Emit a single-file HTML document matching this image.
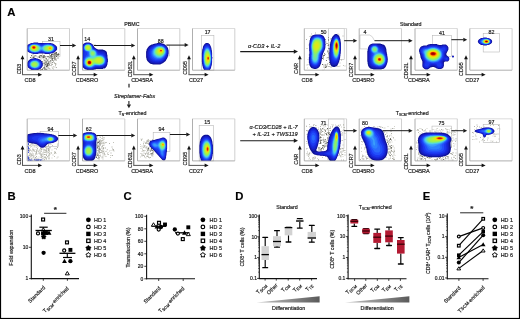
<!DOCTYPE html>
<html><head><meta charset="utf-8"><title>Figure</title><style>
html,body{margin:0;padding:0;background:#fff;}
#wrap{position:relative;width:520px;height:319px;overflow:hidden;background:#fff;}
svg{position:absolute;left:0;top:0;font-family:"Liberation Sans",sans-serif;}
#fg{will-change:transform;}
text{font-family:"Liberation Sans",sans-serif;stroke:#1a1a1a;stroke-width:0.18px;paint-order:stroke;}
</style></head><body><div id="wrap">
<svg width="520" height="319" viewBox="0 0 520 319">
<defs><filter id="bl" x="-5%" y="-5%" width="110%" height="110%"><feGaussianBlur stdDeviation="0.35"/></filter></defs>
<rect x="42.3" y="41.6" width="17.700000000000003" height="14.799999999999997" fill="none" stroke="#b8b8b8" stroke-width="0.6"/>
<rect x="153.8" y="45.1" width="15.699999999999989" height="10.899999999999999" fill="none" stroke="#b8b8b8" stroke-width="0.6"/>
<rect x="201.3" y="35.3" width="12.599999999999994" height="34.900000000000006" fill="none" stroke="#b8b8b8" stroke-width="0.6"/>
<rect x="328.3" y="28.5" width="15.899999999999977" height="30.9" fill="none" stroke="#b8b8b8" stroke-width="0.6"/>
<rect x="432.4" y="35.3" width="19.0" height="21.1" fill="none" stroke="#b8b8b8" stroke-width="0.6"/>
<rect x="483.2" y="33.5" width="16.30000000000001" height="18.5" fill="none" stroke="#b8b8b8" stroke-width="0.6"/>
<rect x="40.1" y="131.6" width="18.199999999999996" height="14.800000000000011" fill="none" stroke="#b8b8b8" stroke-width="0.6"/>
<rect x="153.2" y="132.6" width="16.700000000000017" height="18.700000000000017" fill="none" stroke="#b8b8b8" stroke-width="0.6"/>
<rect x="199.2" y="125.3" width="14.400000000000006" height="35.60000000000001" fill="none" stroke="#b8b8b8" stroke-width="0.6"/>
<rect x="328.3" y="119" width="15.699999999999989" height="29.19999999999999" fill="none" stroke="#b8b8b8" stroke-width="0.6"/>
<rect x="432" y="126.1" width="19.399999999999977" height="19.900000000000006" fill="none" stroke="#b8b8b8" stroke-width="0.6"/>
<rect x="483.2" y="124.4" width="16.30000000000001" height="18.0" fill="none" stroke="#b8b8b8" stroke-width="0.6"/>
<path d="M367,48.9 L360,48.9 L360,35 L369.5,35 Q372.5,35.5 374.5,40.7" fill="none" stroke="#b8b8b8" stroke-width="0.6"/>
<path d="M96,44.5 L83,44.5 L83,40" fill="none" stroke="#c8c8c8" stroke-width="0.5"/>
<g><path fill="rgb(120,120,110)" fill-opacity="0.8" d="M52 62h1v1h-1zM48 67.5h1v1h-1zM50.5 65h1v1h-1zM47 60h1v1h-1zM49.5 55h1v1h-1zM50 55h1v1h-1zM52 59.5h1v1h-1zM55.5 52h1v1h-1zM47.5 56h1v1h-1zM47 63.5h1v1h-1zM58 53.5h1v1h-1zM44.5 63.5h1v1h-1zM51 54h1v1h-1zM50 60h1v1h-1zM44.5 61.5h1v1h-1zM46.5 68.5h1v1h-1zM52.5 54h1v1h-1zM45.5 61h1v1h-1zM54 56h1v1h-1zM40 69.5h1v1h-1zM57.5 53.5h1v1h-1zM45.5 61.5h1v1h-1zM46.5 59h1v1h-1zM55 53.5h1v1h-1zM45.5 64.5h1v1h-1zM47 64h1v1h-1zM44 68.5h1v1h-1zM47 60.5h1v1h-1zM51 55.5h1v1h-1zM58.5 54h1v1h-1zM43.5 59.5h1v1h-1zM49 64h1v1h-1zM48.5 64.5h1v1h-1zM52.5 53.5h1v1h-1zM44.5 62h1v1h-1zM42 61h1v1h-1zM50.5 60.5h1v1h-1zM40.5 69h1v1h-1zM44 65.5h1v1h-1zM46 69h1v1h-1zM47 65h1v1h-1zM48.5 62.5h1v1h-1zM55.5 58.5h1v1h-1zM54.5 55h1v1h-1zM46.5 66h1v1h-1zM52.5 53h1v1h-1zM53.5 56.5h1v1h-1zM50 55h1v1h-1zM56.5 54.5h1v1h-1zM47.5 60.5h1v1h-1zM42.5 57.5h1v1h-1zM37.5 56.5h1v1h-1zM43 55h1v1h-1zM42 56.5h1v1h-1zM44 55h1v1h-1zM40.5 58.5h1v1h-1zM45 57.5h1v1h-1zM32.5 57h1v1h-1zM326.5 65.5h1v1h-1zM327 63.5h1v1h-1zM328 48h1v1h-1zM325 39h1v1h-1zM328.5 48h1v1h-1zM327.5 45h1v1h-1zM324 53h1v1h-1zM99 147.5h1v1h-1zM99 151.5h1v1h-1zM96 157h1v1h-1zM98 149.5h1v1h-1zM96.5 144.5h1v1h-1zM99 148.5h1v1h-1zM98.5 151h1v1h-1zM148.5 142.5h1v1h-1zM147 148.5h1v1h-1zM150.5 149.5h1v1h-1zM145 153.5h1v1h-1zM148 149.5h1v1h-1zM152.5 152h1v1h-1zM148 152.5h1v1h-1zM147 148.5h1v1h-1zM152 153h1v1h-1zM319.5 148.5h1v1h-1zM326 141.5h1v1h-1zM320 140h1v1h-1zM329 132.5h1v1h-1zM320.5 134h1v1h-1zM326 133h1v1h-1zM321 129.5h1v1h-1zM322 134.5h1v1h-1zM319.5 132.5h1v1h-1zM320 142.5h1v1h-1zM325 130.5h1v1h-1zM320.5 150h1v1h-1zM320.5 151h1v1h-1zM326.5 142.5h1v1h-1zM322.5 145.5h1v1h-1zM328.5 137.5h1v1h-1zM323.5 141h1v1h-1zM320 139.5h1v1h-1zM327 139.5h1v1h-1zM324.5 142.5h1v1h-1zM324.5 129.5h1v1h-1zM328 131.5h1v1h-1zM390 152.5h1v1h-1zM391.5 151h1v1h-1zM391 139.5h1v1h-1zM389.5 141.5h1v1h-1zM387.5 141.5h1v1h-1zM391 148h1v1h-1zM391 145h1v1h-1zM439 158h1v1h-1zM421.5 158h1v1h-1zM420.5 158h1v1h-1zM436.5 158.5h1v1h-1zM420.5 159h1v1h-1zM440.5 158.5h1v1h-1zM429 157h1v1h-1zM440 157h1v1h-1zM447.5 156h1v1h-1zM428.5 157.5h1v1h-1zM438.5 157h1v1h-1z"/>
<path fill="rgb(60,60,50)" fill-opacity="0.8" d="M51.5 58.5h1v1h-1zM53 58h1v1h-1zM43.5 67.5h1v1h-1zM54.5 59h1v1h-1zM51.5 64h1v1h-1zM56 56h1v1h-1zM47.5 63h1v1h-1zM43.5 63h1v1h-1zM55 57.5h1v1h-1zM50 56.5h1v1h-1zM45 68.5h1v1h-1zM49.5 61h1v1h-1zM46 66h1v1h-1zM51 57h1v1h-1zM46.5 66.5h1v1h-1zM46.5 65h1v1h-1zM42 69h1v1h-1zM52 58h1v1h-1zM51.5 54h1v1h-1zM47.5 63h1v1h-1zM48 63h1v1h-1zM46.5 64h1v1h-1zM57.5 57.5h1v1h-1zM56.5 55h1v1h-1zM52 58.5h1v1h-1zM52 60h1v1h-1zM41.5 69h1v1h-1zM51.5 56h1v1h-1zM58 54.5h1v1h-1zM44 63h1v1h-1zM54 53.5h1v1h-1zM52.5 54.5h1v1h-1zM45.5 62.5h1v1h-1zM49 56.5h1v1h-1zM56 52h1v1h-1zM46 58h1v1h-1zM49 53.5h1v1h-1zM51.5 57.5h1v1h-1zM53 54.5h1v1h-1zM51 55.5h1v1h-1zM51 54h1v1h-1zM47.5 65h1v1h-1zM42 68.5h1v1h-1zM40.5 56.5h1v1h-1zM44 56.5h1v1h-1zM43 57h1v1h-1zM39 57h1v1h-1zM33 56.5h1v1h-1zM34 56.5h1v1h-1zM35.5 55.5h1v1h-1zM326.5 43h1v1h-1zM329.5 64h1v1h-1zM325 64.5h1v1h-1zM328 39.5h1v1h-1zM329 62h1v1h-1zM322 64h1v1h-1zM322 58h1v1h-1zM328 44.5h1v1h-1zM325.5 66h1v1h-1zM325 67h1v1h-1zM328 53.5h1v1h-1zM327.5 51.5h1v1h-1zM323 56.5h1v1h-1zM98.5 141h1v1h-1zM97.5 142h1v1h-1zM97 155h1v1h-1zM98.5 146h1v1h-1zM96 156.5h1v1h-1zM97 142.5h1v1h-1zM97.5 154.5h1v1h-1zM99.5 144.5h1v1h-1zM98.5 157h1v1h-1zM99.5 143h1v1h-1zM99.5 149h1v1h-1zM97.5 145.5h1v1h-1zM98 142h1v1h-1zM151.5 154.5h1v1h-1zM148 148.5h1v1h-1zM150 150.5h1v1h-1zM148 147.5h1v1h-1zM151 149.5h1v1h-1zM151 148h1v1h-1zM327 128h1v1h-1zM323 148.5h1v1h-1zM323 139.5h1v1h-1zM327 137.5h1v1h-1zM321.5 139.5h1v1h-1zM326 134h1v1h-1zM320 128.5h1v1h-1zM320 141.5h1v1h-1zM329 134h1v1h-1zM319.5 137.5h1v1h-1zM324 146.5h1v1h-1zM325.5 143h1v1h-1zM319.5 143h1v1h-1zM320.5 137h1v1h-1zM321 148h1v1h-1zM322.5 145h1v1h-1zM320.5 140h1v1h-1zM325 130.5h1v1h-1zM320.5 142.5h1v1h-1zM320 136.5h1v1h-1zM320.5 130.5h1v1h-1zM325 139h1v1h-1zM329.5 128h1v1h-1zM327.5 132h1v1h-1zM326.5 145.5h1v1h-1zM327 142h1v1h-1zM320.5 149h1v1h-1zM386.5 139.5h1v1h-1zM389.5 151.5h1v1h-1zM391 150h1v1h-1zM391 147h1v1h-1zM388 143.5h1v1h-1zM388.5 148.5h1v1h-1zM389 154.5h1v1h-1zM389.5 145.5h1v1h-1zM389.5 146h1v1h-1zM390 139h1v1h-1zM427 157h1v1h-1zM424.5 158h1v1h-1zM443 159h1v1h-1zM421.5 156h1v1h-1zM445 157.5h1v1h-1zM420.5 155h1v1h-1zM437 158.5h1v1h-1z"/>
<path fill="rgb(90,90,80)" fill-opacity="0.8" d="M54.5 52h1v1h-1zM54.5 55h1v1h-1zM43.5 67h1v1h-1zM58 54h1v1h-1zM50.5 55.5h1v1h-1zM55 53.5h1v1h-1zM50.5 62.5h1v1h-1zM44.5 60h1v1h-1zM54 53.5h1v1h-1zM47.5 64h1v1h-1zM48 61.5h1v1h-1zM51 54.5h1v1h-1zM45 64h1v1h-1zM55 53h1v1h-1zM46 61.5h1v1h-1zM47.5 56h1v1h-1zM53 60.5h1v1h-1zM44.5 69h1v1h-1zM46 61.5h1v1h-1zM54 58h1v1h-1zM45 64h1v1h-1zM48.5 62.5h1v1h-1zM48.5 57.5h1v1h-1zM50.5 58h1v1h-1zM46 62.5h1v1h-1zM57 54h1v1h-1zM44 67.5h1v1h-1zM47 65.5h1v1h-1zM51 54.5h1v1h-1zM47 65.5h1v1h-1zM54.5 52.5h1v1h-1zM43.5 67h1v1h-1zM56 56h1v1h-1zM56 53h1v1h-1zM54 57h1v1h-1zM54.5 55.5h1v1h-1zM58 53.5h1v1h-1zM47.5 63h1v1h-1zM44.5 66.5h1v1h-1zM56 54h1v1h-1zM44.5 64.5h1v1h-1zM51.5 59.5h1v1h-1zM40 55h1v1h-1zM33 57h1v1h-1zM32.5 54.5h1v1h-1zM31.5 56.5h1v1h-1zM34.5 55h1v1h-1zM30 57h1v1h-1zM44.5 56h1v1h-1zM39.5 56.5h1v1h-1zM41 55h1v1h-1zM43 56h1v1h-1zM44 56.5h1v1h-1zM31 55h1v1h-1zM39 55.5h1v1h-1zM38.5 56.5h1v1h-1zM41 55.5h1v1h-1zM328.5 66h1v1h-1zM323 55h1v1h-1zM327.5 57h1v1h-1zM323.5 66.5h1v1h-1zM323 58.5h1v1h-1zM327 50.5h1v1h-1zM326 60h1v1h-1zM328 37h1v1h-1zM326 66.5h1v1h-1zM324.5 54h1v1h-1zM323.5 64.5h1v1h-1zM324 55h1v1h-1zM330.5 66.5h1v1h-1zM97.5 153.5h1v1h-1zM99 140.5h1v1h-1zM97 147h1v1h-1zM97 146.5h1v1h-1zM96 156.5h1v1h-1zM99 142.5h1v1h-1zM147 150h1v1h-1zM151.5 153h1v1h-1zM148 143.5h1v1h-1zM145 143h1v1h-1zM151.5 149.5h1v1h-1zM152 150h1v1h-1zM150.5 153h1v1h-1zM152.5 153.5h1v1h-1zM320 141.5h1v1h-1zM328.5 132h1v1h-1zM326.5 134.5h1v1h-1zM322.5 145h1v1h-1zM328 133h1v1h-1zM318.5 147h1v1h-1zM318.5 149.5h1v1h-1zM319.5 132.5h1v1h-1zM322 147h1v1h-1zM323.5 134.5h1v1h-1zM322 128h1v1h-1zM323.5 145.5h1v1h-1zM324.5 141h1v1h-1zM322 147.5h1v1h-1zM322 131h1v1h-1zM387 142h1v1h-1zM390 138h1v1h-1zM390 155h1v1h-1zM390 147.5h1v1h-1zM387.5 140.5h1v1h-1zM419.5 153.5h1v1h-1zM446.5 156h1v1h-1zM435.5 159h1v1h-1zM430.5 157h1v1h-1zM418 153.5h1v1h-1zM422 156h1v1h-1zM447.5 157.5h1v1h-1zM435.5 159.5h1v1h-1zM422.5 156.5h1v1h-1zM425 159.5h1v1h-1zM419.5 155.5h1v1h-1z"/>
<path fill="rgb(200,200,190)" fill-opacity="0.8" d="M52 68h1v1h-1zM43.5 61.5h1v1h-1zM46.5 62h1v1h-1zM44.5 56.5h1v1h-1zM48.5 66.5h1v1h-1zM43 62.5h1v1h-1zM48 59h1v1h-1zM53 66h1v1h-1zM50 62.5h1v1h-1zM51.5 66.5h1v1h-1zM49 56h1v1h-1zM55.5 63h1v1h-1zM43.5 63.5h1v1h-1zM51 64h1v1h-1zM52.5 55h1v1h-1zM54 62h1v1h-1zM49.5 61h1v1h-1zM55.5 64h1v1h-1zM43 63.5h1v1h-1zM48.5 59.5h1v1h-1zM45.5 57.5h1v1h-1zM46 59h1v1h-1zM51.5 63.5h1v1h-1zM43.5 65h1v1h-1zM53 56h1v1h-1zM47.5 57h1v1h-1zM52.5 67h1v1h-1zM53 58h1v1h-1zM328 37.5h1v1h-1zM339.5 65.5h1v1h-1zM324 68.5h1v1h-1zM307 67.5h1v1h-1zM328.5 43.5h1v1h-1zM324 67h1v1h-1zM322.5 69.5h1v1h-1zM328.5 63h1v1h-1zM308.5 54.5h1v1h-1zM328.5 54.5h1v1h-1zM328 54h1v1h-1zM307.5 59h1v1h-1zM338.5 66h1v1h-1zM329.5 42h1v1h-1zM322.5 33h1v1h-1zM36 153.5h1v1h-1zM32.5 157.5h1v1h-1zM34 145h1v1h-1zM36.5 157.5h1v1h-1zM35.5 159h1v1h-1zM31.5 155.5h1v1h-1zM30 144.5h1v1h-1zM44.5 158.5h1v1h-1zM32 153.5h1v1h-1zM38 151h1v1h-1zM49 151h1v1h-1zM43 153.5h1v1h-1zM43 149.5h1v1h-1zM39.5 159h1v1h-1zM46 148.5h1v1h-1zM49 153.5h1v1h-1zM47.5 150.5h1v1h-1zM35 154.5h1v1h-1zM42.5 152h1v1h-1zM29.5 150h1v1h-1zM32.5 145h1v1h-1zM32.5 146.5h1v1h-1zM40 148h1v1h-1zM38.5 158.5h1v1h-1zM44.5 156h1v1h-1zM34 145.5h1v1h-1zM48 155.5h1v1h-1zM48.5 154.5h1v1h-1zM33.5 155h1v1h-1zM45 156.5h1v1h-1zM31 146h1v1h-1zM44 149h1v1h-1zM48 149.5h1v1h-1zM49.5 152h1v1h-1zM42.5 152h1v1h-1zM48.5 158h1v1h-1zM48 145h1v1h-1zM29.5 156.5h1v1h-1zM43.5 156.5h1v1h-1zM33.5 144.5h1v1h-1zM34.5 149h1v1h-1zM39 149.5h1v1h-1zM44.5 152h1v1h-1zM46 159h1v1h-1zM28 144.5h1v1h-1zM48.5 144h1v1h-1zM28 158h1v1h-1zM48 149.5h1v1h-1zM39.5 159h1v1h-1zM36 147h1v1h-1zM29 158.5h1v1h-1zM46 147.5h1v1h-1zM45 157.5h1v1h-1zM37.5 150h1v1h-1zM38.5 156.5h1v1h-1zM37.5 146.5h1v1h-1zM41.5 148.5h1v1h-1zM41.5 148.5h1v1h-1zM33 156.5h1v1h-1zM29 148.5h1v1h-1zM35 144.5h1v1h-1zM32 144.5h1v1h-1zM40 159.5h1v1h-1zM30 144.5h1v1h-1zM31 144.5h1v1h-1zM43 156.5h1v1h-1zM37 150.5h1v1h-1zM32 151.5h1v1h-1zM28 148h1v1h-1zM29 157h1v1h-1zM28.5 158.5h1v1h-1zM46 151.5h1v1h-1zM56.5 157.5h1v1h-1zM46.5 157h1v1h-1zM50.5 144h1v1h-1zM57.5 143h1v1h-1zM51.5 157.5h1v1h-1zM51 152h1v1h-1zM45 154h1v1h-1zM47.5 151h1v1h-1zM55.5 153h1v1h-1zM50 143.5h1v1h-1zM45.5 157.5h1v1h-1zM54.5 151h1v1h-1zM49 147.5h1v1h-1zM51 153h1v1h-1zM51.5 149.5h1v1h-1zM97.5 158h1v1h-1zM97.5 141h1v1h-1zM99.5 152.5h1v1h-1zM103 148h1v1h-1zM103.5 150.5h1v1h-1zM98 148h1v1h-1zM97 136h1v1h-1zM100.5 143h1v1h-1zM102 142.5h1v1h-1zM96 156h1v1h-1zM99 155.5h1v1h-1zM99 142.5h1v1h-1zM97.5 144.5h1v1h-1zM97.5 158h1v1h-1zM99 145.5h1v1h-1zM97 136.5h1v1h-1zM97.5 151.5h1v1h-1zM102 136h1v1h-1zM98 140.5h1v1h-1zM102 139.5h1v1h-1zM98.5 159.5h1v1h-1zM97.5 154.5h1v1h-1zM96.5 150h1v1h-1zM99.5 152.5h1v1h-1zM98.5 158h1v1h-1zM98.5 155h1v1h-1zM103.5 141.5h1v1h-1zM100 137h1v1h-1zM100 154.5h1v1h-1zM101.5 157.5h1v1h-1zM101.5 143.5h1v1h-1zM102 146h1v1h-1zM97 141h1v1h-1zM100.5 141h1v1h-1zM103 142.5h1v1h-1zM102 147.5h1v1h-1zM101 142.5h1v1h-1zM103.5 154.5h1v1h-1zM99 144h1v1h-1zM102.5 148.5h1v1h-1zM109 150.5h1v1h-1zM110.5 155h1v1h-1zM103.5 145h1v1h-1zM107.5 152h1v1h-1zM110.5 150h1v1h-1zM104.5 155.5h1v1h-1zM112.5 150h1v1h-1zM107 149h1v1h-1zM110 157h1v1h-1zM103.5 147.5h1v1h-1zM106.5 149.5h1v1h-1zM104.5 142.5h1v1h-1zM104 153h1v1h-1zM101 140h1v1h-1zM110 155h1v1h-1zM148 153h1v1h-1zM148 156h1v1h-1zM150.5 150h1v1h-1zM146.5 141.5h1v1h-1zM143 147h1v1h-1zM149 142h1v1h-1zM148 149.5h1v1h-1zM141.5 151h1v1h-1zM140 144h1v1h-1zM147 140.5h1v1h-1zM145.5 157.5h1v1h-1zM152.5 155.5h1v1h-1zM143.5 150h1v1h-1zM145 142h1v1h-1zM141 154.5h1v1h-1zM148.5 151.5h1v1h-1zM142.5 150.5h1v1h-1zM141.5 145.5h1v1h-1zM143 143h1v1h-1zM140 156.5h1v1h-1zM140 146h1v1h-1zM146 152.5h1v1h-1zM148 139h1v1h-1zM144.5 157h1v1h-1zM151.5 153.5h1v1h-1zM141.5 146.5h1v1h-1zM141.5 154h1v1h-1zM140.5 138.5h1v1h-1zM149 157.5h1v1h-1zM142 138.5h1v1h-1zM148 141h1v1h-1zM146 143h1v1h-1zM149.5 149h1v1h-1zM142 148.5h1v1h-1zM148 154h1v1h-1zM145 143h1v1h-1zM340.5 156.5h1v1h-1zM339 126h1v1h-1zM315 125h1v1h-1zM335 124.5h1v1h-1zM306 125.5h1v1h-1zM319.5 150h1v1h-1zM309.5 126h1v1h-1zM338 125h1v1h-1zM339.5 149h1v1h-1zM341 126.5h1v1h-1zM318 127.5h1v1h-1zM319.5 139.5h1v1h-1zM308.5 158.5h1v1h-1zM308 154h1v1h-1zM344 132.5h1v1h-1zM324 132h1v1h-1zM306 148.5h1v1h-1zM321 135h1v1h-1zM313.5 157.5h1v1h-1zM327.5 129.5h1v1h-1zM310 159h1v1h-1zM340.5 155h1v1h-1zM342.5 130h1v1h-1zM331.5 124h1v1h-1zM312 159.5h1v1h-1zM326.5 145h1v1h-1zM340 148.5h1v1h-1zM342.5 154h1v1h-1zM328 131h1v1h-1zM343 125h1v1h-1zM324 132.5h1v1h-1zM344.5 133h1v1h-1zM324.5 139.5h1v1h-1zM318 148h1v1h-1zM321.5 125h1v1h-1zM333 124.5h1v1h-1zM320.5 124h1v1h-1zM339 152.5h1v1h-1zM317.5 150.5h1v1h-1zM317 158h1v1h-1zM314.5 156h1v1h-1zM306.5 154.5h1v1h-1zM315 157h1v1h-1zM324.5 145h1v1h-1zM315 157.5h1v1h-1zM338 155h1v1h-1zM340.5 155.5h1v1h-1zM327 124.5h1v1h-1zM342.5 156h1v1h-1zM341.5 149.5h1v1h-1zM308.5 155h1v1h-1zM330 130h1v1h-1zM342 148h1v1h-1zM322.5 131h1v1h-1zM325 145h1v1h-1zM343 127h1v1h-1zM330 128h1v1h-1zM342 132h1v1h-1zM338.5 124.5h1v1h-1zM319.5 147h1v1h-1zM326 140.5h1v1h-1zM316.5 155h1v1h-1zM324 139.5h1v1h-1zM361.5 129h1v1h-1zM390.5 134.5h1v1h-1zM385 130.5h1v1h-1zM369 158.5h1v1h-1zM393.5 154h1v1h-1zM362 154.5h1v1h-1zM360 138.5h1v1h-1zM361.5 127.5h1v1h-1zM392.5 158h1v1h-1zM367.5 158h1v1h-1zM365.5 151.5h1v1h-1zM394 147.5h1v1h-1zM386.5 137h1v1h-1zM360 135h1v1h-1zM389 140h1v1h-1zM365 127h1v1h-1zM384 132h1v1h-1zM369 126h1v1h-1zM390 158h1v1h-1zM387.5 126h1v1h-1zM390.5 135h1v1h-1zM394 126h1v1h-1zM365.5 148h1v1h-1zM384.5 127.5h1v1h-1zM392.5 146.5h1v1h-1zM366 156.5h1v1h-1zM394.5 155h1v1h-1zM362.5 158.5h1v1h-1zM391.5 136.5h1v1h-1zM383.5 127.5h1v1h-1zM389.5 142.5h1v1h-1zM389 154h1v1h-1zM364.5 155.5h1v1h-1zM391.5 141.5h1v1h-1zM386 132.5h1v1h-1zM360 129.5h1v1h-1zM366 151h1v1h-1zM363 141h1v1h-1zM388.5 146.5h1v1h-1zM373.5 126h1v1h-1zM388.5 151h1v1h-1zM377 126.5h1v1h-1zM361.5 144h1v1h-1zM378.5 126h1v1h-1zM361 151h1v1h-1zM389 141.5h1v1h-1zM386.5 132.5h1v1h-1zM391.5 151h1v1h-1zM362 154.5h1v1h-1zM394.5 139.5h1v1h-1zM390 148h1v1h-1zM417 159.5h1v1h-1zM453 132.5h1v1h-1zM436 130.5h1v1h-1zM454.5 143.5h1v1h-1zM436 128.5h1v1h-1zM423.5 131h1v1h-1zM454 148.5h1v1h-1zM445 128h1v1h-1zM443 157h1v1h-1zM416.5 147h1v1h-1zM439 129.5h1v1h-1zM421 128.5h1v1h-1zM424 130h1v1h-1zM449.5 159.5h1v1h-1zM453 143h1v1h-1zM431.5 159h1v1h-1zM437 128h1v1h-1zM455.5 129h1v1h-1zM447.5 129h1v1h-1zM419.5 158.5h1v1h-1zM449 129.5h1v1h-1zM452.5 152h1v1h-1zM434.5 129.5h1v1h-1zM423 159h1v1h-1zM455.5 140h1v1h-1zM448 159.5h1v1h-1zM429 158h1v1h-1zM448 157.5h1v1h-1zM451 144h1v1h-1zM416.5 130h1v1h-1zM450.5 132h1v1h-1zM416 141.5h1v1h-1zM426.5 128h1v1h-1zM447 132.5h1v1h-1zM455.5 138h1v1h-1zM418 152h1v1h-1zM419.5 131h1v1h-1zM443.5 158.5h1v1h-1zM451.5 140.5h1v1h-1zM441.5 130.5h1v1h-1zM417 145.5h1v1h-1zM446.5 158.5h1v1h-1zM422.5 130h1v1h-1zM418.5 152.5h1v1h-1zM453.5 155h1v1h-1zM480.5 127h1v1h-1zM492.5 135.5h1v1h-1zM484 126.5h1v1h-1zM493 125h1v1h-1zM475.5 136h1v1h-1zM474 129h1v1h-1zM487.5 134.5h1v1h-1zM476.5 132.5h1v1h-1zM495.5 134h1v1h-1zM476.5 138.5h1v1h-1zM481.5 140h1v1h-1zM499.5 128.5h1v1h-1zM494.5 136h1v1h-1zM473.5 139h1v1h-1zM492 141h1v1h-1zM492.5 140.5h1v1h-1zM497 128.5h1v1h-1zM472 139h1v1h-1zM475.5 135.5h1v1h-1z"/>
<path fill="rgb(160,160,150)" fill-opacity="0.8" d="M44.5 62h1v1h-1zM43.5 67.5h1v1h-1zM54.5 66.5h1v1h-1zM44 60h1v1h-1zM55 63h1v1h-1zM55.5 60h1v1h-1zM52 60h1v1h-1zM56 67h1v1h-1zM43.5 63h1v1h-1zM44.5 63.5h1v1h-1zM54 59.5h1v1h-1zM52.5 57h1v1h-1zM46 59.5h1v1h-1zM48.5 63.5h1v1h-1zM45.5 58.5h1v1h-1zM310.5 35.5h1v1h-1zM306 39h1v1h-1zM306.5 64.5h1v1h-1zM325.5 41.5h1v1h-1zM326.5 57.5h1v1h-1zM342.5 35.5h1v1h-1zM309.5 36h1v1h-1zM308.5 44.5h1v1h-1zM338.5 34.5h1v1h-1zM341 59.5h1v1h-1zM330 38.5h1v1h-1zM315 32.5h1v1h-1zM306.5 48h1v1h-1zM42.5 158h1v1h-1zM29.5 145h1v1h-1zM29 150.5h1v1h-1zM45.5 149.5h1v1h-1zM30.5 143.5h1v1h-1zM30 149.5h1v1h-1zM46 155h1v1h-1zM41 155.5h1v1h-1zM47.5 148.5h1v1h-1zM32.5 143.5h1v1h-1zM47.5 146.5h1v1h-1zM40.5 151h1v1h-1zM37 148.5h1v1h-1zM49.5 147h1v1h-1zM35.5 151h1v1h-1zM39.5 152.5h1v1h-1zM46 150.5h1v1h-1zM34 159h1v1h-1zM28.5 149h1v1h-1zM33 149.5h1v1h-1zM34.5 158h1v1h-1zM37 148h1v1h-1zM33.5 156.5h1v1h-1zM42.5 154.5h1v1h-1zM36.5 144.5h1v1h-1zM49.5 153.5h1v1h-1zM44 154h1v1h-1zM39.5 153.5h1v1h-1zM39.5 153.5h1v1h-1zM36.5 145.5h1v1h-1zM36.5 144.5h1v1h-1zM34 150.5h1v1h-1zM43.5 159.5h1v1h-1zM30 155.5h1v1h-1zM40 147.5h1v1h-1zM29.5 154h1v1h-1zM44.5 150h1v1h-1zM38.5 151.5h1v1h-1zM28.5 155h1v1h-1zM36.5 159h1v1h-1zM40.5 154.5h1v1h-1zM31.5 143h1v1h-1zM46 154.5h1v1h-1zM35 157h1v1h-1zM36 156h1v1h-1zM41 149h1v1h-1zM48.5 149.5h1v1h-1zM29.5 152.5h1v1h-1zM36 152h1v1h-1zM39.5 153.5h1v1h-1zM37.5 158.5h1v1h-1zM48 150h1v1h-1zM32.5 149h1v1h-1zM40.5 155.5h1v1h-1zM46.5 152.5h1v1h-1zM44.5 152h1v1h-1zM57 147h1v1h-1zM54.5 148h1v1h-1zM56 148.5h1v1h-1zM48.5 156.5h1v1h-1zM48 144.5h1v1h-1zM57 144.5h1v1h-1zM48 148h1v1h-1zM40.5 148.5h1v1h-1zM48.5 155h1v1h-1zM55 152h1v1h-1zM40.5 157h1v1h-1zM100.5 140.5h1v1h-1zM96 154.5h1v1h-1zM100 152h1v1h-1zM102.5 149.5h1v1h-1zM99 147.5h1v1h-1zM98.5 151.5h1v1h-1zM101 146.5h1v1h-1zM100.5 150h1v1h-1zM99 152.5h1v1h-1zM99.5 144.5h1v1h-1zM100.5 152h1v1h-1zM102.5 156.5h1v1h-1zM98 155.5h1v1h-1zM100.5 142.5h1v1h-1zM100 155.5h1v1h-1zM97 154.5h1v1h-1zM100.5 141h1v1h-1zM99.5 144h1v1h-1zM103.5 138.5h1v1h-1zM97.5 145h1v1h-1zM102.5 145h1v1h-1zM103 148h1v1h-1zM99.5 139.5h1v1h-1zM102.5 153h1v1h-1zM100 139.5h1v1h-1zM103.5 137h1v1h-1zM97.5 150h1v1h-1zM101.5 138h1v1h-1zM101 150.5h1v1h-1zM99.5 136.5h1v1h-1zM97.5 143.5h1v1h-1zM102 145.5h1v1h-1zM98.5 155h1v1h-1zM96.5 153h1v1h-1zM102 151.5h1v1h-1zM104 153.5h1v1h-1zM110.5 152.5h1v1h-1zM102.5 151h1v1h-1zM113 149.5h1v1h-1zM105.5 151h1v1h-1zM109 143h1v1h-1zM107 153.5h1v1h-1zM105 147.5h1v1h-1zM112 148.5h1v1h-1zM112 155h1v1h-1zM113 149h1v1h-1zM111.5 146.5h1v1h-1zM105.5 142h1v1h-1zM101.5 156.5h1v1h-1zM147 156h1v1h-1zM147 153.5h1v1h-1zM149.5 154h1v1h-1zM152 152.5h1v1h-1zM143.5 146.5h1v1h-1zM142.5 153.5h1v1h-1zM149.5 157h1v1h-1zM148.5 140h1v1h-1zM145.5 147.5h1v1h-1zM153 150.5h1v1h-1zM146.5 146.5h1v1h-1zM142.5 155h1v1h-1zM147.5 139.5h1v1h-1zM143.5 141.5h1v1h-1zM149.5 147.5h1v1h-1zM146.5 156h1v1h-1zM143.5 155h1v1h-1zM145.5 146.5h1v1h-1zM141.5 155.5h1v1h-1zM140.5 153h1v1h-1zM147.5 141h1v1h-1zM152.5 150.5h1v1h-1zM149.5 150h1v1h-1zM146.5 141.5h1v1h-1zM146.5 152.5h1v1h-1zM325 125.5h1v1h-1zM319.5 131.5h1v1h-1zM319 140.5h1v1h-1zM313.5 124h1v1h-1zM320 133.5h1v1h-1zM328 132h1v1h-1zM341.5 151.5h1v1h-1zM318 159.5h1v1h-1zM336.5 125.5h1v1h-1zM341 153.5h1v1h-1zM312.5 126.5h1v1h-1zM340 124.5h1v1h-1zM344.5 154.5h1v1h-1zM341.5 134.5h1v1h-1zM339 153.5h1v1h-1zM340 148.5h1v1h-1zM313.5 158.5h1v1h-1zM315.5 127h1v1h-1zM322.5 128h1v1h-1zM324.5 145.5h1v1h-1zM340.5 151.5h1v1h-1zM309 152.5h1v1h-1zM306 130h1v1h-1zM342 154h1v1h-1zM318.5 148h1v1h-1zM306.5 153h1v1h-1zM320 126h1v1h-1zM307.5 130h1v1h-1zM343.5 129.5h1v1h-1zM308 144.5h1v1h-1zM306.5 148h1v1h-1zM309 153.5h1v1h-1zM327 145h1v1h-1zM340 151.5h1v1h-1zM339 154.5h1v1h-1zM308.5 153.5h1v1h-1zM318.5 147h1v1h-1zM343 159.5h1v1h-1zM340.5 131h1v1h-1zM340 155.5h1v1h-1zM309.5 126.5h1v1h-1zM323 142h1v1h-1zM330 126.5h1v1h-1zM330 130h1v1h-1zM325 133h1v1h-1zM314.5 157.5h1v1h-1zM311 126.5h1v1h-1zM370.5 159.5h1v1h-1zM360 159h1v1h-1zM367 154h1v1h-1zM368 126h1v1h-1zM366 158.5h1v1h-1zM364 148.5h1v1h-1zM387 135h1v1h-1zM362.5 155h1v1h-1zM388.5 158.5h1v1h-1zM380 126.5h1v1h-1zM362 156h1v1h-1zM394 150.5h1v1h-1zM385.5 157h1v1h-1zM391 154h1v1h-1zM389 135.5h1v1h-1zM383.5 131h1v1h-1zM388.5 153.5h1v1h-1zM390.5 147.5h1v1h-1zM362.5 156h1v1h-1zM392 128h1v1h-1zM393.5 152.5h1v1h-1zM365 146.5h1v1h-1zM392 158h1v1h-1zM380.5 126.5h1v1h-1zM367 158h1v1h-1zM391 133h1v1h-1zM394 159h1v1h-1zM387.5 145.5h1v1h-1zM393 151.5h1v1h-1zM360.5 131.5h1v1h-1zM385 134h1v1h-1zM390 146h1v1h-1zM387 136h1v1h-1zM388.5 151.5h1v1h-1zM390.5 131h1v1h-1zM394 151h1v1h-1zM392.5 155.5h1v1h-1zM391 150h1v1h-1zM389 135.5h1v1h-1zM393 159h1v1h-1zM361.5 157.5h1v1h-1zM362.5 158.5h1v1h-1zM364.5 147h1v1h-1zM392.5 145.5h1v1h-1zM366 157.5h1v1h-1zM388 152.5h1v1h-1zM451 145.5h1v1h-1zM422 129h1v1h-1zM446.5 129h1v1h-1zM426.5 156.5h1v1h-1zM429.5 131h1v1h-1zM441 132h1v1h-1zM455 158h1v1h-1zM453.5 131h1v1h-1zM419.5 157.5h1v1h-1zM430 157.5h1v1h-1zM421 159h1v1h-1zM439.5 157h1v1h-1zM441 129h1v1h-1zM447 132.5h1v1h-1zM451 133h1v1h-1zM451 157.5h1v1h-1zM418 129.5h1v1h-1zM424 156h1v1h-1zM452 154h1v1h-1zM448.5 131.5h1v1h-1zM452.5 159.5h1v1h-1zM443.5 132.5h1v1h-1zM417.5 157.5h1v1h-1zM434 159h1v1h-1zM452.5 134.5h1v1h-1zM425 129.5h1v1h-1zM442.5 129.5h1v1h-1zM454.5 132h1v1h-1zM452.5 152.5h1v1h-1zM452.5 137.5h1v1h-1zM435 159.5h1v1h-1zM419.5 133.5h1v1h-1zM451 153h1v1h-1zM451 146.5h1v1h-1zM425.5 131.5h1v1h-1zM434.5 131h1v1h-1zM428 156.5h1v1h-1zM453.5 157h1v1h-1zM448.5 132.5h1v1h-1zM453.5 145.5h1v1h-1zM444.5 159.5h1v1h-1zM450 153h1v1h-1zM417 159.5h1v1h-1zM453.5 139.5h1v1h-1zM441 132h1v1h-1zM417.5 142.5h1v1h-1zM437.5 130.5h1v1h-1zM476.5 124.5h1v1h-1zM480 137h1v1h-1zM498 125h1v1h-1zM493.5 133h1v1h-1zM472 132h1v1h-1zM497.5 133.5h1v1h-1zM479 126.5h1v1h-1zM487.5 137.5h1v1h-1zM492.5 124h1v1h-1zM474 126h1v1h-1zM493.5 134h1v1h-1z"/>
<path fill="rgb(180,180,170)" fill-opacity="0.8" d="M50.5 56.5h1v1h-1zM49 68h1v1h-1zM55 65h1v1h-1zM55 58h1v1h-1zM54 57.5h1v1h-1zM53 68.5h1v1h-1zM55 64h1v1h-1zM49.5 68.5h1v1h-1zM45.5 58.5h1v1h-1zM43.5 58.5h1v1h-1zM53.5 62h1v1h-1zM49 65h1v1h-1zM47.5 66.5h1v1h-1zM51 57.5h1v1h-1zM56 59.5h1v1h-1zM54 63h1v1h-1zM43 68h1v1h-1zM337 65.5h1v1h-1zM331 38h1v1h-1zM339.5 62.5h1v1h-1zM337.5 66h1v1h-1zM307.5 64h1v1h-1zM326 64.5h1v1h-1zM337.5 33.5h1v1h-1zM344.5 65.5h1v1h-1zM311 33.5h1v1h-1zM343 65h1v1h-1zM45.5 149.5h1v1h-1zM28.5 150h1v1h-1zM31.5 157.5h1v1h-1zM44 157h1v1h-1zM28.5 158.5h1v1h-1zM36 151h1v1h-1zM34.5 146.5h1v1h-1zM44 159h1v1h-1zM30 146.5h1v1h-1zM48 152h1v1h-1zM47 156h1v1h-1zM31 154.5h1v1h-1zM32.5 150h1v1h-1zM46 154.5h1v1h-1zM29 155h1v1h-1zM35.5 152.5h1v1h-1zM43 151.5h1v1h-1zM36 152.5h1v1h-1zM41 150.5h1v1h-1zM36 149.5h1v1h-1zM31.5 153.5h1v1h-1zM46 146.5h1v1h-1zM32 148.5h1v1h-1zM41 155h1v1h-1zM42.5 148.5h1v1h-1zM44.5 157h1v1h-1zM33.5 159.5h1v1h-1zM41.5 153h1v1h-1zM32 155h1v1h-1zM29 150.5h1v1h-1zM33 153.5h1v1h-1zM31 158h1v1h-1zM36.5 153.5h1v1h-1zM32.5 148.5h1v1h-1zM35.5 144.5h1v1h-1zM31 155h1v1h-1zM29 158.5h1v1h-1zM28 144h1v1h-1zM42.5 148.5h1v1h-1zM33.5 150.5h1v1h-1zM45 147h1v1h-1zM39.5 149.5h1v1h-1zM35 153.5h1v1h-1zM41.5 156h1v1h-1zM29.5 157.5h1v1h-1zM46.5 151.5h1v1h-1zM48.5 158.5h1v1h-1zM33 155.5h1v1h-1zM45 157h1v1h-1zM29 157.5h1v1h-1zM40.5 159h1v1h-1zM35.5 153h1v1h-1zM30.5 153.5h1v1h-1zM49 153h1v1h-1zM46.5 148h1v1h-1zM39.5 150h1v1h-1zM45.5 150.5h1v1h-1zM42 156h1v1h-1zM41.5 154h1v1h-1zM28.5 145h1v1h-1zM28 145.5h1v1h-1zM38.5 153h1v1h-1zM48.5 153.5h1v1h-1zM46 149.5h1v1h-1zM41.5 157.5h1v1h-1zM40.5 148h1v1h-1zM46 158h1v1h-1zM41 157h1v1h-1zM48.5 157.5h1v1h-1zM36 150.5h1v1h-1zM33 159.5h1v1h-1zM31 155.5h1v1h-1zM31 150.5h1v1h-1zM36 158.5h1v1h-1zM43.5 149.5h1v1h-1zM40 152.5h1v1h-1zM30.5 159h1v1h-1zM29.5 153h1v1h-1zM52.5 154.5h1v1h-1zM54 153h1v1h-1zM48 145h1v1h-1zM48 149.5h1v1h-1zM52 145h1v1h-1zM40.5 154h1v1h-1zM48 149h1v1h-1zM54 156h1v1h-1zM49.5 147.5h1v1h-1zM49 149.5h1v1h-1zM54.5 152.5h1v1h-1zM54 151.5h1v1h-1zM57.5 156.5h1v1h-1zM44.5 151.5h1v1h-1zM103 139.5h1v1h-1zM97.5 152h1v1h-1zM96.5 138h1v1h-1zM98 156h1v1h-1zM98 146.5h1v1h-1zM102 140h1v1h-1zM103.5 143.5h1v1h-1zM99 151.5h1v1h-1zM97 148h1v1h-1zM103 151h1v1h-1zM100 144h1v1h-1zM97 153h1v1h-1zM101.5 140.5h1v1h-1zM103.5 152h1v1h-1zM101.5 150h1v1h-1zM102.5 142.5h1v1h-1zM102.5 154.5h1v1h-1zM103 147h1v1h-1zM97 158h1v1h-1zM99 150h1v1h-1zM97.5 158h1v1h-1zM98 150h1v1h-1zM98.5 158.5h1v1h-1zM97 139.5h1v1h-1zM96 154.5h1v1h-1zM100.5 148h1v1h-1zM97.5 139h1v1h-1zM97.5 148h1v1h-1zM102.5 158.5h1v1h-1zM102 137.5h1v1h-1zM98 138.5h1v1h-1zM103 142.5h1v1h-1zM103.5 143h1v1h-1zM102 140h1v1h-1zM113 142h1v1h-1zM108 154h1v1h-1zM104.5 154h1v1h-1zM105.5 156h1v1h-1zM101 152h1v1h-1zM100 142h1v1h-1zM113.5 150.5h1v1h-1zM105.5 142h1v1h-1zM147 150h1v1h-1zM149.5 146h1v1h-1zM143.5 146.5h1v1h-1zM147.5 140h1v1h-1zM144 156h1v1h-1zM146.5 148.5h1v1h-1zM147 143h1v1h-1zM144.5 153h1v1h-1zM141 139h1v1h-1zM151.5 155.5h1v1h-1zM146 141.5h1v1h-1zM140.5 148h1v1h-1zM147 149.5h1v1h-1zM144.5 150h1v1h-1zM152 139h1v1h-1zM150 140.5h1v1h-1zM142 149.5h1v1h-1zM145 153.5h1v1h-1zM146 142.5h1v1h-1zM141 140h1v1h-1zM143 143.5h1v1h-1zM146.5 155.5h1v1h-1zM144 146h1v1h-1zM150 157h1v1h-1zM144.5 145h1v1h-1zM143.5 145h1v1h-1zM147 140.5h1v1h-1zM146.5 140h1v1h-1zM151 154h1v1h-1zM146.5 151h1v1h-1zM148 157h1v1h-1zM147.5 154.5h1v1h-1zM143 150h1v1h-1zM143.5 151.5h1v1h-1zM151.5 155.5h1v1h-1zM324 139.5h1v1h-1zM307.5 154.5h1v1h-1zM332 126.5h1v1h-1zM323 146.5h1v1h-1zM342.5 150.5h1v1h-1zM324.5 130h1v1h-1zM323 125h1v1h-1zM325.5 144h1v1h-1zM323.5 126.5h1v1h-1zM310.5 152.5h1v1h-1zM307 151.5h1v1h-1zM309 124h1v1h-1zM324 129h1v1h-1zM343 129.5h1v1h-1zM306 141h1v1h-1zM341.5 140h1v1h-1zM344.5 150h1v1h-1zM323 137.5h1v1h-1zM344.5 139h1v1h-1zM343.5 150h1v1h-1zM312.5 158.5h1v1h-1zM341 159.5h1v1h-1zM320.5 149.5h1v1h-1zM315.5 125h1v1h-1zM322.5 129h1v1h-1zM342 148h1v1h-1zM342.5 144.5h1v1h-1zM326.5 129h1v1h-1zM306.5 134h1v1h-1zM338 125h1v1h-1zM344 127h1v1h-1zM343 148.5h1v1h-1zM341.5 133h1v1h-1zM318 159h1v1h-1zM309 157.5h1v1h-1zM329 132.5h1v1h-1zM318.5 148.5h1v1h-1zM323 142h1v1h-1zM326.5 132.5h1v1h-1zM344.5 152h1v1h-1zM307 130.5h1v1h-1zM328.5 130h1v1h-1zM313 125h1v1h-1zM326 150h1v1h-1zM341.5 134.5h1v1h-1zM308 156h1v1h-1zM342 140h1v1h-1zM325 146h1v1h-1zM343 150h1v1h-1zM321 132h1v1h-1zM332 125.5h1v1h-1zM323.5 125h1v1h-1zM328.5 159.5h1v1h-1zM313 157h1v1h-1zM325 139.5h1v1h-1zM312 157.5h1v1h-1zM319.5 130.5h1v1h-1zM327 158.5h1v1h-1zM318.5 147.5h1v1h-1zM318 129h1v1h-1zM324 144.5h1v1h-1zM341.5 140h1v1h-1zM306 126h1v1h-1zM323 125h1v1h-1zM343 124h1v1h-1zM343 150.5h1v1h-1zM322 157h1v1h-1zM325 156h1v1h-1zM306.5 143h1v1h-1zM393 137h1v1h-1zM390 156.5h1v1h-1zM373.5 126h1v1h-1zM382 127h1v1h-1zM388 144h1v1h-1zM366.5 152h1v1h-1zM392 155.5h1v1h-1zM389 140h1v1h-1zM388 138h1v1h-1zM366 149.5h1v1h-1zM386 136h1v1h-1zM389.5 155h1v1h-1zM390.5 128.5h1v1h-1zM379 126h1v1h-1zM388 148.5h1v1h-1zM387 141.5h1v1h-1zM393.5 149.5h1v1h-1zM362 141.5h1v1h-1zM363 158.5h1v1h-1zM365 156.5h1v1h-1zM388 144h1v1h-1zM362 156h1v1h-1zM361 147.5h1v1h-1zM393 137.5h1v1h-1zM361 141h1v1h-1zM389 139h1v1h-1zM393 157.5h1v1h-1zM363.5 158.5h1v1h-1zM367.5 156.5h1v1h-1zM390.5 149.5h1v1h-1zM364 126h1v1h-1zM393.5 157.5h1v1h-1zM393.5 128h1v1h-1zM440 130.5h1v1h-1zM451 147h1v1h-1zM419 135.5h1v1h-1zM432.5 129h1v1h-1zM421.5 159h1v1h-1zM442 157.5h1v1h-1zM446.5 132h1v1h-1zM455.5 149h1v1h-1zM422 129.5h1v1h-1zM417.5 130h1v1h-1zM429.5 130h1v1h-1zM455 141h1v1h-1zM455 155h1v1h-1zM416 149h1v1h-1zM453.5 156.5h1v1h-1zM446.5 130.5h1v1h-1zM453.5 134.5h1v1h-1zM445.5 158h1v1h-1zM451.5 132h1v1h-1zM445.5 128.5h1v1h-1zM447.5 156.5h1v1h-1zM451 153.5h1v1h-1zM417 129h1v1h-1zM418 132h1v1h-1zM451.5 159.5h1v1h-1zM454.5 134h1v1h-1zM455.5 152.5h1v1h-1zM442 159.5h1v1h-1zM435.5 132h1v1h-1zM452 140.5h1v1h-1zM418.5 151.5h1v1h-1zM452 130.5h1v1h-1zM447 131h1v1h-1zM444.5 156h1v1h-1zM451.5 130.5h1v1h-1zM450.5 128h1v1h-1zM441 159.5h1v1h-1zM426.5 156.5h1v1h-1zM455.5 138.5h1v1h-1zM416 142.5h1v1h-1zM419.5 128h1v1h-1zM417.5 140h1v1h-1zM421.5 132.5h1v1h-1zM498.5 138.5h1v1h-1zM476 127.5h1v1h-1zM494.5 135.5h1v1h-1zM490.5 140.5h1v1h-1zM475.5 138.5h1v1h-1zM472.5 136h1v1h-1zM475 134.5h1v1h-1zM477 126h1v1h-1zM498.5 128h1v1h-1zM481 127h1v1h-1zM484 140h1v1h-1zM482 139h1v1h-1zM479 141.5h1v1h-1zM490 125h1v1h-1zM487 139.5h1v1h-1zM473 132.5h1v1h-1zM496 141.5h1v1h-1zM495.5 133.5h1v1h-1zM494.5 136h1v1h-1z"/>
<path fill="rgb(30,50,200)" fill-opacity="0.8" d="M27.5 157h1v1h-1zM27.5 146h1v1h-1zM28 150h1v1h-1zM28 144h1v1h-1zM28 148h1v1h-1zM28 147h1v1h-1zM28 158.5h1v1h-1zM27.5 158.5h1v1h-1zM28 157.5h1v1h-1zM28 148.5h1v1h-1zM28 157h1v1h-1zM28.5 148h1v1h-1zM27.5 157.5h1v1h-1zM27.5 156h1v1h-1zM28 144h1v1h-1zM28 143h1v1h-1zM27.5 146h1v1h-1zM28 152h1v1h-1zM28 151.5h1v1h-1zM37.5 160h1v1h-1zM41 159.5h1v1h-1zM28.5 159.5h1v1h-1zM37 159.5h1v1h-1zM31.5 159.5h1v1h-1zM41 159.5h1v1h-1zM37 159.5h1v1h-1zM28 160h1v1h-1zM37.5 160h1v1h-1zM37 159.5h1v1h-1zM35 159.5h1v1h-1zM38.5 159h1v1h-1zM34 159.5h1v1h-1zM37 160h1v1h-1zM40 159.5h1v1h-1zM38 159.5h1v1h-1zM40 159.5h1v1h-1zM34 159.5h1v1h-1zM29.5 160h1v1h-1zM31.5 160h1v1h-1zM37 160h1v1h-1zM37.5 159.5h1v1h-1zM36.5 159.5h1v1h-1zM40 159.5h1v1h-1zM36.5 160h1v1h-1zM31 159.5h1v1h-1zM41.5 159.5h1v1h-1zM35.5 160h1v1h-1zM28.5 159.5h1v1h-1zM30 160h1v1h-1zM29.5 159.5h1v1h-1zM40 160h1v1h-1zM38.5 160h1v1h-1zM29.5 159h1v1h-1zM36 159.5h1v1h-1z"/></g>
<g filter="url(#bl)"><path fill="rgb(16,18,149)" fill-rule="evenodd" d="M28.6 60.6 27.3 62.6 27.3 65.9 28.1 67.4 29.3 68.6 31.6 69.9 32.1 69.9 32.3 70.1 37.6 70.1 37.8 69.9 39.1 69.6 40.3 68.9 42.1 67.1 42.6 66.1 42.6 65.6 42.8 65.4 42.8 63.1 42.3 61.9 40.6 59.9 38.8 58.9 38.3 58.9 37.3 58.4 36.1 58.4 35.8 58.1 32.8 58.4 32.6 58.6 31.8 58.6 29.8 59.6ZM27.3 45.1 27.3 51.4 30.3 53.1 31.8 53.4 32.1 53.6 33.1 53.6 33.3 53.9 37.8 53.9 38.1 53.6 44.8 53.6 45.1 53.9 49.1 53.9 49.3 53.6 50.8 53.6 51.1 53.4 53.1 52.9 55.3 51.6 56.3 50.6 57.1 49.4 57.1 47.4 56.8 47.1 56.8 46.6 55.1 44.9 52.8 43.6 51.3 43.4 51.1 43.1 50.1 43.1 49.8 42.9 38.3 42.9 38.1 42.6 33.6 42.6 33.3 42.9 32.1 42.9 31.8 43.1 30.3 43.4Z"/>
<path fill="rgb(20,28,188)" fill-rule="evenodd" d="M28.1 62.1 28.1 62.6 27.6 63.6 27.6 64.9 28.3 66.9 30.1 68.6 32.1 69.6 32.8 69.6 33.1 69.9 36.8 69.9 37.1 69.6 38.6 69.4 39.6 68.9 41.3 67.4 42.3 65.4 42.3 63.1 41.6 61.6 39.8 59.9 37.6 58.9 36.6 58.9 36.3 58.6 33.6 58.6 33.3 58.9 32.6 58.9 32.3 59.1 31.1 59.4 29.8 60.1ZM27.3 45.9 27.3 50.6 28.3 51.6 30.6 52.9 32.1 53.1 32.3 53.4 33.8 53.4 34.1 53.6 36.3 53.6 36.6 53.4 38.6 53.4 38.8 53.1 40.6 53.1 40.8 52.9 41.8 52.9 42.1 53.1 44.1 53.1 44.3 53.4 46.6 53.4 46.8 53.6 50.3 53.4 50.6 53.1 51.3 53.1 51.6 52.9 52.8 52.6 54.6 51.6 55.8 50.4 56.6 48.4 56.1 46.6 54.3 44.9 52.3 43.9 50.8 43.6 50.6 43.4 49.6 43.4 49.3 43.1 38.8 43.4 38.6 43.1 34.6 42.9 34.3 43.1 32.6 43.1 32.3 43.4 31.6 43.4 31.3 43.6 30.1 43.9 29.1 44.4Z"/>
<path fill="rgb(23,36,211)" fill-rule="evenodd" d="M30.6 60.1 29.1 61.4 28.1 63.4 28.1 65.1 28.3 65.4 28.3 65.9 28.8 66.9 30.3 68.4 31.8 69.1 33.3 69.4 33.6 69.6 36.3 69.6 36.6 69.4 38.1 69.1 39.6 68.4 41.3 66.6 41.8 65.4 41.8 63.1 41.1 61.6 39.1 59.9 37.1 59.1 34.3 58.9 34.1 59.1 32.8 59.1ZM27.3 46.6 27.3 49.9 28.6 51.4 30.8 52.6 31.3 52.6 32.3 53.1 33.8 53.1 34.1 53.4 38.1 53.1 38.3 52.9 39.3 52.9 39.6 52.6 43.3 52.6 43.6 52.9 44.6 52.9 44.8 53.1 50.1 53.1 50.3 52.9 51.1 52.9 53.6 51.9 55.1 50.6 55.8 49.4 55.8 47.4 55.3 46.4 54.1 45.1 52.1 44.1 50.6 43.9 50.3 43.6 49.1 43.6 48.8 43.4 45.8 43.4 45.6 43.6 43.8 43.6 43.6 43.9 39.6 43.9 39.3 43.6 38.1 43.6 37.8 43.4 32.6 43.4 32.3 43.6 30.8 43.9 28.6 45.1Z"/>
<path fill="rgb(25,45,224)" fill-rule="evenodd" d="M29.3 61.6 28.8 62.4 28.6 63.9 28.3 64.1 28.6 64.6 28.6 65.6 29.1 66.6 30.6 68.1 32.8 69.1 33.8 69.1 34.1 69.4 36.1 69.4 36.3 69.1 37.1 69.1 37.3 68.9 38.6 68.6 40.8 66.6 41.6 64.9 41.6 63.9 40.8 61.9 38.8 60.1 36.8 59.4 33.1 59.4 30.3 60.6ZM27.3 47.6 27.3 48.9 27.6 49.1 27.6 49.6 29.1 51.4 30.8 52.4 31.3 52.4 32.3 52.9 33.6 52.9 33.8 53.1 37.8 52.9 38.1 52.6 40.1 52.4 40.3 52.1 42.6 52.1 42.8 52.4 44.8 52.6 45.1 52.9 50.1 52.9 50.3 52.6 51.8 52.4 54.1 51.1 54.8 50.4 55.6 48.6 55.1 46.6 53.8 45.4 52.1 44.4 50.6 44.1 50.3 43.9 49.1 43.9 48.8 43.6 46.3 43.6 46.1 43.9 44.3 43.9 44.1 44.1 43.1 44.1 42.8 44.4 40.3 44.4 40.1 44.1 39.1 44.1 38.8 43.9 37.8 43.9 37.6 43.6 35.6 43.6 35.3 43.4 34.6 43.4 34.3 43.6 32.6 43.6 32.3 43.9 31.6 43.9 30.8 44.4 30.3 44.4 29.1 45.1 28.1 46.1Z"/>
<path fill="rgb(28,56,240)" fill-rule="evenodd" d="M29.1 62.6 29.1 63.1 28.8 63.4 28.8 65.4 29.8 67.1 31.1 68.1 32.8 68.9 35.6 69.1 35.8 68.9 37.1 68.9 37.3 68.6 37.8 68.6 39.8 67.4 41.1 65.4 41.1 63.4 40.6 62.1 38.6 60.4 36.6 59.6 33.3 59.6 33.1 59.9 31.8 60.1 30.6 60.9ZM27.8 47.1 27.8 49.4 28.8 50.9 30.8 52.1 31.3 52.1 32.3 52.6 33.3 52.6 33.6 52.9 36.3 52.9 36.6 52.6 37.8 52.6 38.1 52.4 38.8 52.4 39.1 52.1 40.8 51.9 41.1 51.6 42.8 51.9 44.1 52.4 45.1 52.4 45.3 52.6 47.1 52.6 47.3 52.9 50.3 52.6 53.3 51.4 54.6 50.1 55.1 49.1 55.1 47.6 54.8 47.4 54.8 46.9 53.3 45.4 52.1 44.6 51.6 44.6 50.6 44.1 49.3 44.1 49.1 43.9 46.3 43.9 46.1 44.1 44.6 44.1 43.3 44.6 41.1 44.9 40.8 44.6 39.8 44.6 39.6 44.4 38.8 44.4 37.6 43.9 34.1 43.6 33.8 43.9 32.6 43.9 32.3 44.1 31.6 44.1 30.8 44.6 30.3 44.6 29.6 45.1Z"/>
<path fill="rgb(34,79,251)" fill-rule="evenodd" d="M30.1 61.9 29.3 63.1 29.3 65.4 29.8 66.4 31.1 67.6 32.6 68.4 33.3 68.4 33.6 68.6 36.3 68.6 36.6 68.4 37.3 68.4 39.1 67.4 40.3 65.9 40.3 65.4 40.6 65.1 40.6 63.4 40.1 62.4 38.6 60.9 37.6 60.4 35.8 60.1 35.6 59.9 34.3 59.9 34.1 60.1 32.3 60.4ZM28.1 47.9 28.1 48.6 28.6 49.9 30.1 51.4 31.6 52.1 32.1 52.1 32.3 52.4 33.6 52.4 33.8 52.6 37.3 52.4 37.6 52.1 38.3 52.1 40.8 51.1 41.8 51.1 42.1 51.4 42.8 51.4 43.1 51.6 43.6 51.6 44.6 52.1 45.6 52.1 45.8 52.4 50.1 52.4 50.3 52.1 51.6 51.9 53.3 50.9 54.1 50.1 54.6 49.1 54.6 47.6 54.1 46.6 53.1 45.6 51.1 44.6 48.8 44.4 48.6 44.1 45.3 44.4 45.1 44.6 43.3 44.9 42.3 45.4 40.8 45.4 40.6 45.1 40.1 45.1 38.3 44.4 37.6 44.4 37.3 44.1 35.6 44.1 35.3 43.9 34.6 43.9 34.3 44.1 32.6 44.1 32.3 44.4 31.1 44.6 29.8 45.4 28.6 46.6Z"/>
<path fill="rgb(41,107,253)" fill-rule="evenodd" d="M30.1 62.6 29.6 63.9 29.8 65.6 31.3 67.4 32.8 68.1 33.8 68.1 34.1 68.4 36.8 68.1 38.3 67.4 39.6 66.1 40.1 65.1 40.1 63.6 39.6 62.4 38.6 61.4 36.3 60.4 33.3 60.4 33.1 60.6 32.6 60.6 30.8 61.6ZM28.6 47.6 28.6 49.1 29.6 50.6 31.1 51.6 31.6 51.6 32.6 52.1 33.6 52.1 33.8 52.4 35.8 52.4 36.1 52.1 37.1 52.1 37.3 51.9 38.8 51.6 40.8 50.6 42.1 50.6 43.6 51.4 44.1 51.4 45.1 51.9 45.8 51.9 46.1 52.1 49.8 52.1 50.1 51.9 50.8 51.9 52.8 50.9 53.6 50.1 54.1 49.1 54.1 47.4 53.8 46.9 52.1 45.4 50.1 44.6 45.6 44.6 42.3 45.9 40.6 45.9 39.3 45.1 38.8 45.1 37.1 44.4 35.3 44.4 35.1 44.1 34.6 44.1 34.3 44.4 31.8 44.6 30.3 45.4 28.8 46.9 28.8 47.4Z"/>
<path fill="rgb(47,129,254)" fill-rule="evenodd" d="M30.1 63.1 29.8 64.9 30.3 66.1 31.3 67.1 33.8 68.1 35.8 68.1 37.8 67.4 39.1 66.4 39.6 65.6 39.6 64.9 39.8 64.6 39.8 63.9 39.3 62.6 38.1 61.4 36.3 60.6 33.3 60.6 33.1 60.9 32.6 60.9 31.6 61.4ZM28.8 47.6 28.8 48.9 29.1 49.1 29.1 49.6 30.6 51.1 33.3 52.1 36.3 52.1 36.6 51.9 37.3 51.9 37.6 51.6 38.8 51.4 41.3 50.1 42.3 50.4 44.8 51.6 47.1 51.9 47.3 52.1 48.6 52.1 48.8 51.9 50.1 51.9 52.1 51.1 53.1 50.4 53.8 49.1 53.8 47.6 52.8 46.1 51.1 45.1 50.6 45.1 50.3 44.9 49.1 44.9 48.8 44.6 46.8 44.6 46.6 44.9 45.6 44.9 45.3 45.1 44.6 45.1 42.1 46.4 41.1 46.4 37.3 44.6 36.3 44.6 36.1 44.4 33.6 44.4 33.3 44.6 31.6 44.9 30.3 45.6 29.3 46.6Z"/>
<path fill="rgb(58,159,250)" fill-rule="evenodd" d="M30.6 62.6 30.1 63.9 30.3 65.6 31.3 66.9 32.6 67.6 33.3 67.6 33.6 67.9 36.1 67.9 37.8 67.1 39.3 65.4 39.3 63.4 38.8 62.4 37.6 61.4 36.3 60.9 33.1 60.9 31.6 61.6ZM29.1 47.6 29.1 49.1 29.3 49.6 31.3 51.4 31.8 51.4 32.8 51.9 36.8 51.9 37.1 51.6 38.3 51.4 40.8 49.9 42.1 49.9 43.6 50.9 45.6 51.6 46.6 51.6 46.8 51.9 49.3 51.9 52.1 50.9 53.6 49.1 53.6 47.6 53.1 46.6 50.6 45.1 49.6 45.1 49.3 44.9 46.3 44.9 46.1 45.1 44.6 45.4 41.8 46.9 41.1 46.9 40.1 46.1 37.6 44.9 36.8 44.9 36.6 44.6 32.8 44.6 30.6 45.6 29.6 46.6Z"/>
<path fill="rgb(73,196,240)" fill-rule="evenodd" d="M30.8 62.9 30.6 64.1 30.3 64.4 30.6 64.6 30.8 65.9 31.8 66.9 33.6 67.6 35.6 67.6 37.6 66.9 38.6 65.9 39.1 64.6 38.6 62.9 37.3 61.6 36.1 61.1 33.3 61.1 32.1 61.6ZM29.3 47.9 29.6 49.4 30.3 50.4 32.1 51.4 32.6 51.4 32.8 51.6 34.1 51.6 34.3 51.9 37.6 51.4 39.1 50.6 41.3 48.6 42.3 49.1 44.3 50.9 44.8 50.9 45.6 51.4 46.6 51.4 46.8 51.6 49.1 51.6 49.3 51.4 50.3 51.4 51.1 50.9 51.6 50.9 52.8 49.9 53.3 48.9 53.3 47.6 52.1 46.1 49.3 45.1 46.6 45.1 46.3 45.4 44.8 45.6 43.8 46.1 41.6 48.1 41.3 48.1 38.6 45.6 36.6 44.9 34.8 44.9 34.3 44.6 34.1 44.9 32.6 44.9 31.1 45.6 30.1 46.4Z"/>
<path fill="rgb(89,219,215)" fill-rule="evenodd" d="M31.3 62.6 30.8 63.6 30.8 65.1 31.1 65.6 32.8 67.1 33.6 67.1 33.8 67.4 35.6 67.4 35.8 67.1 36.3 67.1 37.3 66.6 38.1 65.9 38.6 64.9 38.3 63.1 37.1 61.9 35.8 61.4 33.6 61.4 32.3 61.9ZM42.8 48.1 42.8 48.6 43.8 50.1 45.1 50.9 46.6 51.1 46.8 51.4 49.1 51.4 49.3 51.1 50.8 50.9 51.8 50.4 53.1 48.9 53.1 47.6 52.1 46.4 49.3 45.4 46.6 45.4 46.3 45.6 45.1 45.9 43.8 46.6ZM29.8 47.4 29.8 49.1 30.1 49.6 31.1 50.6 32.1 51.1 33.8 51.4 34.1 51.6 36.8 51.4 37.6 50.9 38.1 50.9 38.8 50.4 40.1 48.9 40.1 47.6 39.1 46.4 37.3 45.4 35.6 45.1 35.3 44.9 33.3 44.9 33.1 45.1 32.3 45.1 31.3 45.6Z"/>
<path fill="rgb(107,226,174)" fill-rule="evenodd" d="M31.3 63.1 31.1 63.6 31.1 64.9 31.6 65.9 32.1 66.4 33.8 67.1 35.3 67.1 35.6 66.9 36.1 66.9 37.1 66.4 38.1 65.1 38.1 63.6 37.8 63.1 36.8 62.1 35.6 61.6 33.6 61.6 33.3 61.9 32.8 61.9ZM43.6 47.6 43.6 49.1 44.8 50.4 46.1 50.9 46.8 50.9 47.1 51.1 49.1 51.1 49.3 50.9 50.8 50.6 51.8 50.1 52.8 48.9 52.8 47.6 52.1 46.6 51.3 46.1 49.6 45.9 49.3 45.6 46.8 45.6 46.6 45.9 45.8 45.9 44.8 46.4ZM30.1 47.4 30.1 48.9 30.3 49.4 31.6 50.6 32.8 51.1 33.6 51.1 33.8 51.4 35.6 51.4 35.8 51.1 37.3 50.9 38.3 50.4 39.6 48.9 39.6 47.9 38.6 46.4 37.3 45.6 35.8 45.4 35.6 45.1 32.8 45.1 32.6 45.4 32.1 45.4 31.6 45.6Z"/>
<path fill="rgb(128,235,127)" fill-rule="evenodd" d="M31.6 63.4 31.6 63.9 31.3 64.1 31.6 65.4 32.6 66.4 33.8 66.6 34.1 66.9 35.1 66.9 35.3 66.6 36.6 66.4 37.3 65.6 37.8 64.4 37.6 64.1 37.6 63.4 36.6 62.4 35.3 61.9 33.8 61.9 33.6 62.1 33.1 62.1ZM44.1 47.9 44.1 48.9 45.1 50.1 46.3 50.6 47.1 50.6 47.3 50.9 48.8 50.9 49.1 50.6 50.3 50.6 50.6 50.4 51.1 50.4 52.6 49.1 52.6 48.6 52.8 48.4 52.6 47.4 51.8 46.6 49.8 45.9 47.1 45.9 46.8 46.1 46.1 46.1 45.1 46.6ZM30.3 47.6 30.3 48.6 30.8 49.6 32.1 50.6 33.6 50.9 33.8 51.1 35.6 51.1 35.8 50.9 37.3 50.6 37.8 50.4 39.1 48.9 39.1 47.6 38.1 46.4 35.1 45.1 33.3 45.1 33.1 45.4 31.8 45.6 30.6 46.9 30.6 47.4Z"/>
<path fill="rgb(148,240,92)" fill-rule="evenodd" d="M32.1 63.4 31.8 63.9 31.8 64.9 32.6 65.9 33.6 66.4 35.6 66.4 37.1 65.1 37.1 63.6 35.6 62.4 33.3 62.4ZM44.8 47.9 44.8 48.9 45.1 49.4 46.1 50.1 46.6 50.1 46.8 50.4 50.3 50.4 51.6 49.9 52.6 48.6 52.3 47.4 51.6 46.6 50.3 46.4 50.1 46.1 46.8 46.4 45.6 46.9ZM30.6 47.6 30.8 48.9 31.6 49.9 32.3 50.4 34.1 50.6 34.3 50.9 36.3 50.6 37.3 50.1 38.6 48.6 38.3 47.4 37.3 46.4 35.3 45.4 32.8 45.4 32.6 45.6 32.1 45.6 30.8 46.9 30.8 47.4Z"/>
<path fill="rgb(166,240,74)" fill-rule="evenodd" d="M33.3 62.9 32.3 64.1 32.3 64.6 33.1 65.6 33.6 65.9 35.6 65.9 36.6 64.9 36.6 63.9 35.6 62.9 34.8 62.9 34.6 62.6ZM45.6 48.1 45.6 48.6 46.1 49.4 47.1 49.9 48.1 49.9 48.3 50.1 50.6 50.1 50.8 49.9 51.3 49.9 52.3 48.9 52.3 47.6 51.3 46.6 50.8 46.6 50.6 46.4 48.6 46.4 48.3 46.6 47.1 46.9 46.1 47.4ZM31.3 46.4 30.8 47.4 30.8 48.1 31.3 49.1 32.8 50.1 33.3 50.1 33.6 50.4 35.8 50.4 37.1 49.9 37.8 48.9 37.8 47.6 37.6 47.1 36.6 46.1 35.6 45.6 35.1 45.6 34.8 45.4 33.1 45.4 32.8 45.6 32.3 45.6Z"/>
<path fill="rgb(189,240,51)" fill-rule="evenodd" d="M47.3 47.9 47.6 49.1 48.8 49.9 50.8 49.9 52.1 48.9 52.1 48.4 52.3 48.1 52.1 47.6 50.8 46.6 48.8 46.6 47.8 47.1ZM31.1 47.1 31.1 48.1 31.3 48.6 32.1 49.4 33.3 49.9 35.3 49.9 35.6 49.6 36.1 49.6 37.1 48.6 37.1 47.4 36.8 46.9 36.1 46.1 35.1 45.6 32.8 45.6 31.8 46.1Z"/>
<path fill="rgb(209,237,33)" fill-rule="evenodd" d="M48.1 47.4 47.8 48.6 48.1 49.1 48.8 49.6 51.1 49.6 52.1 48.6 51.8 47.4 50.3 46.6 49.6 46.6ZM31.6 46.6 31.3 47.1 31.3 48.1 31.6 48.6 32.6 49.4 33.1 49.4 33.3 49.6 34.6 49.6 35.8 49.1 36.6 48.4 36.6 47.1 36.3 46.6 34.8 45.6 33.1 45.6 32.8 45.9 32.3 45.9Z"/>
<path fill="rgb(227,230,20)" fill-rule="evenodd" d="M48.3 47.6 48.3 48.9 48.8 49.4 49.3 49.4 49.6 49.6 51.1 49.4 51.8 48.6 51.6 47.4 50.6 46.9 49.3 46.9ZM32.3 46.1 31.6 46.9 31.6 48.1 31.8 48.6 32.6 49.1 33.1 49.1 33.3 49.4 34.6 49.4 34.8 49.1 35.3 49.1 36.3 48.1 36.3 47.1 35.6 46.1 34.3 45.9 34.1 45.6Z"/>
<path fill="rgb(246,223,7)" fill-rule="evenodd" d="M48.6 47.6 48.6 48.6 49.3 49.4 50.6 49.4 51.6 48.6 51.6 47.9 51.3 47.4 50.8 47.1 49.3 47.1ZM32.1 46.4 31.6 47.6 32.1 48.6 33.1 49.1 34.8 49.1 36.1 48.1 36.1 46.9 35.3 46.1 34.8 46.1 34.6 45.9 33.1 45.9Z"/>
<path fill="rgb(255,205,0)" fill-rule="evenodd" d="M48.8 47.6 48.8 48.6 49.3 49.1 50.8 49.1 51.3 48.6 51.3 47.6 50.3 47.1 49.8 47.1ZM33.6 45.9 32.1 46.6 31.8 47.9 32.3 48.6 34.1 49.1 35.3 48.6 35.8 48.1 35.8 46.9 35.1 46.1Z"/>
<path fill="rgb(255,175,0)" fill-rule="evenodd" d="M49.1 47.9 49.1 48.6 49.3 48.9 50.8 48.9 51.1 48.6 51.1 47.9 50.3 47.4 49.8 47.4ZM32.1 46.9 32.1 48.1 33.1 48.9 34.6 48.9 35.1 48.6 35.8 47.6 35.6 46.9 34.6 46.1 33.1 46.1Z"/>
<path fill="rgb(255,145,0)" fill-rule="evenodd" d="M49.3 48.1 49.6 48.6 50.6 48.6 50.6 47.9 49.6 47.9ZM32.1 47.1 32.3 48.1 33.1 48.6 34.8 48.6 35.6 47.9 35.6 47.1 34.3 46.1 33.3 46.1Z"/>
<path fill="rgb(251,113,0)" fill-rule="evenodd" d="M32.3 47.1 32.3 47.9 33.3 48.6 34.3 48.6 35.3 47.9 35.3 46.9 34.6 46.4 33.1 46.4 32.6 46.6Z"/>
<path fill="rgb(242,77,0)" fill-rule="evenodd" d="M32.6 46.9 32.6 47.9 33.1 48.4 34.6 48.4 35.3 47.6 35.1 46.9 34.3 46.4 33.3 46.4Z"/>
<path fill="rgb(232,37,0)" fill-rule="evenodd" d="M32.6 47.6 33.6 48.4 34.1 48.4 35.1 47.6 34.8 46.9 34.3 46.6 33.3 46.6 32.8 46.9Z"/>
<path fill="rgb(212,24,0)" fill-rule="evenodd" d="M32.8 47.4 33.3 48.1 34.3 48.1 34.8 47.6 34.6 46.9 33.3 46.9Z"/>
<path fill="rgb(185,15,0)" fill-rule="evenodd" d="M34.1 47.4 33.8 47.1 33.6 47.6 34.1 47.6Z"/>
<path fill="rgb(16,18,149)" fill-rule="evenodd" d="M83.9 43.6 82.6 45.1 82.6 66.9 83.1 67.6 84.1 68.6 85.6 69.4 86.1 69.4 87.1 69.9 87.9 69.9 88.1 70.1 92.9 70.1 94.9 69.4 95.6 69.4 95.9 69.1 97.6 69.1 97.9 68.9 102.9 68.9 103.1 68.6 104.6 68.4 105.4 67.9 106.9 65.9 106.9 65.4 107.4 64.4 107.4 63.6 107.6 63.4 107.6 62.1 107.9 61.9 107.9 58.9 107.6 58.6 107.4 54.9 107.1 54.6 106.9 52.6 106.4 51.6 105.1 50.4 104.1 49.9 103.4 49.9 103.1 49.6 99.9 49.6 99.6 49.4 98.1 49.4 95.9 48.4 94.1 46.9 93.1 45.1 91.4 43.4 90.4 42.9 89.9 42.9 89.6 42.6 86.1 42.6Z"/>
<path fill="rgb(20,28,188)" fill-rule="evenodd" d="M84.6 43.9 83.4 45.1 82.6 46.6 82.6 65.4 83.9 67.4 85.6 68.6 86.1 68.6 86.9 69.1 88.9 69.4 89.1 69.6 91.6 69.6 91.9 69.4 92.6 69.4 95.9 68.1 97.4 68.1 97.6 67.9 102.1 67.9 102.4 67.6 103.4 67.6 105.1 66.6 106.1 65.4 107.1 62.6 107.1 58.1 106.6 56.9 106.6 55.9 106.4 55.6 106.1 53.9 105.4 52.4 104.4 51.4 103.1 50.9 101.9 50.9 101.6 50.6 98.6 50.6 97.1 49.9 94.9 48.4 93.4 46.9 92.9 45.6 92.1 44.6 90.4 43.4 89.9 43.4 89.6 43.1 86.4 43.1Z"/>
<path fill="rgb(23,36,211)" fill-rule="evenodd" d="M84.9 44.1 83.6 45.4 82.9 47.4 83.1 51.9 82.9 52.1 82.9 57.6 82.6 57.9 82.6 63.9 83.6 66.1 85.4 67.9 86.4 68.4 86.9 68.4 87.9 68.9 88.9 68.9 89.1 69.1 91.4 69.1 91.6 68.9 92.4 68.9 95.9 67.4 101.9 67.1 104.4 66.1 105.9 64.4 106.6 62.4 106.6 61.4 106.9 61.1 106.9 59.9 106.6 59.6 106.4 57.4 104.9 53.6 103.1 52.1 102.4 52.1 102.1 51.9 99.6 51.9 99.4 51.6 98.6 51.6 95.9 49.4 94.4 48.6 93.1 47.4 92.9 46.4 92.1 45.1 90.1 43.6 89.6 43.6 89.4 43.4 86.6 43.4Z"/>
<path fill="rgb(25,45,224)" fill-rule="evenodd" d="M84.4 44.9 83.4 46.6 83.4 47.6 83.1 47.9 83.1 48.4 83.4 48.6 83.4 49.9 83.6 50.1 83.6 51.1 83.9 51.4 83.9 52.6 83.6 52.9 83.6 56.6 83.4 56.9 83.4 58.1 83.1 58.4 83.1 59.6 82.9 59.9 82.9 63.1 83.1 63.4 83.1 64.1 83.6 65.4 85.4 67.4 88.4 68.6 91.6 68.6 91.9 68.4 93.1 68.1 95.4 66.9 96.6 66.9 96.9 66.6 101.4 66.6 101.6 66.4 102.4 66.4 103.6 65.9 105.1 64.6 105.9 63.4 106.1 61.9 106.4 61.6 106.4 59.1 106.1 58.9 105.9 57.4 104.9 55.4 103.4 53.6 101.4 52.9 99.4 52.9 99.1 52.6 98.6 52.6 95.6 49.6 94.1 48.9 92.9 47.6 92.9 47.1 92.1 45.6 90.9 44.4 89.4 43.6 86.6 43.6 85.4 44.1Z"/>
<path fill="rgb(28,56,240)" fill-rule="evenodd" d="M85.4 44.4 84.1 45.6 83.6 46.6 83.6 47.6 83.4 47.9 83.6 48.1 83.6 49.4 84.6 51.6 84.6 55.1 84.4 55.4 84.4 56.4 84.1 56.6 84.1 57.4 83.4 59.4 83.1 62.4 83.4 62.6 83.4 63.6 83.6 63.9 83.9 65.1 84.4 65.9 85.4 66.9 87.1 67.9 88.6 68.1 88.9 68.4 91.1 68.4 91.4 68.1 92.1 68.1 95.6 66.4 100.4 66.4 100.6 66.1 101.9 66.1 103.6 65.4 105.1 63.9 105.9 62.4 105.9 61.4 106.1 61.1 105.9 58.6 104.4 55.6 103.4 54.6 102.4 54.1 101.9 54.1 101.6 53.9 100.4 53.9 100.1 53.6 98.9 53.6 98.4 53.4 95.9 50.1 93.6 48.9 92.9 48.1 91.9 45.6 90.1 44.1 89.6 44.1 89.4 43.9 86.6 43.9Z"/>
<path fill="rgb(34,79,251)" fill-rule="evenodd" d="M85.1 44.9 84.1 46.1 84.1 46.6 83.9 46.9 83.9 48.9 84.9 50.9 86.9 52.4 87.4 53.4 87.1 53.6 87.1 54.4 85.1 56.9 83.9 59.6 83.9 60.6 83.6 60.9 83.6 62.9 84.6 65.4 86.1 66.9 87.6 67.6 88.4 67.6 88.6 67.9 91.4 67.9 95.4 65.9 100.6 65.9 103.4 64.9 104.9 63.4 105.6 61.4 105.6 59.4 105.4 59.1 105.1 57.9 104.1 56.4 102.6 55.1 102.1 55.1 101.1 54.6 99.6 54.6 99.4 54.4 98.4 54.4 97.9 54.1 96.6 51.6 95.9 50.6 94.9 49.9 93.6 49.4 92.4 48.1 91.9 46.1 91.1 45.1 89.4 44.1 86.6 44.1Z"/>
<path fill="rgb(41,107,253)" fill-rule="evenodd" d="M85.6 44.9 84.6 45.9 84.1 46.9 84.1 48.6 84.6 49.9 85.9 51.1 86.9 51.4 88.4 52.4 88.4 55.4 87.6 56.1 86.6 56.6 85.1 58.1 84.4 59.6 84.4 60.4 84.1 60.6 84.1 63.4 84.9 65.1 86.1 66.4 87.4 67.1 88.9 67.4 89.1 67.6 90.4 67.6 90.6 67.4 91.6 67.4 95.4 65.4 99.6 65.6 99.9 65.4 101.1 65.4 101.4 65.1 102.6 64.9 103.4 64.4 104.4 63.4 105.1 61.9 105.1 59.1 104.1 57.1 102.4 55.6 101.9 55.6 100.9 55.1 98.9 55.1 98.6 54.9 97.4 54.6 96.9 53.9 96.4 51.9 95.9 51.1 94.6 50.1 92.9 49.4 92.4 48.9 91.9 46.9 91.4 45.9 90.4 44.9 89.4 44.4 88.4 44.4 88.1 44.1 87.6 44.4 86.6 44.4Z"/>
<path fill="rgb(47,129,254)" fill-rule="evenodd" d="M85.1 45.4 84.4 46.6 84.4 48.9 84.9 49.9 85.6 50.6 88.1 51.6 88.9 52.4 88.9 55.6 87.9 56.6 86.4 57.4 85.4 58.4 84.4 60.6 84.4 63.1 84.6 63.4 84.6 64.1 86.1 66.1 88.1 67.1 90.6 67.4 90.9 67.1 91.6 67.1 95.1 65.1 99.9 65.4 100.1 65.1 101.9 64.9 103.9 63.6 104.9 61.9 104.9 59.1 104.4 57.9 102.6 56.1 100.6 55.4 98.4 55.4 98.1 55.1 97.4 55.1 96.6 54.4 96.6 53.4 95.9 51.6 94.6 50.4 92.9 49.6 92.1 48.9 91.6 46.6 90.1 44.9 88.9 44.4 87.1 44.4Z"/>
<path fill="rgb(58,159,250)" fill-rule="evenodd" d="M85.6 45.1 84.6 46.4 84.6 46.9 84.4 47.1 84.4 48.4 84.6 48.6 84.6 49.1 85.6 50.4 86.4 50.9 87.9 51.1 89.1 52.1 89.4 56.1 88.4 56.9 86.6 57.6 85.6 58.6 84.9 59.9 84.9 60.4 84.6 60.6 84.6 63.4 85.4 64.9 87.4 66.6 87.9 66.6 88.9 67.1 90.6 67.1 90.9 66.9 91.6 66.9 93.9 65.6 94.4 65.1 94.9 65.1 95.1 64.9 100.1 65.1 100.4 64.9 101.4 64.9 102.9 64.1 104.1 62.9 104.6 61.9 104.6 60.9 104.9 60.6 104.6 59.1 103.9 57.6 102.1 56.1 101.6 56.1 100.6 55.6 97.9 55.6 97.6 55.4 97.1 55.4 96.4 54.6 96.4 53.6 95.6 51.6 94.4 50.4 93.4 50.1 92.1 49.4 91.9 48.1 91.6 47.9 91.6 46.9 90.6 45.4 89.4 44.6 88.4 44.6 88.1 44.4 87.6 44.6 86.6 44.6Z"/>
<path fill="rgb(73,196,240)" fill-rule="evenodd" d="M85.1 45.9 84.6 46.9 84.6 48.4 84.9 48.6 84.9 49.1 85.4 49.9 87.1 50.9 88.9 51.1 89.6 51.9 89.6 54.1 90.1 55.1 90.1 56.4 89.6 56.9 87.1 57.9 85.6 59.4 85.1 60.4 85.1 61.1 84.9 61.4 84.9 62.9 85.1 63.1 85.1 63.6 85.6 64.6 87.1 66.1 88.4 66.6 90.1 66.9 90.4 66.6 91.4 66.6 94.6 64.6 99.9 64.9 100.1 64.6 101.9 64.4 103.4 63.4 104.4 61.6 104.4 59.4 103.6 57.9 102.6 56.9 100.1 55.9 96.6 55.9 95.9 55.1 95.9 52.9 95.6 52.6 95.6 52.1 94.9 51.1 93.6 50.4 93.1 50.4 92.1 49.9 91.6 49.4 91.4 46.9 90.4 45.4 88.6 44.6 87.4 44.6 85.6 45.4Z"/>
<path fill="rgb(89,219,215)" fill-rule="evenodd" d="M85.6 45.6 84.9 46.9 84.9 48.6 85.1 49.1 86.1 50.1 87.1 50.6 88.4 50.6 88.6 50.9 89.6 50.9 90.1 51.6 90.1 54.4 90.9 55.9 91.4 56.4 91.4 56.9 91.1 57.1 88.6 57.6 87.1 58.4 85.9 59.6 85.4 60.6 85.4 63.4 86.1 64.9 88.4 66.4 91.1 66.4 94.4 64.4 99.9 64.6 102.6 63.6 103.4 62.9 104.1 61.4 104.1 59.6 103.6 58.4 102.1 56.9 100.9 56.4 99.9 56.4 99.6 56.1 95.6 56.4 95.1 55.6 95.4 55.4 95.4 54.1 95.6 53.9 95.4 52.4 94.4 51.1 93.4 50.6 92.1 50.4 91.4 49.9 91.4 47.6 90.6 45.9 89.6 45.1 89.1 45.1 88.9 44.9 87.1 44.9Z"/>
<path fill="rgb(107,226,174)" fill-rule="evenodd" d="M103.9 59.9 103.4 58.6 102.6 57.6 101.4 56.9 99.6 56.6 99.4 56.4 95.6 56.9 93.1 58.1 89.4 57.9 87.4 58.6 86.1 59.9 85.6 61.1 85.6 63.1 86.1 64.4 87.4 65.6 88.6 66.1 90.9 66.1 92.4 65.4 93.6 64.4 94.9 63.9 97.6 64.1 97.9 64.4 99.9 64.4 100.1 64.1 101.6 63.9 103.4 62.4 103.9 61.1ZM90.9 50.9 90.6 52.1 90.4 52.4 90.4 53.9 90.9 54.9 91.9 55.9 93.9 55.9 94.4 55.6 95.1 54.4 95.1 52.9 94.6 51.9 93.1 50.9ZM85.6 45.9 85.1 46.6 85.1 48.6 86.1 49.9 87.1 50.4 88.1 50.4 88.4 50.6 89.9 50.6 90.1 50.4 90.6 50.4 90.9 49.1 91.1 48.9 91.1 47.4 90.9 47.1 90.9 46.6 90.1 45.6 89.1 45.1 86.9 45.1Z"/>
<path fill="rgb(128,235,127)" fill-rule="evenodd" d="M103.6 60.1 103.4 59.9 103.4 59.1 102.9 58.4 101.4 57.1 100.9 57.1 100.6 56.9 99.1 56.9 98.9 56.6 98.6 56.9 97.1 56.9 96.9 57.1 95.6 57.4 94.6 58.1 93.4 58.6 91.9 58.6 91.6 58.4 88.9 58.4 88.6 58.6 88.1 58.6 86.4 60.1 85.9 61.4 85.9 63.1 86.6 64.6 87.9 65.6 88.4 65.6 88.6 65.9 90.6 65.9 91.9 65.4 93.4 64.1 94.4 63.6 96.1 63.6 96.4 63.9 97.6 63.9 97.9 64.1 99.9 64.1 100.1 63.9 100.9 63.9 102.4 63.1 102.9 62.6 103.6 60.9ZM91.6 51.4 90.9 52.1 90.9 54.1 91.4 54.9 92.1 55.4 93.4 55.4 93.9 55.1 94.6 54.4 94.6 52.6 94.1 51.9 93.4 51.4ZM85.6 46.1 85.1 47.4 85.1 48.1 85.6 49.1 86.4 49.9 87.6 50.1 87.9 50.4 89.1 50.4 90.4 49.9 90.9 48.9 90.9 47.1 90.1 45.9 88.6 45.1 87.4 45.1 87.1 45.4 86.6 45.4Z"/>
<path fill="rgb(148,240,92)" fill-rule="evenodd" d="M103.1 59.6 102.6 58.6 101.9 57.9 100.9 57.4 100.4 57.4 100.1 57.1 97.6 57.1 95.4 58.1 93.9 59.1 91.4 59.1 91.1 58.9 88.9 58.9 88.6 59.1 88.1 59.1 86.9 60.1 86.1 61.9 86.1 62.9 86.6 64.1 87.9 65.4 88.4 65.4 88.6 65.6 90.6 65.6 94.4 63.1 95.6 63.1 95.9 63.4 96.9 63.4 97.1 63.6 100.6 63.6 102.4 62.6 103.1 61.4ZM92.1 52.1 91.6 52.6 91.6 53.9 92.1 54.4 92.9 54.6 93.9 53.9 93.9 53.1 93.4 52.4ZM86.6 45.6 85.6 46.6 85.6 47.1 85.4 47.4 85.4 48.1 85.9 49.1 87.1 49.9 87.9 49.9 88.1 50.1 89.6 49.9 90.6 48.6 90.6 47.1 90.4 46.6 89.4 45.6 88.9 45.6 88.6 45.4 87.4 45.4 87.1 45.6Z"/>
<path fill="rgb(166,240,74)" fill-rule="evenodd" d="M102.6 59.4 101.9 58.4 100.6 57.6 99.9 57.6 99.6 57.4 98.4 57.4 98.1 57.6 96.6 57.9 94.6 59.4 93.4 59.9 92.4 59.9 92.1 59.6 89.6 59.1 87.6 59.9 86.9 60.6 86.4 61.9 86.4 63.1 86.9 64.1 87.9 65.1 89.1 65.4 89.4 65.6 90.6 65.4 91.6 64.9 93.1 63.1 94.1 62.6 95.4 62.6 95.6 62.9 96.4 62.9 97.6 63.4 100.1 63.4 101.4 62.9 102.4 61.9 102.6 61.4ZM86.4 46.1 85.6 47.4 85.6 47.9 85.9 48.1 85.9 48.6 86.6 49.4 88.4 49.9 88.6 49.6 89.4 49.6 90.1 48.9 90.4 48.4 90.4 47.4 90.1 47.1 90.1 46.6 89.4 45.9 88.9 45.9 88.6 45.6 87.4 45.6Z"/>
<path fill="rgb(189,240,51)" fill-rule="evenodd" d="M88.9 59.6 88.6 59.9 88.1 59.9 86.9 61.1 86.9 61.6 86.6 61.9 86.6 63.1 86.9 63.4 86.9 63.9 87.9 64.9 89.1 65.4 89.9 65.4 91.1 64.9 92.1 63.9 93.1 61.6 92.6 60.9 91.1 59.9 90.6 59.9 90.4 59.6ZM94.6 60.6 94.6 61.4 96.4 62.4 97.9 62.6 98.1 62.9 99.6 62.9 101.6 61.9 102.1 60.9 102.1 60.1 101.6 59.1 100.1 58.1 97.9 58.1 96.6 58.6ZM87.1 46.1 86.1 47.1 86.1 48.1 86.4 48.6 87.6 49.4 88.6 49.4 89.1 49.1 89.9 48.4 89.9 47.1 89.4 46.4 88.9 46.1Z"/>
<path fill="rgb(209,237,33)" fill-rule="evenodd" d="M88.9 59.9 88.6 60.1 88.1 60.1 87.1 61.1 86.9 61.6 86.9 63.4 88.1 64.9 88.6 65.1 90.1 65.1 90.4 64.9 90.9 64.9 91.9 63.9 92.4 62.1 91.9 60.9 90.9 60.1 90.4 60.1 90.1 59.9ZM96.4 60.4 96.4 60.9 97.1 61.6 98.4 62.1 100.1 61.9 100.6 61.6 101.1 60.9 100.9 59.6 99.9 58.9 98.1 58.9 97.1 59.4ZM87.4 46.6 86.9 47.1 86.9 48.1 87.9 48.9 88.9 48.6 89.4 47.9 89.4 47.4 88.6 46.6Z"/>
<path fill="rgb(227,230,20)" fill-rule="evenodd" d="M88.6 60.1 88.1 60.4 87.1 61.6 87.1 63.6 88.6 64.9 90.4 64.9 90.9 64.6 91.9 63.4 91.9 61.6 90.9 60.4 90.4 60.4 90.1 60.1Z"/>
<path fill="rgb(246,223,7)" fill-rule="evenodd" d="M88.1 60.6 87.4 61.4 87.4 61.9 87.1 62.1 87.1 63.1 87.6 64.1 88.9 64.9 90.6 64.6 91.4 63.9 91.9 62.6 91.4 61.1 90.4 60.4 88.6 60.4Z"/>
<path fill="rgb(255,205,0)" fill-rule="evenodd" d="M88.9 60.4 87.4 61.6 87.4 63.4 87.6 63.9 88.6 64.6 90.1 64.6 91.4 63.6 91.6 63.1 91.6 61.9 90.6 60.6Z"/>
<path fill="rgb(255,175,0)" fill-rule="evenodd" d="M88.6 60.6 87.9 61.1 87.4 62.1 87.4 63.1 88.4 64.4 89.9 64.6 90.9 64.1 91.4 63.4 91.4 61.9 91.1 61.4 90.1 60.6Z"/>
<path fill="rgb(255,145,0)" fill-rule="evenodd" d="M89.1 60.6 87.9 61.4 87.6 61.9 87.6 63.4 88.6 64.4 90.1 64.4 90.9 63.9 91.4 62.9 91.4 62.1 90.4 60.9Z"/>
<path fill="rgb(251,113,0)" fill-rule="evenodd" d="M88.9 60.9 87.9 61.6 87.6 62.9 88.1 63.9 89.1 64.4 89.9 64.4 90.9 63.6 91.1 63.1 91.1 61.9 90.9 61.4 90.1 60.9Z"/>
<path fill="rgb(242,77,0)" fill-rule="evenodd" d="M89.1 60.9 87.9 61.9 87.9 63.4 88.6 64.1 90.1 64.1 90.9 63.4 91.1 62.1 90.4 61.1Z"/>
<path fill="rgb(232,37,0)" fill-rule="evenodd" d="M88.4 61.4 87.9 62.1 88.1 63.4 89.1 64.1 90.4 63.9 90.9 63.1 90.9 61.9 90.1 61.1 88.9 61.1Z"/>
<path fill="rgb(212,24,0)" fill-rule="evenodd" d="M89.6 61.1 88.6 61.4 88.1 61.9 88.1 63.1 88.9 63.9 89.9 63.9 90.4 63.6 90.9 62.6 90.6 61.9Z"/>
<path fill="rgb(185,15,0)" fill-rule="evenodd" d="M88.6 61.6 88.4 61.9 88.4 63.1 88.9 63.6 90.1 63.6 90.6 62.9 90.4 61.9 89.6 61.4Z"/>
<path fill="rgb(155,5,0)" fill-rule="evenodd" d="M89.4 61.6 88.6 62.1 88.6 63.1 88.9 63.4 89.9 63.4 90.4 62.6 90.1 62.1Z"/>
<path fill="rgb(16,18,149)" fill-rule="evenodd" d="M164.9 44.6 162.9 43.6 162.1 43.6 160.9 43.1 156.9 43.1 156.6 43.4 155.6 43.4 155.4 43.6 153.6 43.9 152.1 44.6 151.6 44.6 149.1 46.1 147.9 47.4 146.6 49.6 146.4 51.1 146.1 51.4 146.1 57.6 146.4 57.9 146.6 59.6 147.4 61.1 149.4 63.1 150.9 63.9 152.4 64.1 152.6 64.4 154.4 64.4 154.6 64.6 158.4 64.6 158.6 64.4 160.1 64.4 163.1 63.1 165.6 60.9 167.6 57.4 167.6 56.9 168.4 55.1 168.4 54.1 168.6 53.9 168.6 50.4 168.4 50.1 168.1 48.6 167.4 47.1 166.4 46.1 166.4 45.9Z"/>
<path fill="rgb(20,28,188)" fill-rule="evenodd" d="M164.9 45.4 163.1 44.4 162.6 44.4 161.6 43.9 160.4 43.9 160.1 43.6 156.4 43.9 156.1 44.1 155.4 44.1 155.1 44.4 153.1 44.9 151.1 45.9 148.6 48.1 147.9 49.4 147.9 49.9 147.4 50.6 147.4 51.6 147.1 51.9 147.1 56.4 147.4 56.6 147.4 57.9 148.4 60.4 150.1 62.1 151.6 62.9 153.1 63.1 153.4 63.4 156.1 63.4 156.4 63.6 159.9 63.4 162.9 62.1 165.1 60.1 165.9 59.1 167.6 55.4 167.9 53.4 168.1 53.1 168.1 50.6 167.1 47.9Z"/>
<path fill="rgb(23,36,211)" fill-rule="evenodd" d="M164.9 45.9 163.1 44.9 162.6 44.9 161.6 44.4 160.6 44.4 160.4 44.1 158.1 44.1 157.9 44.4 156.6 44.4 156.4 44.6 155.6 44.6 155.4 44.9 154.1 45.1 152.1 46.1 150.4 47.4 148.9 49.4 148.1 51.4 148.1 56.4 148.4 56.6 148.6 58.4 149.6 60.1 150.6 61.1 152.6 62.1 155.1 62.4 155.4 62.6 159.1 62.6 159.4 62.4 161.1 62.1 163.6 60.6 165.9 57.9 166.9 55.9 166.9 55.4 167.4 54.4 167.4 53.4 167.6 53.1 167.6 50.6 167.4 50.4 167.1 48.9 166.1 47.1Z"/>
<path fill="rgb(25,45,224)" fill-rule="evenodd" d="M162.1 44.9 161.4 44.9 161.1 44.6 157.6 44.6 157.4 44.9 155.6 45.1 152.1 46.9 151.1 47.6 149.9 49.1 148.9 51.9 148.9 55.1 149.1 55.4 149.1 56.6 149.4 56.9 149.6 58.1 151.1 60.1 152.9 61.1 154.4 61.4 154.6 61.6 158.9 61.9 159.1 61.6 160.9 61.4 163.1 60.1 165.4 57.6 167.1 53.6 167.1 50.1 166.9 49.9 166.6 48.6 165.6 47.1 163.4 45.4 162.9 45.4Z"/>
<path fill="rgb(28,56,240)" fill-rule="evenodd" d="M164.6 46.6 163.1 45.6 162.6 45.6 161.6 45.1 158.6 44.9 158.4 45.1 157.1 45.1 156.9 45.4 155.6 45.6 154.9 46.1 153.9 46.4 152.4 47.4 150.4 49.6 149.9 50.9 149.9 51.6 149.6 51.9 149.6 54.6 149.9 54.9 150.1 56.9 150.9 58.4 152.1 59.6 153.4 60.4 154.9 60.6 155.1 60.9 156.4 60.9 156.6 61.1 159.1 61.1 159.4 60.9 160.4 60.9 161.1 60.4 161.6 60.4 163.1 59.4 165.1 57.1 166.4 54.6 166.6 53.1 166.9 52.9 166.9 50.4 166.6 50.1 166.4 48.9 165.6 47.6Z"/>
<path fill="rgb(34,79,251)" fill-rule="evenodd" d="M162.6 45.9 161.1 45.6 160.9 45.4 158.4 45.4 158.1 45.6 157.4 45.6 154.4 46.9 151.6 49.4 150.6 51.9 150.6 54.1 150.9 54.4 151.1 56.1 152.1 57.9 152.9 58.6 154.1 59.4 154.6 59.4 155.6 59.9 156.6 59.9 156.9 60.1 159.4 60.1 159.6 59.9 161.1 59.6 163.4 58.1 164.9 56.4 166.1 53.9 166.1 53.1 166.4 52.9 166.4 50.4 165.6 48.4 163.9 46.6Z"/>
<path fill="rgb(41,107,253)" fill-rule="evenodd" d="M158.1 45.9 157.9 46.1 157.1 46.1 154.6 47.4 152.6 49.4 152.1 50.1 152.1 50.6 151.6 51.6 151.6 54.1 152.6 56.6 154.1 58.1 156.6 59.1 160.1 59.1 162.6 57.9 164.4 56.1 165.6 53.9 166.1 51.4 165.9 51.1 165.9 49.9 165.1 48.4 163.6 46.9 161.4 45.9Z"/>
<path fill="rgb(47,129,254)" fill-rule="evenodd" d="M158.1 46.1 155.6 47.1 153.4 49.1 152.4 50.9 152.1 53.4 153.1 56.1 154.6 57.6 157.1 58.6 159.9 58.6 160.1 58.4 161.4 58.1 162.9 57.1 164.1 55.9 165.4 53.9 165.9 51.1 165.6 50.9 165.6 49.9 164.9 48.4 163.6 47.1 161.4 46.1Z"/>
<path fill="rgb(58,159,250)" fill-rule="evenodd" d="M158.1 46.4 155.9 47.4 153.9 49.1 152.9 51.1 152.9 54.1 153.6 55.6 155.9 57.6 156.4 57.6 157.4 58.1 159.9 58.1 161.9 57.4 164.4 55.1 165.4 53.1 165.6 51.1 165.4 50.9 165.4 49.9 164.4 48.1 163.1 47.1 161.4 46.4Z"/>
<path fill="rgb(73,196,240)" fill-rule="evenodd" d="M158.6 46.6 156.1 47.6 154.4 49.4 153.6 50.9 153.6 53.6 154.1 54.9 155.9 56.6 157.6 57.4 160.1 57.4 162.1 56.6 163.9 55.1 165.1 52.6 165.1 50.4 164.4 48.6 163.4 47.6 161.1 46.6Z"/>
<path fill="rgb(89,219,215)" fill-rule="evenodd" d="M160.9 46.9 158.9 46.9 156.9 47.6 155.1 49.1 154.4 50.4 154.4 51.1 154.1 51.4 154.1 52.9 154.4 53.1 154.4 53.6 154.9 54.6 156.9 56.4 158.4 56.6 158.6 56.9 160.9 56.6 162.4 55.9 164.1 54.1 164.6 53.1 164.6 52.6 164.9 52.4 164.9 50.6 164.1 48.9 162.4 47.4 161.9 47.4Z"/>
<path fill="rgb(107,226,174)" fill-rule="evenodd" d="M161.6 47.4 159.4 47.1 159.1 47.4 157.6 47.6 156.4 48.4 155.1 49.9 154.9 51.4 154.6 51.6 154.9 53.1 155.1 53.4 155.1 53.9 155.9 54.9 157.9 56.1 158.9 56.1 159.1 56.4 160.9 56.1 162.4 55.4 163.9 53.9 164.6 51.9 164.4 49.9 163.4 48.4Z"/>
<path fill="rgb(128,235,127)" fill-rule="evenodd" d="M157.9 47.9 156.4 48.9 155.6 49.9 155.4 51.4 155.1 51.6 155.6 53.6 157.1 55.1 158.1 55.6 158.9 55.6 159.1 55.9 161.1 55.6 162.1 55.1 163.6 53.6 164.4 51.6 164.1 49.9 162.6 48.1 161.4 47.6 158.6 47.6 158.4 47.9Z"/>
<path fill="rgb(148,240,92)" fill-rule="evenodd" d="M159.1 47.9 157.9 48.4 156.6 49.4 155.9 50.9 155.9 52.4 156.6 53.9 157.9 54.9 158.4 54.9 158.6 55.1 160.9 55.1 163.1 53.6 163.9 52.1 163.9 50.1 163.6 49.6 161.9 48.1 161.4 48.1 161.1 47.9Z"/>
<path fill="rgb(166,240,74)" fill-rule="evenodd" d="M159.6 48.1 157.9 48.9 156.9 49.9 156.4 51.9 156.9 53.1 157.9 54.1 158.9 54.6 160.6 54.6 161.9 54.1 163.1 52.9 163.6 51.9 163.6 50.1 162.4 48.6 161.1 48.1Z"/>
<path fill="rgb(189,240,51)" fill-rule="evenodd" d="M159.4 48.6 157.9 49.6 157.4 50.6 157.4 52.1 158.4 53.4 159.6 53.9 160.6 53.9 162.6 52.9 163.4 51.6 163.4 50.4 163.1 49.9 161.6 48.6Z"/>
<path fill="rgb(209,237,33)" fill-rule="evenodd" d="M158.4 49.6 157.9 50.6 157.9 51.4 158.1 51.6 158.1 52.1 158.9 52.9 159.4 53.1 161.4 53.1 162.6 52.4 163.1 51.4 163.1 50.4 162.1 49.1 161.6 48.9 159.6 48.9Z"/>
<path fill="rgb(227,230,20)" fill-rule="evenodd" d="M158.6 50.1 158.4 50.6 158.6 51.9 159.1 52.4 160.4 52.9 162.1 52.4 162.9 50.9 162.6 50.6 162.6 50.1 161.4 49.1 159.9 49.1Z"/>
<path fill="rgb(246,223,7)" fill-rule="evenodd" d="M158.9 50.4 158.9 51.4 159.1 51.9 159.9 52.4 161.4 52.4 161.9 52.1 162.4 51.4 162.4 50.4 162.1 49.9 161.4 49.4 160.1 49.4Z"/>
<path fill="rgb(255,205,0)" fill-rule="evenodd" d="M160.1 49.6 159.1 50.9 159.4 51.4 160.1 52.1 161.1 52.1 162.1 51.4 162.1 50.4 161.9 49.9 161.4 49.6Z"/>
<path fill="rgb(255,175,0)" fill-rule="evenodd" d="M160.4 49.9 159.9 50.4 159.9 51.4 160.4 51.6 161.4 51.6 161.9 51.1 161.9 50.1 161.6 49.9Z"/>
<path fill="rgb(255,145,0)" fill-rule="evenodd" d="M160.6 49.9 160.1 50.4 160.1 51.1 160.4 51.4 161.4 51.4 161.9 50.6 161.4 49.9Z"/>
<path fill="rgb(251,113,0)" fill-rule="evenodd" d="M160.4 50.1 160.1 50.6 160.4 51.1 161.1 51.4 161.6 50.9 161.6 50.4 161.4 50.1Z"/>
<path fill="rgb(242,77,0)" fill-rule="evenodd" d="M160.6 50.1 160.4 50.4 160.4 50.9 160.6 51.1 161.4 51.1 161.6 50.9 161.6 50.4 161.4 50.1Z"/>
<path fill="rgb(232,37,0)" fill-rule="evenodd" d="M160.9 50.1 160.6 50.4 160.6 50.9 161.1 51.1 161.4 50.9 161.4 50.4Z"/>
<path fill="rgb(212,24,0)" fill-rule="evenodd" d="M160.9 50.4 160.6 50.6 161.1 50.9 161.4 50.6Z"/>
<path fill="rgb(16,18,149)" fill-rule="evenodd" d="M206.1 42.9 205.1 43.4 203.9 44.9 203.1 46.4 202.6 48.9 202.4 49.1 202.1 52.6 201.9 52.9 201.9 61.9 202.1 62.1 202.1 64.1 202.4 64.4 202.4 65.6 202.6 65.9 202.9 67.6 204.1 70.1 209.9 70.1 211.1 67.6 211.1 66.9 211.6 65.6 211.6 64.6 211.9 64.4 211.9 62.9 212.1 62.6 212.1 58.6 212.4 58.4 212.4 57.1 212.1 56.9 212.1 52.6 211.9 52.4 211.9 50.6 211.6 50.4 211.4 48.1 209.9 44.4 208.1 42.9Z"/>
<path fill="rgb(20,28,188)" fill-rule="evenodd" d="M206.9 43.6 206.6 43.9 205.9 43.9 204.9 44.6 203.6 46.6 203.6 47.1 202.9 48.9 202.6 51.6 202.4 51.9 202.4 54.4 202.1 54.6 202.1 59.9 202.4 60.1 202.4 62.9 202.6 63.1 202.9 65.9 203.1 66.1 203.6 68.1 204.9 70.1 209.1 70.1 209.9 69.4 210.4 68.4 210.4 67.9 210.9 67.1 211.1 65.4 211.4 65.1 211.4 64.1 211.6 63.9 211.6 62.4 211.9 62.1 211.9 53.4 211.6 53.1 211.6 51.4 211.4 51.1 211.4 49.9 211.1 49.6 210.9 47.9 209.6 45.1 208.6 44.1 207.6 43.6Z"/>
<path fill="rgb(23,36,211)" fill-rule="evenodd" d="M207.1 44.4 206.9 44.6 205.6 44.9 204.6 45.9 203.6 47.9 203.4 49.4 203.1 49.6 203.1 50.6 202.9 50.9 202.9 52.1 202.6 52.4 202.6 56.1 202.4 56.4 202.4 58.4 202.6 58.6 202.6 62.4 202.9 62.6 203.1 65.1 203.4 65.4 203.6 66.9 204.6 68.9 206.1 70.1 208.4 70.1 209.6 68.9 210.4 67.4 210.4 66.9 211.1 65.1 211.1 64.1 211.4 63.9 211.4 62.4 211.6 62.1 211.6 53.4 211.4 53.1 211.4 51.6 211.1 51.4 211.1 50.4 210.9 50.1 210.9 49.1 210.6 48.9 210.4 47.6 209.1 45.4 208.1 44.6 207.4 44.6Z"/>
<path fill="rgb(25,45,224)" fill-rule="evenodd" d="M206.9 45.1 205.6 45.6 205.1 46.1 203.9 48.4 203.9 48.9 203.4 49.9 203.4 50.9 203.1 51.1 203.1 52.6 202.9 52.9 202.9 57.1 202.6 57.6 202.9 57.9 202.9 62.1 203.1 62.4 203.4 64.9 203.6 65.1 204.1 67.1 204.9 68.4 205.9 69.4 206.4 69.6 208.1 69.6 209.1 68.9 210.6 65.9 210.6 65.1 211.1 63.9 211.1 62.6 211.4 62.4 211.6 56.1 211.4 55.9 211.4 53.1 211.1 52.9 211.1 51.6 210.9 51.4 210.9 50.4 210.6 50.1 210.6 49.4 210.4 49.1 210.1 47.9 208.6 45.6 207.6 45.1Z"/>
<path fill="rgb(28,56,240)" fill-rule="evenodd" d="M206.4 45.9 205.9 46.1 204.6 47.6 203.6 50.1 203.4 52.6 203.1 52.9 202.9 58.9 203.1 59.1 203.1 62.1 203.4 62.4 203.4 63.6 203.6 63.9 203.6 64.6 203.9 64.9 203.9 65.6 204.4 66.4 204.4 66.9 205.6 68.6 206.6 69.1 208.1 69.1 209.6 67.6 210.6 65.1 210.6 64.4 210.9 64.1 211.1 61.1 211.4 60.9 211.4 55.1 211.1 54.9 210.9 51.4 210.6 51.1 210.6 50.4 209.6 47.6 208.4 46.1 207.9 45.9Z"/>
<path fill="rgb(34,79,251)" fill-rule="evenodd" d="M206.9 46.6 206.6 46.9 206.1 46.9 205.1 47.9 203.9 50.9 203.6 53.4 203.4 53.6 203.4 61.4 203.6 61.6 203.6 63.1 203.9 63.4 204.1 65.1 205.1 67.1 206.4 68.4 208.1 68.4 208.9 67.9 210.1 65.6 210.4 64.1 210.6 63.9 210.9 61.1 211.1 60.9 211.1 55.1 210.9 54.9 210.6 51.9 210.4 51.6 210.4 50.9 210.1 50.6 210.1 49.9 209.6 49.1 209.6 48.6 208.1 46.9Z"/>
<path fill="rgb(41,107,253)" fill-rule="evenodd" d="M206.9 47.4 205.6 48.1 205.1 48.9 204.1 51.4 204.1 52.1 203.9 52.4 203.9 53.9 203.6 54.1 203.6 61.1 203.9 61.4 204.1 63.9 205.1 66.4 206.4 67.6 206.9 67.9 207.9 67.9 209.1 66.9 209.9 65.4 209.9 64.9 210.4 63.9 210.4 63.1 210.6 62.9 210.6 61.6 210.9 61.4 210.9 54.9 210.6 54.6 210.4 51.9 209.1 48.6 208.1 47.6Z"/>
<path fill="rgb(47,129,254)" fill-rule="evenodd" d="M206.9 47.9 205.4 49.1 204.9 49.9 204.9 50.4 204.4 51.4 204.1 53.4 203.9 53.6 203.6 59.1 203.9 59.4 204.1 63.1 204.4 63.4 204.9 65.4 206.1 67.1 207.4 67.6 207.6 67.4 208.1 67.4 209.1 66.4 210.1 64.1 210.1 63.4 210.6 62.1 210.6 60.4 210.9 60.1 210.9 56.4 210.6 56.1 210.4 52.6 210.1 52.4 210.1 51.6 209.4 50.1 209.4 49.6 208.1 48.1Z"/>
<path fill="rgb(58,159,250)" fill-rule="evenodd" d="M206.9 48.4 205.4 49.6 204.4 52.1 204.1 54.9 203.9 55.1 203.9 60.4 204.1 60.6 204.4 63.4 205.1 65.4 206.4 66.9 206.9 67.1 207.9 67.1 208.4 66.9 209.4 65.6 210.1 63.6 210.1 62.9 210.4 62.6 210.4 61.6 210.6 61.4 210.6 55.1 210.4 54.9 210.1 52.4 208.9 49.4 208.1 48.6Z"/>
<path fill="rgb(73,196,240)" fill-rule="evenodd" d="M206.6 49.1 205.1 50.9 205.1 51.4 204.6 52.4 204.6 53.1 204.4 53.4 204.4 54.9 204.1 55.1 204.1 60.6 204.4 60.9 204.6 63.1 205.4 65.1 206.4 66.4 206.9 66.6 207.9 66.6 208.6 66.1 209.1 65.4 210.1 62.9 210.4 60.1 210.6 59.9 210.6 56.6 210.4 56.4 210.4 54.6 210.1 54.4 209.9 52.4 208.9 50.1 207.9 49.1Z"/>
<path fill="rgb(89,219,215)" fill-rule="evenodd" d="M207.1 49.6 206.1 50.1 205.6 50.9 204.6 53.6 204.6 54.9 204.4 55.1 204.4 60.9 204.6 61.1 204.9 63.1 205.6 64.9 206.1 65.6 206.9 66.1 207.9 66.1 209.1 64.9 210.1 62.1 210.1 61.1 210.4 60.9 210.4 55.9 210.1 55.6 210.1 54.4 209.9 54.1 209.9 53.4 209.6 53.1 209.6 52.4 209.1 51.6 209.1 51.1 208.1 49.9Z"/>
<path fill="rgb(107,226,174)" fill-rule="evenodd" d="M206.9 50.4 205.9 51.1 204.9 53.6 204.9 54.6 204.6 54.9 204.6 61.1 204.9 61.4 204.9 62.4 205.6 64.4 206.9 65.6 207.9 65.6 209.1 64.4 209.9 62.4 210.1 59.9 210.4 59.6 210.4 56.9 210.1 56.6 210.1 55.1 209.9 54.9 209.6 53.1 208.9 51.4 207.9 50.4Z"/>
<path fill="rgb(128,235,127)" fill-rule="evenodd" d="M207.1 50.9 205.9 51.9 205.1 53.6 205.1 54.6 204.9 54.9 204.9 56.9 204.6 57.1 204.6 59.1 204.9 59.4 205.1 62.4 205.9 64.1 206.9 65.1 207.9 65.1 208.4 64.9 209.1 63.9 209.9 61.9 209.9 60.9 210.1 60.6 210.1 56.1 209.9 55.9 209.6 53.9 208.6 51.6 208.1 51.1Z"/>
<path fill="rgb(148,240,92)" fill-rule="evenodd" d="M207.1 51.6 206.1 52.4 205.4 54.1 205.4 54.9 205.1 55.1 205.1 57.1 204.9 57.4 204.9 58.9 205.1 59.1 205.1 61.1 205.4 61.4 205.4 62.1 205.9 63.4 206.6 64.4 207.9 64.6 208.9 63.6 209.9 61.1 210.1 57.4 209.9 57.1 209.6 54.6 208.6 52.4 208.1 51.9Z"/>
<path fill="rgb(166,240,74)" fill-rule="evenodd" d="M207.1 52.4 206.1 53.4 205.6 54.6 205.6 55.4 205.4 55.6 205.4 57.4 205.1 57.6 205.1 59.1 205.4 59.4 205.4 60.9 205.6 61.1 205.9 62.6 206.9 63.9 207.6 64.1 208.9 63.1 209.6 61.4 209.6 60.6 209.9 60.4 209.9 56.4 209.6 56.1 209.6 55.4 209.4 55.1 209.1 53.9 207.9 52.4Z"/>
<path fill="rgb(189,240,51)" fill-rule="evenodd" d="M207.1 53.4 206.4 54.1 205.9 55.4 205.9 56.1 205.6 56.4 205.6 60.4 206.6 62.9 207.4 63.4 207.9 63.4 208.6 62.9 209.4 61.4 209.4 60.6 209.6 60.4 209.6 56.4 208.6 53.9 207.9 53.4Z"/>
<path fill="rgb(209,237,33)" fill-rule="evenodd" d="M207.4 54.1 206.9 54.4 206.1 55.9 206.1 56.6 205.9 56.9 205.9 59.9 206.1 60.1 206.4 61.6 206.9 62.4 208.1 62.6 208.9 61.9 209.4 60.6 209.6 57.6 209.4 57.4 209.4 56.1 208.9 55.4 208.9 54.9 208.1 54.1Z"/>
<path fill="rgb(227,230,20)" fill-rule="evenodd" d="M207.4 54.9 206.9 55.4 206.4 56.6 206.1 58.9 206.4 59.1 206.4 60.4 206.9 61.4 207.4 61.9 208.1 61.9 208.9 61.1 208.9 60.6 209.1 60.4 209.1 59.6 209.4 59.4 209.4 57.6 209.1 57.4 209.1 56.4 208.6 55.4 208.1 54.9Z"/>
<path fill="rgb(246,223,7)" fill-rule="evenodd" d="M208.1 55.6 207.6 55.6 206.9 56.4 206.9 56.9 206.6 57.1 206.6 59.9 207.1 60.9 207.9 61.4 208.4 61.1 209.1 59.4 209.1 57.4 208.6 56.1Z"/>
<path fill="rgb(255,205,0)" fill-rule="evenodd" d="M207.9 56.1 207.1 57.1 206.9 58.9 207.1 59.1 207.4 60.4 208.1 60.6 208.9 59.6 209.1 57.9 208.9 57.6 208.9 56.9Z"/>
<path fill="rgb(255,175,0)" fill-rule="evenodd" d="M208.4 56.6 207.9 56.6 207.4 57.4 207.4 59.4 207.9 60.1 208.6 59.9 208.6 59.4 208.9 59.1 208.9 57.4Z"/>
<path fill="rgb(255,145,0)" fill-rule="evenodd" d="M208.4 56.9 207.9 56.9 207.6 57.1 207.6 57.9 207.4 58.1 207.6 59.4 208.1 59.9 208.9 58.9 208.9 57.9Z"/>
<path fill="rgb(251,113,0)" fill-rule="evenodd" d="M207.9 57.1 207.6 57.6 207.6 59.1 208.4 59.6 208.6 59.1 208.6 57.4 208.4 57.1Z"/>
<path fill="rgb(242,77,0)" fill-rule="evenodd" d="M208.1 57.1 207.6 57.9 207.6 58.9 207.9 59.4 208.4 59.4 208.6 59.1 208.6 57.6Z"/>
<path fill="rgb(232,37,0)" fill-rule="evenodd" d="M208.1 57.4 207.9 57.6 207.9 59.1 208.4 59.1 208.6 58.6 208.6 57.9Z"/>
<path fill="rgb(212,24,0)" fill-rule="evenodd" d="M208.1 57.6 207.9 57.9 207.9 58.6 208.4 58.9 208.4 57.9Z"/>
<path fill="rgb(16,18,149)" fill-rule="evenodd" d="M319.9 34.4 315.4 34.4 315.2 34.6 313.7 34.9 312.2 35.6 310.9 36.9 310.2 38.4 309.9 39.9 309.7 40.1 309.4 43.4 309.2 43.6 309.2 50.9 309.4 51.1 309.4 53.9 309.2 54.1 309.2 56.9 308.9 57.1 308.9 62.9 309.2 63.1 309.4 65.1 310.2 66.6 311.4 67.9 314.2 68.9 316.4 68.9 316.7 68.6 317.2 68.6 318.2 68.1 319.7 66.4 321.2 62.9 321.2 62.1 321.7 60.9 321.7 59.6 321.9 59.4 321.9 58.1 322.2 57.9 322.4 55.4 322.7 55.1 323.2 53.1 323.7 52.4 323.7 51.9 324.7 50.1 324.7 49.6 325.2 48.6 325.2 47.9 325.4 47.6 325.4 45.4 325.7 45.1 325.7 44.1 325.4 43.9 325.4 40.6 325.2 40.4 324.9 38.4 323.9 36.6 322.9 35.6 321.7 34.9 320.2 34.6ZM336.7 34.1 335.7 34.1 334.4 34.6 332.2 37.1 330.7 40.9 330.7 41.6 330.2 42.9 330.2 43.9 329.9 44.1 329.7 47.9 329.4 48.1 329.4 51.9 329.2 52.1 329.2 59.1 329.4 59.4 329.4 61.1 329.7 61.4 329.7 62.4 329.9 62.6 330.2 63.9 330.9 65.4 331.9 66.4 333.2 66.9 335.2 66.9 335.4 66.6 335.9 66.6 336.4 66.4 337.9 64.6 339.4 60.9 339.4 60.1 339.9 58.9 339.9 57.6 340.2 57.4 340.2 56.1 340.4 55.9 340.4 53.9 340.7 53.6 340.7 50.9 340.9 50.6 340.9 42.6 340.7 42.4 340.4 39.4 339.2 36.1 338.2 34.9Z"/>
<path fill="rgb(20,28,188)" fill-rule="evenodd" d="M336.7 35.1 335.7 35.1 334.7 35.6 332.9 37.6 331.4 40.9 331.4 41.6 331.2 41.9 330.9 43.6 330.7 43.9 330.4 46.9 330.2 47.1 330.2 49.9 329.9 50.1 329.9 59.4 330.2 59.6 330.4 61.9 331.2 63.6 332.4 64.9 332.9 64.9 333.2 65.1 335.7 65.1 336.2 64.9 337.9 62.9 339.2 59.6 339.4 57.6 339.7 57.4 339.7 56.4 339.9 56.1 339.9 54.6 340.2 54.4 340.2 52.4 340.4 52.1 340.4 42.6 340.2 42.4 340.2 40.9 339.9 40.6 339.7 38.9 339.2 38.1 338.9 37.1 337.4 35.4 336.9 35.4ZM319.7 34.9 315.7 34.9 315.4 35.1 314.7 35.1 313.9 35.6 313.4 35.6 311.4 37.4 310.9 38.1 310.9 38.6 310.2 40.4 310.2 41.6 309.9 41.9 309.9 43.1 309.7 43.4 309.7 46.4 309.4 46.6 309.4 47.1 309.7 47.4 309.7 51.4 309.9 51.6 309.9 53.4 309.7 53.6 309.7 57.1 309.4 57.4 309.4 61.4 309.7 61.6 309.7 63.1 310.7 65.6 312.7 67.4 313.2 67.4 314.2 67.9 316.2 67.9 317.4 67.4 318.7 66.4 319.7 64.9 320.7 62.1 320.9 60.4 321.2 60.1 321.2 58.9 321.4 58.6 321.4 57.1 321.7 56.9 321.9 54.9 322.2 54.6 322.4 53.4 323.2 52.1 323.2 51.6 324.2 49.9 324.2 49.4 324.7 48.4 324.7 47.4 324.9 47.1 324.9 41.1 324.7 40.9 324.4 38.9 323.7 37.4 322.2 35.9Z"/>
<path fill="rgb(23,36,211)" fill-rule="evenodd" d="M336.7 35.9 335.7 35.9 335.2 36.1 333.7 37.6 332.7 39.4 332.7 39.9 331.9 41.4 331.7 43.1 331.4 43.4 331.2 45.9 330.9 46.1 330.9 47.9 330.7 48.1 330.7 51.4 330.4 51.6 330.4 57.9 330.7 58.1 330.7 59.6 330.9 59.9 330.9 60.6 331.4 61.4 331.4 61.9 332.4 63.1 333.7 63.6 335.7 63.6 336.2 63.4 337.9 61.4 338.2 60.4 338.7 59.6 339.2 57.1 339.4 56.9 339.7 54.1 339.9 53.9 339.9 51.9 340.2 51.6 340.2 43.4 339.9 43.1 339.9 41.6 339.7 41.4 339.2 38.9 338.4 37.4 337.7 36.4ZM319.7 35.4 315.7 35.4 313.2 36.4 311.7 37.9 311.2 38.9 311.2 39.4 310.7 40.4 310.7 41.1 310.4 41.4 310.4 42.4 310.2 42.6 310.2 44.4 309.9 44.6 309.9 49.4 310.2 49.6 309.9 61.1 310.2 61.4 310.2 62.6 310.4 62.9 310.7 64.1 311.4 65.4 312.7 66.4 314.7 67.1 315.7 67.1 315.9 66.9 317.2 66.6 318.9 64.9 319.7 63.4 319.7 62.9 320.4 61.1 320.4 60.1 320.7 59.9 320.7 58.6 320.9 58.4 320.9 56.9 321.2 56.6 321.4 54.6 322.2 53.1 322.2 52.6 323.7 49.9 323.7 49.4 324.2 48.4 324.2 47.6 324.4 47.4 324.4 45.4 324.7 45.1 324.7 44.1 324.4 43.9 324.4 41.1 324.2 40.9 323.9 39.1 323.2 37.6 321.9 36.4Z"/>
<path fill="rgb(25,45,224)" fill-rule="evenodd" d="M336.9 36.6 335.4 36.6 333.9 38.1 332.9 40.1 332.9 40.6 332.2 42.4 332.2 43.1 331.9 43.4 331.7 46.1 331.4 46.4 331.4 48.4 331.2 48.6 330.9 55.9 331.2 56.1 331.2 58.1 331.4 58.4 331.4 59.1 332.2 60.9 333.2 61.9 333.7 61.9 334.7 62.4 335.7 62.4 336.7 61.9 337.7 60.6 338.4 59.1 338.7 57.6 339.2 56.6 339.4 54.1 339.7 53.9 339.7 51.9 339.9 51.6 339.9 43.6 339.7 43.4 339.7 41.9 339.4 41.6 339.2 39.9 338.7 39.1 338.4 38.1 337.9 37.4ZM318.7 35.6 316.7 35.6 316.4 35.9 315.4 35.9 312.9 37.1 311.4 39.4 311.4 39.9 310.9 40.9 310.9 41.6 310.7 41.9 310.7 42.9 310.4 43.1 310.4 44.9 310.2 45.1 310.2 48.6 310.4 48.9 310.4 51.9 310.7 52.1 310.7 52.9 310.4 53.1 310.4 57.6 310.2 57.9 310.2 58.9 310.4 59.1 310.4 61.4 310.7 61.6 310.9 63.1 311.7 64.6 312.7 65.6 314.4 66.4 315.9 66.4 317.2 65.9 318.4 64.6 319.4 62.6 319.4 62.1 319.9 61.1 319.9 60.4 320.2 60.1 320.2 58.9 320.4 58.6 320.4 57.1 320.7 56.9 320.9 54.6 321.9 52.6 321.9 52.1 322.9 50.6 322.9 50.1 323.4 49.4 323.4 48.9 323.9 47.9 323.9 46.9 324.2 46.6 324.2 42.4 323.9 42.1 323.7 39.6 322.9 38.1 321.4 36.6Z"/>
<path fill="rgb(28,56,240)" fill-rule="evenodd" d="M336.9 37.1 335.7 37.1 335.2 37.4 334.4 38.1 333.4 39.9 333.4 40.4 332.9 41.1 332.7 42.9 332.4 43.1 332.2 45.6 331.9 45.9 331.9 48.1 331.7 48.4 331.7 56.4 331.9 56.6 331.9 57.6 332.2 57.9 332.2 58.6 332.9 59.9 334.7 61.1 336.4 61.1 337.4 60.1 338.7 57.4 338.7 56.6 339.2 55.4 339.2 54.4 339.4 54.1 339.4 52.4 339.7 52.1 339.9 46.6 339.7 46.4 339.7 43.4 339.4 43.1 339.4 41.9 339.2 41.6 339.2 40.9 338.2 38.4ZM319.2 36.1 315.9 36.1 315.7 36.4 314.4 36.6 313.7 37.1 312.2 38.6 311.7 39.6 311.7 40.1 311.2 41.1 311.2 41.9 310.9 42.1 310.9 43.1 310.7 43.4 310.7 45.1 310.4 45.4 310.4 48.1 310.7 48.4 310.7 51.1 310.9 51.4 310.9 54.1 310.7 54.4 310.7 60.6 310.9 60.9 310.9 61.9 311.7 63.6 312.7 64.9 313.9 65.6 316.2 65.6 317.2 65.1 318.4 63.6 319.2 62.1 319.4 60.6 319.7 60.4 320.4 54.9 320.7 54.6 320.9 53.4 323.2 49.1 323.4 47.6 323.7 47.4 323.9 43.6 323.7 43.4 323.7 41.4 323.4 41.1 323.2 39.4 322.4 38.1 321.4 37.1 320.7 36.6 320.2 36.6Z"/>
<path fill="rgb(34,79,251)" fill-rule="evenodd" d="M336.7 37.6 335.4 37.9 334.2 39.4 333.2 41.9 332.9 43.9 332.7 44.1 332.7 45.4 332.4 45.6 332.4 54.6 332.7 54.9 332.7 56.1 333.4 58.1 333.9 58.9 335.2 59.9 336.4 59.9 336.9 59.6 337.9 58.1 337.9 57.6 338.7 56.1 338.9 54.1 339.2 53.9 339.2 52.4 339.4 52.1 339.4 48.9 339.7 48.6 339.4 43.6 339.2 43.4 338.9 41.1 337.7 38.4ZM318.9 36.6 316.2 36.6 314.2 37.4 312.2 39.6 312.2 40.1 311.7 40.9 311.4 42.6 311.2 42.9 311.2 43.9 310.9 44.1 310.9 49.6 311.2 49.9 311.2 57.4 310.9 57.6 311.2 57.9 311.2 60.4 311.4 60.6 311.4 61.6 312.7 63.9 313.7 64.6 314.2 64.6 314.4 64.9 315.9 64.9 316.9 64.4 317.7 63.6 318.7 61.9 319.2 59.4 319.4 59.1 319.4 57.4 319.7 57.1 319.9 54.4 320.9 52.1 321.4 51.6 322.7 49.1 322.7 48.6 323.2 47.6 323.2 46.6 323.4 46.4 323.4 42.9 323.2 42.6 323.2 41.4 322.9 41.1 322.7 39.6 321.2 37.6 319.9 36.9 319.2 36.9Z"/>
<path fill="rgb(41,107,253)" fill-rule="evenodd" d="M336.7 38.1 335.7 38.4 334.7 39.4 333.7 41.4 333.7 42.1 333.2 43.4 333.2 44.4 332.9 44.6 332.9 46.6 332.7 46.9 332.7 51.9 332.9 52.1 333.2 55.1 333.4 55.4 333.4 56.1 334.4 58.1 335.7 59.1 336.7 58.9 337.4 58.1 338.2 56.6 338.7 54.1 338.9 53.9 339.2 49.9 339.4 49.6 339.4 46.1 339.2 45.9 339.2 43.6 338.9 43.4 338.9 42.4 338.7 42.1 338.7 41.4 337.9 39.4ZM318.9 37.1 315.9 37.1 313.9 38.1 313.2 38.9 312.2 40.6 312.2 41.1 311.7 42.1 311.7 42.9 311.4 43.1 311.4 44.4 311.2 44.6 311.2 48.9 311.4 49.1 311.4 51.1 311.7 51.4 311.7 54.9 311.4 55.1 311.4 59.1 311.7 59.4 311.7 60.6 312.7 62.9 313.4 63.6 314.7 64.1 315.7 64.1 316.7 63.6 318.2 61.6 318.2 61.1 318.7 60.1 318.7 59.4 318.9 59.1 318.9 57.6 319.2 57.4 319.4 54.4 320.7 51.6 321.2 51.1 322.4 48.6 322.7 47.1 322.9 46.9 322.9 42.4 322.7 42.1 322.7 41.1 322.4 40.9 322.2 39.6 320.7 37.9Z"/>
<path fill="rgb(47,129,254)" fill-rule="evenodd" d="M336.4 38.4 336.2 38.6 335.7 38.6 334.4 40.1 334.4 40.6 333.7 42.1 333.4 44.1 333.2 44.4 333.2 45.9 332.9 46.1 332.9 51.9 333.2 52.1 333.4 54.9 334.4 57.4 335.9 58.6 336.2 58.4 336.7 58.4 337.9 56.6 337.9 56.1 338.4 55.1 338.4 54.4 338.7 54.1 338.7 53.1 338.9 52.9 338.9 51.4 339.2 51.1 339.2 44.6 338.9 44.4 338.9 42.9 338.7 42.6 338.7 41.9 337.7 39.4ZM318.7 37.4 316.2 37.4 314.4 38.1 313.2 39.4 312.4 40.6 312.4 41.1 311.9 42.1 311.9 42.9 311.7 43.1 311.7 44.1 311.4 44.4 311.4 49.4 311.7 49.6 311.7 51.4 311.9 51.6 311.9 54.9 311.7 55.1 311.7 58.9 311.9 59.1 311.9 60.4 312.7 62.1 313.9 63.4 314.4 63.4 314.7 63.6 315.4 63.6 316.9 62.9 317.9 61.4 317.9 60.9 318.4 59.9 318.4 59.1 318.7 58.9 318.7 57.1 318.9 56.9 318.9 55.1 319.2 54.9 319.2 54.1 319.9 52.4 320.4 51.9 322.2 48.6 322.4 47.1 322.7 46.9 322.7 42.4 322.4 42.1 322.2 40.4 321.7 39.4 320.4 38.1Z"/>
<path fill="rgb(58,159,250)" fill-rule="evenodd" d="M336.4 38.6 336.2 38.9 335.7 38.9 334.4 40.6 334.4 41.1 333.9 41.9 333.7 43.6 333.4 43.9 333.4 45.1 333.2 45.4 333.2 52.1 333.4 52.4 333.4 53.9 333.7 54.1 333.9 55.6 334.7 57.1 335.9 58.1 336.7 57.9 337.4 57.1 337.9 56.1 337.9 55.6 338.4 54.6 338.4 53.9 338.7 53.6 338.9 49.9 339.2 49.6 339.2 46.1 338.9 45.9 338.9 43.6 338.7 43.4 338.7 42.4 337.7 39.6ZM318.4 37.6 316.4 37.6 316.2 37.9 314.9 38.1 313.9 38.9 312.7 40.6 312.7 41.1 312.2 41.9 311.9 43.6 311.7 43.9 311.4 47.4 311.7 47.6 311.7 49.6 311.9 49.9 311.9 51.9 312.2 52.1 312.2 54.9 311.9 55.1 311.9 58.6 312.2 58.9 312.2 60.1 313.2 62.1 313.7 62.6 314.9 63.1 315.4 63.1 316.4 62.6 317.2 61.9 317.9 60.4 318.2 58.6 318.4 58.4 318.4 56.9 318.7 56.6 318.7 54.9 318.9 54.6 318.9 53.9 319.9 51.9 321.2 50.1 322.4 47.1 322.4 42.4 322.2 42.1 321.9 40.6 320.7 38.6 319.4 37.9 318.7 37.9Z"/>
<path fill="rgb(73,196,240)" fill-rule="evenodd" d="M335.9 39.1 335.2 39.9 334.2 41.9 334.2 42.6 333.7 43.9 333.7 45.1 333.4 45.4 333.4 51.9 333.7 52.1 333.7 53.4 333.9 53.6 333.9 54.4 334.2 54.6 334.4 55.9 335.7 57.4 336.4 57.4 337.4 56.4 338.4 53.6 338.7 50.9 338.9 50.6 338.9 44.9 338.7 44.6 338.4 42.1 337.4 39.6 336.7 39.1ZM318.7 38.1 316.2 38.1 314.9 38.6 312.9 40.9 312.9 41.4 312.4 42.1 312.2 43.6 311.9 43.9 311.7 47.4 311.9 47.6 311.9 49.4 312.2 49.6 312.2 51.1 312.4 51.4 312.4 58.9 312.7 59.1 312.7 59.9 313.2 61.1 314.4 62.1 315.9 62.1 316.9 61.1 317.9 58.6 318.2 55.1 318.4 54.9 318.7 53.4 319.9 51.1 320.9 49.9 321.7 48.4 321.9 46.9 322.2 46.6 322.2 42.9 321.9 42.6 321.7 40.9 321.2 39.9 319.9 38.6Z"/>
<path fill="rgb(89,219,215)" fill-rule="evenodd" d="M336.7 39.4 336.2 39.4 335.4 39.9 334.4 41.9 334.2 43.4 333.9 43.6 333.9 44.6 333.7 44.9 333.7 47.6 333.4 47.9 333.9 53.4 334.9 55.9 335.7 56.6 336.7 56.6 337.2 56.1 337.9 54.6 338.2 52.9 338.4 52.6 338.4 51.6 338.7 51.4 338.7 47.9 338.9 47.6 338.7 47.1 338.7 44.1 338.4 43.9 338.2 41.6 337.7 40.9 337.7 40.4ZM317.9 38.4 316.7 38.4 316.4 38.6 315.2 38.9 313.4 40.6 312.4 43.1 312.2 45.4 311.9 45.6 312.2 49.4 312.4 49.6 312.7 52.6 312.9 52.9 312.9 58.9 313.7 60.6 315.2 61.4 315.4 61.1 315.9 61.1 316.7 60.4 317.2 59.4 317.4 57.4 317.7 57.1 317.7 55.4 317.9 55.1 318.2 53.6 319.2 51.6 320.4 50.1 321.4 48.1 321.7 46.6 321.9 46.4 321.9 43.6 321.7 43.4 321.7 42.1 321.4 41.9 321.4 41.4 320.7 39.9 319.9 39.1Z"/>
<path fill="rgb(107,226,174)" fill-rule="evenodd" d="M336.7 39.6 335.7 39.9 334.9 41.1 334.9 41.6 334.4 42.4 334.4 43.1 334.2 43.4 333.9 46.4 333.7 46.6 333.7 50.1 333.9 50.4 334.2 53.4 335.2 55.6 335.7 56.1 336.9 55.9 337.7 54.6 338.2 52.1 338.4 51.9 338.4 50.1 338.7 49.9 338.7 44.9 338.4 44.6 338.4 43.1 338.2 42.9 337.9 41.4 337.4 40.4ZM318.4 38.9 316.2 38.9 314.4 39.9 313.7 40.9 312.4 43.9 312.2 47.6 312.4 47.9 312.4 49.4 312.7 49.6 312.7 50.6 312.9 50.9 312.9 51.9 313.2 52.1 313.2 53.9 313.4 54.1 313.4 58.1 313.9 59.4 314.9 60.1 315.7 59.9 316.7 58.6 317.7 53.6 320.9 48.6 320.9 48.1 321.4 47.1 321.4 46.1 321.7 45.9 321.7 44.1 321.4 43.9 321.2 41.6 320.7 40.6 319.4 39.4Z"/>
<path fill="rgb(128,235,127)" fill-rule="evenodd" d="M336.7 39.9 336.2 39.9 335.2 40.9 335.2 41.4 334.7 42.1 334.7 42.9 334.2 44.1 334.2 45.6 333.9 45.9 333.9 50.6 334.2 50.9 334.2 52.1 334.4 52.4 334.4 53.1 334.7 53.4 334.9 54.6 335.9 55.6 336.4 55.6 337.2 54.9 337.7 53.9 337.9 52.4 338.2 52.1 338.2 51.1 338.4 50.9 338.4 48.1 338.7 47.9 338.2 42.6 337.2 40.1ZM317.2 39.1 316.9 39.4 315.9 39.4 314.2 40.6 313.2 42.4 313.2 42.9 312.7 43.9 312.7 45.1 312.4 45.4 312.4 47.9 312.7 48.1 312.7 49.4 312.9 49.6 312.9 50.4 313.4 51.6 313.4 52.6 313.7 52.9 314.2 56.4 314.4 56.6 314.4 57.1 314.9 57.6 315.4 57.6 315.9 57.1 317.4 53.1 320.2 49.4 320.9 47.9 320.9 47.4 321.2 47.1 321.2 45.9 321.4 45.6 321.2 42.9 320.4 40.9 319.2 39.6 317.4 39.4Z"/>
<path fill="rgb(148,240,92)" fill-rule="evenodd" d="M336.7 40.1 336.2 40.1 335.4 40.9 334.9 41.9 334.9 42.6 334.4 43.9 334.4 45.1 334.2 45.4 334.2 50.6 334.4 50.9 334.4 51.9 334.7 52.1 334.9 53.6 335.9 54.9 336.4 54.9 337.2 54.1 337.7 53.1 337.7 52.4 338.2 51.1 338.2 49.6 338.4 49.4 338.4 44.6 338.2 44.4 338.2 43.1 337.9 42.9 337.7 41.4ZM318.2 39.9 315.9 39.9 315.4 40.1 313.7 42.1 312.9 44.1 312.9 45.6 312.7 45.9 312.9 48.9 313.2 49.1 313.4 50.9 314.2 52.4 314.2 52.9 314.7 53.6 315.4 54.1 317.4 52.4 318.2 51.1 319.2 50.1 320.4 48.1 320.7 46.6 320.9 46.4 320.9 43.6 320.7 43.4 320.7 42.6 319.9 41.1 318.9 40.1 318.4 40.1Z"/>
<path fill="rgb(166,240,74)" fill-rule="evenodd" d="M336.2 40.4 335.2 41.6 334.9 43.1 334.7 43.4 334.7 44.4 334.4 44.6 334.4 50.6 334.7 50.9 334.7 51.9 335.4 53.6 335.9 54.1 336.7 54.1 337.7 52.4 337.7 51.6 337.9 51.4 337.9 50.4 338.2 50.1 338.2 48.1 338.4 47.9 338.4 45.9 338.2 45.6 338.2 43.6 337.9 43.4 337.7 41.6 336.9 40.4ZM317.9 40.4 316.2 40.4 315.2 40.9 313.9 42.4 313.9 42.9 313.4 43.6 313.4 44.4 313.2 44.6 313.2 48.6 314.4 51.9 315.4 52.6 316.4 52.4 318.7 50.1 319.4 49.1 320.4 46.9 320.4 45.6 320.7 45.4 320.7 44.9 320.4 44.6 320.4 43.4 320.2 43.1 320.2 42.6 319.7 41.6 318.7 40.6 318.2 40.6Z"/>
<path fill="rgb(189,240,51)" fill-rule="evenodd" d="M317.4 41.1 316.4 41.1 315.4 41.6 314.2 43.1 314.2 43.6 313.7 44.6 313.7 45.6 313.4 45.9 313.7 48.4 313.9 48.6 314.2 49.9 315.2 51.1 316.4 51.1 316.9 50.9 318.7 49.1 319.9 46.6 319.9 44.1 319.7 43.9 319.7 43.4 319.2 42.4 318.2 41.4 317.7 41.4ZM336.2 40.6 335.2 42.1 334.9 44.1 334.7 44.4 334.7 50.1 334.9 50.4 334.9 51.1 335.2 51.4 335.4 52.6 335.9 53.1 336.7 53.1 337.4 52.1 337.7 50.6 337.9 50.4 337.9 49.1 338.2 48.9 338.2 44.4 337.9 44.1 337.9 42.9 337.7 42.6 337.4 41.4 336.7 40.6Z"/>
<path fill="rgb(209,237,33)" fill-rule="evenodd" d="M317.4 42.1 316.2 42.1 315.7 42.4 314.9 43.1 314.2 44.9 314.2 48.1 314.9 49.6 315.7 50.1 316.2 50.1 317.2 49.6 318.4 48.4 319.2 46.9 319.2 45.9 319.4 45.6 319.2 44.1 318.7 43.1ZM336.2 40.9 335.2 42.6 335.2 43.4 334.9 43.6 334.7 48.4 334.9 48.6 334.9 50.1 335.2 50.4 335.4 51.6 335.9 52.4 336.7 52.4 337.4 51.4 337.7 49.9 337.9 49.6 338.2 45.6 337.9 45.4 337.9 43.4 337.7 43.1 337.7 42.4 337.2 41.4 336.7 40.9Z"/>
<path fill="rgb(227,230,20)" fill-rule="evenodd" d="M316.7 43.9 315.9 44.1 315.2 45.1 315.2 47.6 315.9 48.4 316.4 48.4 317.4 47.6 317.9 46.9 317.9 46.1 318.2 45.9 317.7 44.4ZM336.7 41.1 336.2 41.1 335.4 42.4 335.2 44.4 334.9 44.6 334.9 48.6 335.2 48.9 335.2 49.9 335.9 51.6 336.4 51.9 337.4 50.6 337.7 48.9 337.9 48.6 337.9 44.1 337.7 43.9 337.4 42.1Z"/>
<path fill="rgb(246,223,7)" fill-rule="evenodd" d="M336.7 41.4 335.7 42.1 335.4 43.6 335.2 43.9 335.2 48.9 335.4 49.1 335.7 50.6 336.2 51.1 336.7 51.1 337.4 50.1 337.7 47.6 337.9 47.4 337.7 43.4 337.4 43.1 337.4 42.4Z"/>
<path fill="rgb(255,205,0)" fill-rule="evenodd" d="M336.2 41.6 335.7 42.6 335.4 44.4 335.2 44.6 335.2 48.1 335.4 48.4 335.4 49.4 336.2 50.6 336.7 50.6 337.2 50.1 337.4 48.6 337.7 48.4 337.7 43.9 337.4 43.6 337.2 42.1 336.7 41.6Z"/>
<path fill="rgb(255,175,0)" fill-rule="evenodd" d="M336.7 41.9 335.9 42.4 335.7 43.6 335.4 43.9 335.4 48.4 335.7 48.6 335.7 49.4 336.2 50.1 336.7 50.1 337.2 49.6 337.2 49.1 337.4 48.9 337.4 47.6 337.7 47.4 337.7 44.4 337.4 44.1 337.2 42.4Z"/>
<path fill="rgb(255,145,0)" fill-rule="evenodd" d="M336.7 42.1 335.9 42.6 335.7 44.4 335.4 44.6 335.4 47.6 335.7 47.9 335.9 49.4 336.4 49.9 337.2 49.1 337.2 48.4 337.4 48.1 337.4 46.4 337.7 46.1 337.7 45.6 337.4 45.4 337.4 43.4 337.2 43.1 337.2 42.6Z"/>
<path fill="rgb(251,113,0)" fill-rule="evenodd" d="M336.4 42.4 335.9 42.9 335.9 43.4 335.7 43.6 335.7 48.1 335.9 48.4 335.9 48.9 336.7 49.4 337.2 48.6 337.2 47.9 337.4 47.6 337.4 43.9 336.9 42.6Z"/>
<path fill="rgb(242,77,0)" fill-rule="evenodd" d="M336.4 42.6 335.7 44.1 335.7 47.4 335.9 47.6 335.9 48.4 336.7 48.9 337.2 48.1 337.2 47.1 337.4 46.9 337.4 44.4 337.2 44.1 336.9 42.9Z"/>
<path fill="rgb(232,37,0)" fill-rule="evenodd" d="M336.4 42.9 335.9 43.6 335.7 46.4 335.9 46.6 335.9 47.6 336.2 48.1 336.7 48.4 337.2 47.6 337.2 45.9 337.4 45.6 337.2 45.4 337.2 43.6 336.9 43.1Z"/>
<path fill="rgb(212,24,0)" fill-rule="evenodd" d="M336.4 43.1 335.9 44.1 335.9 47.1 336.2 47.4 336.2 47.9 336.7 48.1 337.2 47.1 337.2 44.1 336.9 43.9 336.9 43.4Z"/>
<path fill="rgb(185,15,0)" fill-rule="evenodd" d="M336.4 43.6 335.9 44.9 335.9 46.1 336.2 46.4 336.2 47.1 336.7 47.4 337.2 46.1 337.2 44.9 336.9 44.6 336.9 43.9Z"/>
<path fill="rgb(155,5,0)" fill-rule="evenodd" d="M336.4 44.1 336.4 44.6 336.2 44.9 336.2 46.1 336.4 46.6 336.7 46.6 336.9 46.1 336.9 44.9 336.7 44.6 336.7 44.1Z"/>
<path fill="rgb(16,18,149)" fill-rule="evenodd" d="M371.3 43.9 370.1 44.6 369.1 45.6 368.1 47.4 367.8 49.1 367.6 49.4 367.6 50.9 367.3 51.1 367.3 61.6 367.6 61.9 367.6 63.6 367.8 63.9 368.1 65.4 368.8 66.9 370.3 68.4 372.1 69.1 373.1 69.1 373.3 69.4 377.8 69.4 378.1 69.6 379.1 69.6 379.3 69.4 381.6 69.4 381.8 69.1 383.1 68.9 384.1 68.4 385.6 66.9 386.8 64.6 386.8 64.1 387.3 63.1 387.3 62.4 387.6 62.1 387.8 58.6 387.6 58.4 387.6 56.6 387.3 56.4 387.1 53.9 386.8 53.6 386.8 52.4 386.6 52.1 386.3 48.9 386.1 48.6 385.8 47.4 384.8 45.6 383.3 44.4 382.8 44.4 381.8 43.9 380.8 43.9 380.6 43.6 377.6 43.6 377.3 43.4 372.8 43.4 372.6 43.6Z"/>
<path fill="rgb(20,28,188)" fill-rule="evenodd" d="M371.6 44.6 369.8 46.1 368.8 48.1 368.8 48.9 368.6 49.1 368.6 51.6 368.3 51.9 368.3 60.9 368.6 61.1 368.6 62.9 368.8 63.1 369.1 64.6 369.6 65.6 371.1 67.1 372.8 67.9 375.6 68.1 375.8 68.4 381.3 68.4 381.6 68.1 382.8 67.9 384.1 67.1 385.1 66.1 386.1 64.6 386.8 62.6 387.1 60.1 387.3 59.9 386.8 55.9 386.1 53.9 386.1 53.1 385.6 51.9 385.6 50.9 385.3 50.6 385.3 49.6 385.1 49.4 384.8 48.1 383.3 46.1 382.6 45.6 382.1 45.6 381.1 45.1 378.6 44.9 376.6 44.1 372.8 44.1 372.1 44.6Z"/>
<path fill="rgb(23,36,211)" fill-rule="evenodd" d="M372.8 44.6 370.6 46.1 369.6 47.9 369.6 48.6 369.3 48.9 369.3 61.4 369.6 61.6 369.6 62.6 369.8 62.9 370.1 64.1 371.8 66.1 374.3 67.1 376.3 67.4 376.6 67.6 378.6 67.6 378.8 67.9 382.1 67.4 383.6 66.6 385.1 65.1 386.3 62.9 386.6 60.9 386.8 60.6 386.8 58.1 386.6 57.9 386.6 56.9 386.3 56.6 386.3 55.9 386.1 55.6 385.8 54.4 385.3 53.6 384.1 49.4 383.6 48.4 382.3 47.1 381.3 46.6 379.3 46.1 376.3 44.6 375.3 44.6 375.1 44.4Z"/>
<path fill="rgb(25,45,224)" fill-rule="evenodd" d="M372.6 45.1 370.6 46.9 369.8 48.6 369.8 51.1 370.1 51.4 370.1 52.6 370.3 52.9 370.1 60.4 370.3 60.6 370.3 61.9 370.6 62.1 370.8 63.4 372.6 65.4 373.8 66.1 374.3 66.1 376.1 66.9 376.8 66.9 377.1 67.1 381.1 67.1 381.3 66.9 382.6 66.6 384.3 65.4 385.6 63.6 385.6 63.1 386.3 61.6 386.3 59.9 386.6 59.6 386.6 59.1 386.3 58.9 386.1 56.4 385.3 54.9 385.3 54.4 383.1 49.9 381.8 48.4 380.6 47.9 378.1 45.9 376.6 45.1 376.1 45.1 375.8 44.9 373.3 44.9 373.1 45.1Z"/>
<path fill="rgb(28,56,240)" fill-rule="evenodd" d="M372.8 45.4 371.1 46.6 370.3 48.1 370.3 49.4 370.1 49.6 370.3 49.9 370.3 51.4 370.6 51.6 370.6 52.1 371.1 53.1 371.1 54.1 371.3 54.4 371.1 54.9 371.1 57.1 370.8 57.4 370.8 60.6 371.1 60.9 371.3 62.4 372.1 63.9 373.1 64.9 376.1 66.4 378.3 66.6 378.6 66.9 380.1 66.9 380.3 66.6 382.1 66.4 383.1 65.9 384.8 64.1 385.8 62.1 385.8 61.4 386.1 61.1 386.1 57.6 385.8 57.4 385.6 55.9 384.6 53.9 382.3 50.6 381.3 49.9 378.1 46.4 375.6 45.1 373.6 45.1 373.3 45.4Z"/>
<path fill="rgb(34,79,251)" fill-rule="evenodd" d="M372.6 45.9 371.1 47.4 370.8 48.6 370.6 48.9 370.8 51.1 372.3 53.6 372.3 55.6 371.8 56.9 371.8 58.6 371.6 58.9 372.1 61.9 372.8 63.4 374.1 64.6 375.8 65.6 376.3 65.6 377.3 66.1 378.6 66.1 378.8 66.4 381.3 66.1 382.8 65.4 384.1 64.4 384.8 63.4 385.1 62.4 385.6 61.6 385.8 58.6 385.6 58.4 385.6 57.4 385.3 57.1 385.1 55.9 383.1 52.9 381.6 51.6 380.1 50.9 379.3 50.1 379.3 49.6 378.6 47.9 377.3 46.4 376.6 45.9 375.1 45.6 374.8 45.4Z"/>
<path fill="rgb(41,107,253)" fill-rule="evenodd" d="M372.8 46.1 371.3 47.6 371.3 48.1 371.1 48.4 371.1 50.4 371.3 50.6 371.3 51.1 373.6 54.1 372.6 56.9 372.6 57.6 372.3 57.9 372.3 60.4 372.6 60.6 372.8 62.1 374.1 63.9 376.6 65.4 378.1 65.6 378.3 65.9 380.3 65.9 380.6 65.6 382.1 65.4 384.3 63.4 385.1 61.9 385.1 61.4 385.3 61.1 385.3 57.9 385.1 57.6 385.1 56.9 383.8 54.6 382.1 52.9 381.3 52.4 380.1 52.1 378.8 51.4 378.6 50.9 378.3 48.4 377.1 46.6 375.6 45.9 373.6 45.9 373.3 46.1Z"/>
<path fill="rgb(47,129,254)" fill-rule="evenodd" d="M372.8 46.4 371.8 47.4 371.3 48.4 371.3 50.4 371.6 50.6 371.6 51.1 372.1 51.9 374.1 53.6 374.1 54.6 372.8 57.4 372.8 58.9 372.6 59.1 372.6 59.6 372.8 59.9 372.8 61.1 374.1 63.4 375.6 64.6 378.3 65.6 380.3 65.6 380.6 65.4 381.3 65.4 382.8 64.6 384.1 63.4 384.8 61.9 384.8 61.4 385.1 61.1 385.1 57.6 384.8 57.4 384.8 56.9 384.1 55.4 382.8 53.9 380.8 52.6 379.1 52.4 378.3 51.9 378.1 51.4 378.1 48.6 377.6 47.6 376.6 46.6 375.6 46.1 373.6 46.1 373.3 46.4Z"/>
<path fill="rgb(58,159,250)" fill-rule="evenodd" d="M373.3 46.4 372.1 47.4 371.6 48.4 371.6 50.4 372.1 51.4 373.3 52.6 374.1 52.9 374.8 53.6 374.8 54.4 374.3 54.9 373.3 56.9 373.3 57.6 373.1 57.9 373.1 60.9 373.3 61.1 373.3 61.6 374.1 62.9 375.3 64.1 377.3 65.1 378.1 65.1 378.3 65.4 380.3 65.4 380.6 65.1 381.3 65.1 383.6 63.6 384.8 61.4 385.1 58.9 384.8 58.6 384.6 56.9 383.6 55.1 382.3 53.9 380.3 52.9 378.1 52.6 377.6 52.1 377.6 51.4 377.8 51.1 377.8 48.6 377.3 47.6 375.8 46.4 374.8 46.4 374.6 46.1Z"/>
<path fill="rgb(73,196,240)" fill-rule="evenodd" d="M376.8 53.4 374.8 55.1 373.8 56.9 373.6 58.6 373.3 58.9 373.8 61.6 375.3 63.6 377.1 64.6 377.6 64.6 377.8 64.9 380.8 64.9 381.1 64.6 381.6 64.6 383.6 63.1 384.6 61.1 384.6 57.9 384.3 57.6 384.3 57.1 383.3 55.4 381.6 53.9 380.3 53.4ZM373.6 46.6 372.1 47.9 372.1 48.4 371.8 48.6 371.8 50.1 372.3 51.1 373.8 52.4 374.3 52.4 374.6 52.6 375.8 52.6 376.8 51.9 377.3 50.9 377.3 50.1 377.6 49.9 377.3 48.4 377.1 47.9 375.6 46.6Z"/>
<path fill="rgb(89,219,215)" fill-rule="evenodd" d="M378.6 53.6 378.3 53.9 377.6 53.9 376.3 54.4 374.8 55.9 373.8 58.1 373.8 60.4 374.1 60.6 374.3 61.9 374.8 62.6 376.3 63.9 378.1 64.6 380.6 64.6 382.3 63.9 383.8 62.1 384.3 60.9 384.3 58.1 383.3 55.9 382.1 54.6 380.6 53.9ZM373.8 46.9 372.3 48.1 372.1 49.6 372.6 50.9 373.3 51.6 375.1 52.1 375.3 51.9 375.8 51.9 376.8 50.9 376.8 50.4 377.1 50.1 377.1 48.6 375.8 47.1 375.3 47.1 375.1 46.9Z"/>
<path fill="rgb(107,226,174)" fill-rule="evenodd" d="M378.1 54.1 376.8 54.6 375.3 55.9 374.3 57.9 374.1 59.9 375.1 62.4 376.1 63.4 378.3 64.4 380.3 64.4 382.1 63.6 383.3 62.4 384.1 60.6 384.1 58.1 383.3 56.4 381.8 54.9 380.1 54.1ZM373.6 47.4 372.6 48.6 372.6 50.1 373.3 51.1 374.3 51.6 375.1 51.6 376.3 50.9 376.6 50.4 376.6 48.6 376.3 48.1 375.3 47.4Z"/>
<path fill="rgb(128,235,127)" fill-rule="evenodd" d="M378.8 54.4 376.3 55.4 375.6 56.1 374.6 58.1 374.6 60.6 375.3 62.1 377.1 63.6 377.6 63.6 378.6 64.1 380.1 64.1 380.3 63.9 381.1 63.9 382.3 63.1 383.3 61.9 383.6 60.6 383.8 60.4 383.8 58.4 383.1 56.6 382.3 55.6 380.6 54.6ZM374.6 47.6 374.3 47.9 373.8 47.9 373.1 48.6 373.1 50.1 373.8 50.9 375.1 51.1 376.1 50.4 376.3 49.1 375.3 47.9 374.8 47.9Z"/>
<path fill="rgb(148,240,92)" fill-rule="evenodd" d="M377.8 55.1 376.8 55.6 375.6 56.9 375.1 58.1 375.1 60.6 376.1 62.4 377.1 63.1 378.3 63.6 380.6 63.6 381.6 63.1 382.8 61.9 383.3 60.9 383.3 59.6 383.6 59.4 383.3 59.1 383.3 58.1 382.8 56.9 381.6 55.6 379.8 54.9ZM374.8 49.1 374.1 49.4 374.6 50.1 375.1 49.9 375.1 49.4Z"/>
<path fill="rgb(166,240,74)" fill-rule="evenodd" d="M380.1 55.4 378.6 55.4 377.3 55.9 375.8 57.4 375.6 58.6 375.3 58.9 375.3 59.9 376.1 61.6 377.1 62.6 378.1 63.1 379.1 63.1 379.3 63.4 379.6 63.1 380.6 63.1 381.6 62.6 382.3 61.9 383.1 60.4 383.1 58.6 382.3 56.9 381.6 56.1Z"/>
<path fill="rgb(189,240,51)" fill-rule="evenodd" d="M378.6 56.1 378.3 56.4 377.8 56.4 376.6 57.6 376.1 58.6 376.1 59.9 376.6 61.1 377.6 62.1 378.8 62.6 379.8 62.6 381.1 62.1 382.1 61.1 382.6 59.1 382.3 58.9 382.3 58.1 381.1 56.6 380.1 56.1Z"/>
<path fill="rgb(209,237,33)" fill-rule="evenodd" d="M378.6 56.9 377.3 57.6 376.8 58.6 376.8 60.1 377.6 61.4 378.6 61.9 380.3 61.9 381.8 60.6 381.8 60.1 382.1 59.9 381.8 58.1 380.3 56.9Z"/>
<path fill="rgb(227,230,20)" fill-rule="evenodd" d="M378.1 57.6 377.3 58.4 377.3 58.9 377.1 59.1 377.3 60.4 378.1 61.1 379.3 61.6 380.6 61.4 381.6 60.4 381.6 59.9 381.8 59.6 381.6 58.4 380.3 57.4 378.6 57.4Z"/>
<path fill="rgb(246,223,7)" fill-rule="evenodd" d="M379.6 57.4 379.3 57.6 378.1 57.9 377.3 59.1 377.6 60.4 379.1 61.4 380.6 61.1 381.6 59.9 381.3 58.4 380.8 57.9Z"/>
<path fill="rgb(255,205,0)" fill-rule="evenodd" d="M379.1 57.6 377.8 58.4 377.6 58.9 377.6 59.9 378.3 60.9 378.8 61.1 380.1 61.1 381.3 60.1 381.3 58.9 380.6 57.9 380.1 57.6Z"/>
<path fill="rgb(255,175,0)" fill-rule="evenodd" d="M378.3 58.1 377.8 58.9 377.8 59.9 378.1 60.4 378.8 60.9 380.3 60.9 381.1 60.1 381.1 58.6 380.1 57.9 378.8 57.9Z"/>
<path fill="rgb(255,145,0)" fill-rule="evenodd" d="M379.3 57.9 379.1 58.1 378.6 58.1 378.1 58.6 378.1 59.1 377.8 59.4 378.1 59.6 378.1 60.1 378.6 60.6 379.8 60.9 381.1 59.9 381.1 59.1 380.3 58.1Z"/>
<path fill="rgb(251,113,0)" fill-rule="evenodd" d="M378.1 58.9 378.1 59.9 378.8 60.6 380.1 60.6 380.6 60.4 380.8 59.9 380.8 58.9 380.1 58.1 378.8 58.1Z"/>
<path fill="rgb(242,77,0)" fill-rule="evenodd" d="M379.3 58.1 378.3 58.9 378.3 59.9 379.1 60.6 379.8 60.6 380.6 60.1 380.8 59.1 380.3 58.4Z"/>
<path fill="rgb(232,37,0)" fill-rule="evenodd" d="M379.1 58.4 378.3 59.1 378.3 59.6 378.6 60.1 379.1 60.4 380.1 60.4 380.6 59.9 380.6 58.9 379.8 58.4Z"/>
<path fill="rgb(212,24,0)" fill-rule="evenodd" d="M379.1 58.6 378.6 59.1 378.8 60.1 380.1 60.1 380.3 59.9 380.3 58.9 380.1 58.6Z"/>
<path fill="rgb(185,15,0)" fill-rule="evenodd" d="M379.1 58.9 378.8 59.1 378.8 59.6 379.1 59.9 379.8 59.9 380.1 59.6 380.1 59.1 379.8 58.9Z"/>
<path fill="rgb(16,18,149)" fill-rule="evenodd" d="M452.6 55.6 452.1 56.1 452.1 57.1 453.1 57.6 453.9 57.1 453.9 56.1 453.1 55.6ZM421.1 46.6 419.9 47.9 419.4 48.9 419.4 49.4 419.1 49.6 419.1 51.6 419.4 51.9 419.6 53.6 420.1 54.6 420.6 57.6 422.4 61.6 422.4 66.4 422.9 67.6 424.6 69.1 425.1 69.1 425.4 69.4 427.4 69.4 429.1 68.6 430.4 67.6 432.4 66.9 433.4 66.9 433.6 67.1 435.1 67.4 436.6 68.4 437.1 68.4 438.1 68.9 441.1 68.9 442.9 67.9 443.6 66.9 443.6 66.4 443.9 66.1 443.9 62.4 444.9 61.6 447.1 61.6 447.4 61.4 447.9 61.4 449.1 60.1 449.1 59.6 449.4 59.4 449.1 57.6 448.6 56.9 446.4 54.9 446.4 53.4 448.4 49.4 448.4 47.4 447.6 45.9 445.9 44.6 443.9 44.4 443.6 44.6 442.6 44.6 441.4 45.1 439.6 45.1 439.4 44.9 438.9 44.9 437.9 44.4 437.1 44.4 436.9 44.1 436.1 44.1 435.9 43.9 430.9 43.9 430.6 44.1 428.1 44.6 426.6 45.4 423.9 45.6Z"/>
<path fill="rgb(20,28,188)" fill-rule="evenodd" d="M452.6 55.9 452.1 56.6 452.6 57.4 453.6 57.1 453.6 56.1 453.4 55.9ZM420.4 48.1 419.6 50.1 419.6 51.4 421.1 55.4 421.1 56.1 421.4 56.4 421.4 57.1 421.6 57.4 421.9 58.6 423.4 61.6 423.4 62.6 423.1 62.9 423.1 63.9 422.9 64.1 422.9 66.1 423.6 67.6 424.9 68.6 425.4 68.6 425.6 68.9 427.9 68.6 429.1 67.9 430.4 66.6 431.9 65.9 433.9 65.9 434.1 66.1 434.6 66.1 436.6 67.6 438.1 68.4 439.1 68.4 439.6 68.6 439.9 68.4 441.6 68.1 442.4 67.6 443.4 65.6 443.1 63.6 442.9 63.4 442.9 61.9 443.1 61.4 443.9 60.9 444.9 60.9 445.1 61.1 447.4 61.1 447.9 60.9 448.9 59.6 448.9 58.1 448.6 57.6 447.6 56.6 445.9 55.9 445.4 55.1 445.4 53.6 445.6 53.4 445.6 52.9 447.1 50.9 447.9 48.9 447.6 47.1 446.1 45.4 445.6 45.4 445.4 45.1 443.1 45.1 442.9 45.4 440.1 46.1 439.9 45.9 439.1 45.9 437.4 45.1 435.4 44.9 435.1 44.6 431.4 44.6 431.1 44.9 429.1 45.1 426.6 46.1 423.1 46.4 421.4 47.1Z"/>
<path fill="rgb(23,36,211)" fill-rule="evenodd" d="M452.6 56.1 452.4 56.4 452.6 57.1 453.4 57.1 453.6 56.6 453.4 56.1ZM421.9 47.4 420.4 49.1 420.1 51.1 420.4 51.4 420.4 52.4 421.1 53.6 421.1 54.1 421.9 55.6 422.1 57.4 422.6 58.1 422.9 59.1 423.4 59.6 424.1 61.1 424.1 62.4 423.9 62.6 423.9 63.4 423.4 64.6 423.6 66.4 423.9 66.9 425.4 68.1 427.4 68.1 428.4 67.6 430.6 65.4 431.9 64.9 433.6 64.9 433.9 65.1 434.6 65.1 437.6 67.6 439.1 67.9 439.4 68.1 440.9 67.9 441.4 67.6 442.6 66.1 442.6 64.1 441.9 62.6 441.9 61.9 442.4 60.9 443.4 59.9 444.1 59.9 445.4 60.6 446.6 60.9 447.9 60.4 448.4 59.6 448.4 58.1 448.1 57.6 447.1 56.9 445.4 56.6 444.6 55.6 444.6 53.6 444.9 53.4 444.9 52.9 445.4 51.9 446.4 50.9 447.1 49.4 447.1 47.6 446.6 46.6 445.6 45.9 445.1 45.9 444.9 45.6 443.6 45.6 440.4 46.9 440.1 46.6 439.1 46.6 437.6 45.9 435.9 45.6 435.6 45.4 430.9 45.4 430.6 45.6 428.9 45.9 427.1 46.6 424.6 46.6 424.4 46.9 423.1 46.9Z"/>
<path fill="rgb(25,45,224)" fill-rule="evenodd" d="M452.9 56.4 452.9 56.9 453.1 56.9 453.1 56.4ZM422.1 47.9 420.9 49.4 420.9 49.9 420.6 50.1 420.6 51.4 420.9 51.6 420.9 52.4 421.9 54.1 422.9 57.6 424.9 61.1 424.9 62.4 424.1 64.1 424.1 65.6 424.4 65.9 424.4 66.4 425.6 67.4 426.1 67.4 426.4 67.6 427.6 67.4 428.4 66.9 430.6 64.4 431.1 64.4 431.4 64.1 433.9 64.1 434.1 64.4 435.1 64.4 435.6 64.6 437.9 67.1 438.4 67.4 440.6 67.4 441.1 67.1 442.1 65.9 442.1 64.6 440.9 62.1 441.1 61.9 441.1 61.4 442.9 59.4 442.9 59.1 443.9 58.4 445.1 59.9 446.1 60.4 447.4 60.1 447.9 59.6 447.9 58.1 446.9 57.4 444.9 57.4 444.4 57.6 443.9 56.4 443.9 55.9 444.1 55.6 444.1 52.6 445.9 50.4 446.4 49.4 446.4 47.9 446.1 47.4 444.9 46.4 443.4 46.4 441.4 47.4 439.6 47.4 438.1 46.6 437.6 46.6 436.6 46.1 435.9 46.1 435.6 45.9 430.9 45.9 430.6 46.1 429.9 46.1 427.1 47.1 424.4 47.1 424.1 47.4 423.1 47.4Z"/>
<path fill="rgb(28,56,240)" fill-rule="evenodd" d="M446.1 57.9 445.4 58.4 445.4 58.9 445.6 59.4 446.6 59.6 447.1 58.6 446.9 58.1ZM421.6 49.1 421.1 50.4 421.4 52.4 422.4 54.1 423.4 57.6 424.1 59.1 425.6 61.1 425.6 62.9 424.9 64.4 425.1 65.6 425.6 66.1 426.9 66.6 427.1 66.4 427.6 66.4 428.6 65.4 429.1 64.4 430.1 63.6 435.6 63.6 436.9 64.6 437.6 66.1 438.4 66.6 440.4 66.6 441.1 65.9 441.4 64.6 439.9 62.4 440.1 62.1 440.1 61.6 442.6 58.6 443.4 56.9 443.4 53.4 443.6 53.1 443.6 52.1 445.4 49.6 445.4 48.4 444.4 47.4 442.9 47.4 441.4 48.1 440.1 48.1 436.6 46.6 434.4 46.4 434.1 46.1 432.4 46.1 432.1 46.4 429.6 46.6 426.9 47.6 424.1 47.6 423.9 47.9 423.1 47.9Z"/>
<path fill="rgb(34,79,251)" fill-rule="evenodd" d="M422.6 49.4 422.1 50.4 422.1 52.4 423.1 54.4 423.9 57.1 425.1 59.4 426.1 60.4 427.1 61.9 428.1 62.6 430.9 62.6 431.1 62.9 435.4 62.9 435.6 62.6 437.1 62.6 438.6 61.9 441.4 59.1 442.4 57.4 442.6 55.6 442.9 55.4 442.9 53.4 442.6 53.1 442.6 50.9 442.9 50.6 442.9 49.9 442.1 49.4 440.6 49.1 438.4 47.9 437.9 47.9 437.1 47.4 435.6 47.1 435.4 46.9 430.9 46.9 430.6 47.1 429.9 47.1 427.4 48.1 424.1 48.4Z"/>
<path fill="rgb(41,107,253)" fill-rule="evenodd" d="M423.6 49.6 422.9 50.9 422.9 52.6 423.9 54.6 423.9 55.4 424.1 55.6 424.4 56.9 425.9 59.4 428.1 61.4 428.6 61.4 429.4 61.9 432.1 62.1 432.4 62.4 433.9 62.4 434.1 62.1 436.6 61.9 437.9 61.4 439.4 60.4 440.6 59.1 441.6 57.6 441.6 57.1 442.1 56.1 442.1 52.9 441.9 52.6 441.6 51.1 440.9 50.1 437.6 48.1 437.1 48.1 436.4 47.6 435.6 47.6 435.4 47.4 430.9 47.4 430.6 47.6 429.1 47.9 427.6 48.6 425.1 48.9Z"/>
<path fill="rgb(47,129,254)" fill-rule="evenodd" d="M423.6 50.6 423.4 51.1 423.4 52.6 424.4 55.1 424.6 56.6 426.1 59.1 427.1 60.1 428.6 61.1 429.1 61.1 430.1 61.6 430.9 61.6 431.1 61.9 435.1 61.9 435.4 61.6 436.9 61.4 439.4 59.9 440.4 58.9 441.6 56.6 441.6 55.9 441.9 55.6 441.9 53.4 440.9 50.9 438.9 49.1 436.9 48.1 435.4 47.9 435.1 47.6 431.1 47.6 430.9 47.9 430.1 47.9 429.9 48.1 428.6 48.4 427.9 48.9 425.1 49.4Z"/>
<path fill="rgb(58,159,250)" fill-rule="evenodd" d="M424.1 50.9 423.9 51.4 423.9 52.9 424.4 53.9 424.9 56.4 425.6 57.9 427.4 59.9 430.4 61.4 431.4 61.4 431.6 61.6 434.6 61.6 434.9 61.4 436.6 61.1 438.9 59.9 440.1 58.6 441.4 56.4 441.6 54.1 441.4 53.9 441.4 52.9 440.9 51.6 439.4 49.9 435.9 48.1 435.1 48.1 434.9 47.9 431.4 47.9 431.1 48.1 430.4 48.1 430.1 48.4 428.1 48.9 427.4 49.4 425.6 49.6Z"/>
<path fill="rgb(73,196,240)" fill-rule="evenodd" d="M425.4 50.6 424.6 51.6 424.6 53.4 424.9 53.6 425.4 56.4 426.1 57.9 427.9 59.6 429.6 60.6 431.1 60.9 431.4 61.1 434.9 61.1 435.1 60.9 435.9 60.9 438.4 59.6 440.1 57.9 440.9 56.4 440.9 55.6 441.1 55.4 441.1 53.6 440.4 51.6 438.6 49.9 436.9 48.9 436.4 48.9 435.4 48.4 432.4 48.1 432.1 48.4 430.9 48.4 430.6 48.6 429.4 48.9 428.6 49.4 428.1 49.4Z"/>
<path fill="rgb(89,219,215)" fill-rule="evenodd" d="M425.4 51.9 425.4 54.6 426.4 57.4 427.9 59.1 429.6 60.1 430.1 60.1 431.1 60.6 435.1 60.6 437.6 59.6 439.4 58.1 440.6 55.6 440.6 53.1 439.9 51.6 438.4 50.1 435.9 48.9 435.1 48.9 434.9 48.6 431.4 48.6 431.1 48.9 429.6 49.1 426.1 50.9Z"/>
<path fill="rgb(107,226,174)" fill-rule="evenodd" d="M426.1 51.9 425.9 52.4 425.9 54.9 426.9 57.4 428.6 59.1 430.9 60.1 431.6 60.1 431.9 60.4 434.1 60.4 434.4 60.1 436.1 59.9 437.6 59.1 439.4 57.4 440.1 56.1 440.4 53.6 439.6 51.9 437.4 49.9 435.4 49.1 434.6 49.1 434.4 48.9 431.9 48.9 431.6 49.1 430.9 49.1 427.9 50.4Z"/>
<path fill="rgb(128,235,127)" fill-rule="evenodd" d="M427.9 50.9 426.4 52.6 426.4 55.4 427.1 57.1 428.6 58.6 429.9 59.4 430.4 59.4 431.4 59.9 434.9 59.9 435.1 59.6 436.4 59.4 437.6 58.6 439.6 56.4 439.9 54.9 440.1 54.6 439.6 52.4 438.4 50.9 436.1 49.6 435.6 49.6 435.4 49.4 434.1 49.4 433.9 49.1 432.4 49.1 432.1 49.4 431.1 49.4 430.9 49.6 429.6 49.9Z"/>
<path fill="rgb(148,240,92)" fill-rule="evenodd" d="M427.1 52.4 426.9 52.9 426.9 55.4 427.4 56.6 429.1 58.4 431.4 59.4 434.6 59.4 437.1 58.4 438.6 57.1 439.6 55.1 439.6 53.4 438.9 51.9 437.4 50.6 434.9 49.6 431.6 49.6 431.4 49.9 430.6 49.9 428.6 50.9Z"/>
<path fill="rgb(166,240,74)" fill-rule="evenodd" d="M427.6 52.4 427.1 53.6 427.1 54.6 427.4 54.9 427.6 56.1 428.9 57.6 431.4 58.9 434.9 58.9 435.1 58.6 435.6 58.6 437.1 57.9 438.9 56.1 439.4 54.9 439.4 53.6 438.9 52.4 436.9 50.6 435.6 50.1 434.9 50.1 434.6 49.9 431.9 49.9 431.6 50.1 430.1 50.4 428.9 51.1Z"/>
<path fill="rgb(189,240,51)" fill-rule="evenodd" d="M428.9 51.6 427.9 53.1 427.6 54.6 428.6 56.6 430.4 57.9 431.9 58.1 432.1 58.4 434.4 58.4 434.6 58.1 435.4 58.1 437.4 57.1 438.6 55.6 438.6 55.1 438.9 54.9 438.9 53.4 438.4 52.4 436.6 50.9 436.1 50.9 435.1 50.4 432.9 50.1 432.6 50.4 431.4 50.4 431.1 50.6 430.6 50.6Z"/>
<path fill="rgb(209,237,33)" fill-rule="evenodd" d="M428.4 52.9 428.1 54.6 428.6 55.9 429.6 56.9 431.9 57.9 434.6 57.9 436.6 57.1 437.6 56.4 438.4 55.1 438.4 54.4 438.6 54.1 438.4 53.9 438.1 52.6 437.1 51.6 435.9 50.9 435.1 50.9 434.9 50.6 431.6 50.6 431.4 50.9 430.9 50.9 429.9 51.4Z"/>
<path fill="rgb(227,230,20)" fill-rule="evenodd" d="M428.6 53.6 428.6 54.6 429.1 55.6 430.1 56.6 431.9 57.4 434.6 57.4 434.9 57.1 435.6 57.1 437.6 55.6 438.1 54.4 437.9 53.1 436.9 51.9 434.4 50.9 432.4 50.9 432.1 51.1 430.6 51.4 429.1 52.6Z"/>
<path fill="rgb(246,223,7)" fill-rule="evenodd" d="M429.1 53.4 429.1 54.6 429.6 55.6 430.1 56.1 431.6 56.9 432.6 56.9 432.9 57.1 435.1 56.9 436.6 56.1 437.6 54.6 437.4 52.9 435.9 51.6 434.4 51.4 434.1 51.1 432.6 51.1 432.4 51.4 430.9 51.6 430.4 51.9Z"/>
<path fill="rgb(255,205,0)" fill-rule="evenodd" d="M429.4 53.6 429.6 54.9 430.9 56.1 432.1 56.6 434.6 56.6 434.9 56.4 435.4 56.4 436.6 55.6 437.1 54.9 437.1 53.4 436.9 52.9 436.1 52.1 435.1 51.6 434.1 51.6 433.9 51.4 431.6 51.6 430.1 52.4Z"/>
<path fill="rgb(255,175,0)" fill-rule="evenodd" d="M429.9 53.1 429.9 53.6 429.6 53.9 429.9 54.1 429.9 54.6 430.9 55.6 432.9 56.4 433.9 56.4 435.9 55.6 436.6 54.9 436.6 54.4 436.9 54.1 436.6 53.1 435.9 52.4 434.9 51.9 433.9 51.9 433.6 51.6 431.6 51.9 430.6 52.4Z"/>
<path fill="rgb(255,145,0)" fill-rule="evenodd" d="M430.1 53.1 430.1 54.4 430.4 54.9 432.4 55.9 434.4 55.9 434.6 55.6 435.1 55.6 435.9 55.1 436.4 54.4 436.4 53.4 435.4 52.4 434.1 52.1 433.9 51.9 432.4 51.9 430.6 52.6Z"/>
<path fill="rgb(251,113,0)" fill-rule="evenodd" d="M430.1 53.6 430.4 54.4 431.1 55.1 432.4 55.6 434.1 55.6 434.4 55.4 434.9 55.4 435.4 55.1 436.1 54.1 436.1 53.4 435.4 52.6 434.4 52.1 432.1 52.1 431.9 52.4 431.4 52.4 430.9 52.6Z"/>
<path fill="rgb(242,77,0)" fill-rule="evenodd" d="M430.4 53.4 430.4 54.1 431.4 55.1 431.9 55.1 432.1 55.4 434.1 55.4 435.6 54.6 435.9 54.1 435.9 53.4 435.1 52.6 433.9 52.4 433.6 52.1 431.6 52.4Z"/>
<path fill="rgb(232,37,0)" fill-rule="evenodd" d="M430.6 53.4 430.6 54.1 431.9 55.1 434.4 55.1 435.6 54.1 435.6 53.4 434.9 52.6 434.4 52.6 434.1 52.4 432.1 52.4 431.9 52.6 431.4 52.6Z"/>
<path fill="rgb(212,24,0)" fill-rule="evenodd" d="M430.9 53.4 430.9 54.1 431.6 54.9 432.4 54.9 432.6 55.1 434.4 54.9 435.4 54.1 435.4 53.4 434.9 52.9 433.6 52.4 431.6 52.6Z"/>
<path fill="rgb(185,15,0)" fill-rule="evenodd" d="M431.1 53.4 431.1 54.1 432.1 54.9 433.9 54.9 434.1 54.6 434.6 54.6 435.1 54.1 435.1 53.4 434.6 52.9 434.1 52.9 433.9 52.6 432.1 52.6Z"/>
<path fill="rgb(155,5,0)" fill-rule="evenodd" d="M431.4 53.4 431.4 54.1 432.1 54.6 433.9 54.6 434.9 53.9 434.1 52.9 432.1 52.9Z"/>
<path fill="rgb(16,18,149)" fill-rule="evenodd" d="M477.9 40.9 477.9 42.1 478.9 43.6 481.2 44.9 483.2 45.1 483.4 45.4 486.7 45.4 486.9 45.1 487.9 45.1 488.2 44.9 489.4 44.6 490.4 44.1 491.7 42.9 492.2 41.6 491.7 40.1 490.4 38.9 489.4 38.4 488.9 38.4 487.9 37.9 486.9 37.9 486.7 37.6 483.4 37.6 483.2 37.9 481.2 38.1 478.9 39.4Z"/>
<path fill="rgb(20,28,188)" fill-rule="evenodd" d="M478.4 40.9 478.4 42.1 479.9 43.9 481.4 44.6 483.4 44.9 483.7 45.1 486.4 45.1 486.7 44.9 487.7 44.9 487.9 44.6 489.2 44.4 491.2 42.9 491.7 41.6 491.2 40.1 490.4 39.4 489.2 38.6 488.7 38.6 487.7 38.1 486.7 38.1 486.4 37.9 483.7 37.9 483.4 38.1 481.4 38.4 479.9 39.1Z"/>
<path fill="rgb(23,36,211)" fill-rule="evenodd" d="M478.9 40.9 478.9 42.1 480.2 43.6 480.9 44.1 481.4 44.1 482.4 44.6 483.4 44.6 483.7 44.9 486.4 44.9 486.7 44.6 488.4 44.4 489.9 43.6 490.9 42.6 490.9 42.1 491.2 41.9 490.9 40.4 489.9 39.4 488.4 38.6 486.7 38.4 486.4 38.1 483.7 38.1 483.4 38.4 482.4 38.4 482.2 38.6 480.9 38.9 480.2 39.4Z"/>
<path fill="rgb(25,45,224)" fill-rule="evenodd" d="M479.2 41.4 479.4 42.4 480.7 43.6 483.4 44.6 486.4 44.6 486.7 44.4 487.7 44.4 489.4 43.6 490.7 42.4 490.7 40.6 489.4 39.4 488.4 38.9 486.7 38.6 486.4 38.4 483.4 38.4 483.2 38.6 481.7 38.9 480.7 39.4 479.4 40.6 479.4 41.1Z"/>
<path fill="rgb(28,56,240)" fill-rule="evenodd" d="M479.7 40.9 479.7 42.1 480.4 43.1 481.7 43.9 483.2 44.1 483.4 44.4 486.7 44.4 486.9 44.1 487.7 44.1 489.4 43.4 490.4 42.1 490.4 40.9 489.4 39.6 486.7 38.6 483.4 38.6 483.2 38.9 482.4 38.9 480.4 39.9Z"/>
<path fill="rgb(34,79,251)" fill-rule="evenodd" d="M480.2 41.1 480.2 41.9 481.2 43.1 483.7 44.1 486.7 44.1 486.9 43.9 487.9 43.9 489.7 42.9 490.2 42.1 490.2 40.9 489.7 40.1 487.9 39.1 486.9 39.1 486.7 38.9 483.7 38.9 483.4 39.1 482.7 39.1 481.2 39.9Z"/>
<path fill="rgb(41,107,253)" fill-rule="evenodd" d="M480.9 40.9 480.9 42.1 481.9 43.1 483.2 43.6 483.9 43.6 484.2 43.9 487.2 43.9 488.9 43.1 489.9 42.1 489.9 40.9 488.9 39.9 487.2 39.1 484.2 39.1 483.9 39.4 483.2 39.4 481.9 39.9Z"/>
<path fill="rgb(47,129,254)" fill-rule="evenodd" d="M481.2 41.1 481.2 41.9 481.7 42.6 482.9 43.4 483.4 43.4 483.7 43.6 484.9 43.6 485.2 43.9 486.4 43.9 486.7 43.6 488.4 43.4 489.7 42.4 489.7 41.9 489.9 41.6 489.7 40.6 488.4 39.6 486.7 39.4 486.4 39.1 485.2 39.1 484.9 39.4 483.7 39.4 483.4 39.6 482.9 39.6 481.7 40.4Z"/>
<path fill="rgb(58,159,250)" fill-rule="evenodd" d="M481.7 41.1 481.7 41.9 482.2 42.6 482.9 43.1 483.4 43.1 484.4 43.6 487.4 43.6 488.7 43.1 489.7 42.1 489.7 40.9 488.7 39.9 487.4 39.4 484.4 39.4 484.2 39.6 482.9 39.9 482.2 40.4Z"/>
<path fill="rgb(73,196,240)" fill-rule="evenodd" d="M482.2 41.4 482.4 42.1 483.2 42.9 485.2 43.6 486.9 43.6 487.2 43.4 487.9 43.4 489.2 42.6 489.7 41.6 489.2 40.4 487.9 39.6 487.2 39.6 486.9 39.4 485.2 39.4 484.9 39.6 484.2 39.6 483.2 40.1Z"/>
<path fill="rgb(89,219,215)" fill-rule="evenodd" d="M482.7 41.1 482.9 42.4 483.9 43.1 484.4 43.1 484.7 43.4 487.4 43.4 488.7 42.9 489.4 41.9 489.2 40.6 488.7 40.1 487.4 39.6 484.7 39.6 483.2 40.4Z"/>
<path fill="rgb(107,226,174)" fill-rule="evenodd" d="M482.9 41.1 483.2 42.4 485.2 43.4 487.2 43.4 487.4 43.1 487.9 43.1 488.4 42.9 489.4 41.6 489.2 40.9 488.4 40.1 487.2 39.6 485.2 39.6 484.9 39.9 484.4 39.9 483.4 40.4Z"/>
<path fill="rgb(128,235,127)" fill-rule="evenodd" d="M483.2 41.1 483.4 42.4 485.4 43.4 486.9 43.4 487.2 43.1 488.4 42.9 489.2 42.1 489.2 40.9 488.4 40.1 487.9 40.1 486.9 39.6 485.4 39.6 485.2 39.9 484.7 39.9 483.7 40.4Z"/>
<path fill="rgb(148,240,92)" fill-rule="evenodd" d="M483.4 40.9 483.4 42.1 484.9 43.1 487.4 43.1 487.7 42.9 488.2 42.9 489.2 41.6 488.9 40.9 488.2 40.1 487.7 40.1 487.4 39.9 484.9 39.9Z"/>
<path fill="rgb(166,240,74)" fill-rule="evenodd" d="M483.4 41.4 483.7 42.1 485.2 43.1 487.2 43.1 488.4 42.6 488.9 42.1 488.9 40.9 488.4 40.4 487.2 39.9 485.2 39.9 484.2 40.4Z"/>
<path fill="rgb(189,240,51)" fill-rule="evenodd" d="M483.7 41.1 483.7 41.9 484.4 42.6 485.7 42.9 485.9 43.1 487.7 42.9 488.2 42.6 488.9 41.6 488.7 40.9 488.2 40.4 486.9 40.1 486.7 39.9 484.9 40.1Z"/>
<path fill="rgb(209,237,33)" fill-rule="evenodd" d="M483.9 41.1 483.9 41.9 485.2 42.9 487.4 42.9 488.7 41.9 488.7 41.1 487.4 40.1 485.2 40.1Z"/>
<path fill="rgb(227,230,20)" fill-rule="evenodd" d="M484.2 41.1 484.2 41.9 484.9 42.6 485.4 42.6 485.7 42.9 486.9 42.9 487.2 42.6 487.7 42.6 488.4 41.9 488.4 41.1 487.7 40.4 487.2 40.4 486.9 40.1 485.7 40.1 485.4 40.4 484.9 40.4Z"/>
<path fill="rgb(246,223,7)" fill-rule="evenodd" d="M484.4 41.1 484.4 41.9 485.4 42.6 487.4 42.6 488.2 42.1 488.4 41.6 488.2 40.9 487.4 40.4 485.4 40.4Z"/>
<path fill="rgb(255,205,0)" fill-rule="evenodd" d="M484.4 41.4 484.4 41.6 485.7 42.6 486.9 42.6 487.2 42.4 487.7 42.4 488.2 41.9 488.2 41.1 487.7 40.6 487.2 40.6 486.9 40.4 485.7 40.4Z"/>
<path fill="rgb(255,175,0)" fill-rule="evenodd" d="M486.4 40.4 486.2 40.6 485.4 40.6 484.7 41.4 485.4 42.4 486.2 42.4 486.4 42.6 486.7 42.4 487.4 42.4 487.9 41.9 487.9 41.1 487.4 40.6 486.7 40.6Z"/>
<path fill="rgb(255,145,0)" fill-rule="evenodd" d="M484.9 41.4 485.7 42.4 487.2 42.4 487.9 41.6 487.2 40.6 485.7 40.6Z"/>
<path fill="rgb(251,113,0)" fill-rule="evenodd" d="M485.2 41.1 485.2 41.9 485.9 42.4 486.9 42.4 487.7 41.9 487.7 41.1 486.9 40.6 485.9 40.6Z"/>
<path fill="rgb(242,77,0)" fill-rule="evenodd" d="M486.2 40.6 485.7 40.9 485.2 41.6 485.7 42.1 486.7 42.4 487.2 42.1 487.7 41.4 487.2 40.9Z"/>
<path fill="rgb(232,37,0)" fill-rule="evenodd" d="M485.4 41.1 485.4 41.9 485.7 42.1 487.2 42.1 487.4 41.9 487.4 41.1 487.2 40.9 485.7 40.9Z"/>
<path fill="rgb(212,24,0)" fill-rule="evenodd" d="M485.4 41.4 485.9 42.1 486.9 42.1 487.4 41.9 487.4 41.1 486.9 40.9 485.9 40.9Z"/>
<path fill="rgb(185,15,0)" fill-rule="evenodd" d="M485.7 41.1 485.7 41.9 486.2 42.1 486.9 42.1 487.4 41.6 486.9 40.9Z"/>
<path fill="rgb(155,5,0)" fill-rule="evenodd" d="M486.4 40.9 485.9 41.1 485.7 41.6 486.7 42.1 487.2 41.9 487.2 41.1Z"/>
<path fill="rgb(16,18,149)" fill-rule="evenodd" d="M27.3 134.4 27.3 142.2 27.8 142.2 29.6 142.9 30.6 142.9 30.8 143.2 31.8 143.2 32.1 143.4 33.6 143.4 33.8 143.7 36.1 143.9 37.8 144.9 39.6 146.7 41.3 147.7 43.3 147.7 43.6 147.4 44.1 147.4 44.8 146.9 47.3 144.2 48.8 143.4 50.1 143.4 50.3 143.2 52.8 142.9 56.3 141.4 57.6 140.2 58.1 139.2 58.1 137.9 57.8 137.4 55.6 135.4 54.6 135.2 53.8 134.7 52.3 134.4 52.1 134.2 49.6 133.9 49.3 133.7 47.6 133.7 47.3 133.4 43.8 133.2 43.6 132.9 36.8 132.7 36.6 132.9 33.6 132.9 33.3 133.2 31.8 133.2 31.6 133.4 30.6 133.4 30.3 133.7 29.6 133.7 29.3 133.9 28.6 133.9Z"/>
<path fill="rgb(20,28,188)" fill-rule="evenodd" d="M27.3 135.7 27.3 140.9 27.6 141.2 28.1 141.2 28.8 141.7 29.3 141.7 30.3 142.2 31.3 142.2 31.6 142.4 32.6 142.4 32.8 142.7 34.1 142.7 34.3 142.9 36.3 143.2 38.6 144.7 39.8 145.9 41.3 146.7 43.6 146.7 44.1 146.4 47.1 143.7 48.1 143.2 48.8 143.2 49.1 142.9 50.8 142.9 51.1 142.7 52.1 142.7 52.3 142.4 53.8 142.2 56.1 140.9 57.1 139.4 57.1 137.9 55.6 136.2 53.6 135.2 52.1 134.9 51.8 134.7 50.8 134.7 50.6 134.4 46.6 134.2 46.3 133.9 44.3 133.9 44.1 133.7 41.3 133.7 41.1 133.4 36.6 133.4 36.3 133.7 32.3 133.9 32.1 134.2 31.3 134.2 31.1 134.4 28.6 134.9Z"/>
<path fill="rgb(23,36,211)" fill-rule="evenodd" d="M27.3 137.2 27.3 139.4 28.6 140.4 31.1 141.4 36.3 142.4 37.3 142.9 40.1 145.2 42.1 145.9 44.1 145.4 45.8 143.9 47.6 142.9 48.1 142.9 48.3 142.7 49.8 142.7 50.1 142.4 51.6 142.4 51.8 142.2 52.6 142.2 52.8 141.9 54.1 141.7 55.8 140.4 56.3 139.7 56.3 138.9 56.6 138.7 56.1 137.4 55.1 136.4 52.1 135.2 51.3 135.2 51.1 134.9 49.3 134.9 49.1 134.7 42.8 134.4 42.6 134.2 36.3 134.2 36.1 134.4 34.1 134.4 33.8 134.7 32.8 134.7 32.6 134.9 31.6 134.9 31.3 135.2 30.1 135.4 28.1 136.4Z"/>
<path fill="rgb(25,45,224)" fill-rule="evenodd" d="M29.1 137.9 29.1 138.7 30.3 139.9 32.8 140.9 33.6 140.9 33.8 141.2 36.3 141.7 37.3 142.2 40.6 144.7 41.1 144.7 41.3 144.9 43.8 144.7 45.6 143.4 47.8 142.4 51.3 142.2 51.6 141.9 52.3 141.9 52.6 141.7 53.8 141.4 54.6 140.9 55.8 139.4 55.8 138.2 54.6 136.7 52.6 135.7 50.3 135.4 50.1 135.2 44.1 135.2 43.8 134.9 36.6 134.9 36.3 135.2 34.6 135.2 34.3 135.4 33.3 135.4 33.1 135.7 31.1 136.2 29.8 136.9Z"/>
<path fill="rgb(28,56,240)" fill-rule="evenodd" d="M55.3 139.2 55.3 138.4 54.8 137.4 53.8 136.7 52.1 135.9 51.3 135.9 51.1 135.7 49.1 135.7 48.8 135.4 47.8 135.4 47.6 135.7 38.1 135.7 37.8 135.9 36.3 135.9 36.1 136.2 34.1 136.4 32.6 137.2 31.8 137.9 31.8 138.4 32.3 139.2 34.3 140.2 35.1 140.2 35.8 140.7 36.3 140.7 37.8 141.7 39.3 143.2 40.8 143.9 43.6 143.9 45.3 143.2 45.8 142.7 46.3 142.7 47.3 142.2 52.3 141.7 54.3 140.7 55.1 139.9 55.1 139.4Z"/>
<path fill="rgb(34,79,251)" fill-rule="evenodd" d="M54.6 138.2 54.1 137.4 53.3 136.9 51.3 136.2 46.3 136.2 46.1 136.4 42.1 136.7 41.8 136.9 40.1 137.2 39.1 137.7 38.3 138.4 38.1 138.9 38.1 139.9 39.3 141.9 41.1 142.9 43.3 142.9 43.6 142.7 44.3 142.7 46.8 141.7 51.1 141.7 51.3 141.4 52.8 141.2 54.6 139.7Z"/>
<path fill="rgb(41,107,253)" fill-rule="evenodd" d="M54.1 138.2 53.1 137.2 51.8 136.7 51.1 136.7 50.8 136.4 47.1 136.7 46.8 136.9 45.1 137.2 44.8 137.4 43.3 137.7 41.8 138.4 41.3 138.4 40.1 139.7 40.1 140.7 41.1 141.7 41.8 141.7 42.1 141.9 44.8 141.7 45.1 141.4 46.1 141.4 46.3 141.2 50.8 141.4 51.1 141.2 52.1 141.2 53.1 140.7 54.1 139.7Z"/>
<path fill="rgb(47,129,254)" fill-rule="evenodd" d="M53.8 138.4 53.1 137.4 52.1 136.9 51.3 136.9 51.1 136.7 48.8 136.7 48.6 136.9 47.6 136.9 47.3 137.2 46.1 137.4 42.3 139.2 41.8 139.7 41.8 140.4 42.3 140.9 48.3 140.9 48.6 141.2 51.6 141.2 52.8 140.7 53.8 139.7Z"/>
<path fill="rgb(58,159,250)" fill-rule="evenodd" d="M44.6 139.2 44.6 139.9 47.3 140.4 48.3 140.9 50.6 141.2 50.8 140.9 51.8 140.9 52.8 140.4 53.6 139.7 53.6 138.4 53.1 137.7 51.3 136.9 48.8 136.9 46.3 137.9Z"/>
<path fill="rgb(73,196,240)" fill-rule="evenodd" d="M46.8 138.7 46.8 139.7 47.8 140.4 49.3 140.7 49.6 140.9 52.1 140.7 52.8 140.2 53.3 139.4 53.1 138.2 51.6 137.2 49.1 137.2 47.8 137.7 47.1 138.2Z"/>
<path fill="rgb(89,219,215)" fill-rule="evenodd" d="M47.3 138.9 47.6 139.7 48.1 140.2 49.3 140.7 51.6 140.7 53.1 139.4 52.8 138.2 51.6 137.4 49.1 137.4 48.1 137.9Z"/>
<path fill="rgb(107,226,174)" fill-rule="evenodd" d="M47.8 138.7 47.8 139.4 48.6 140.2 49.8 140.4 50.1 140.7 51.6 140.4 52.8 139.4 52.8 138.7 51.8 137.7 51.1 137.7 50.8 137.4 49.1 137.7Z"/>
<path fill="rgb(128,235,127)" fill-rule="evenodd" d="M48.3 138.4 48.3 139.7 49.6 140.4 51.3 140.4 52.6 139.4 52.6 138.7 51.3 137.7 49.6 137.7Z"/>
<path fill="rgb(148,240,92)" fill-rule="evenodd" d="M48.6 138.7 48.6 139.4 49.6 140.2 51.3 140.2 52.3 139.4 52.1 138.4 51.3 137.9 49.6 137.9Z"/>
<path fill="rgb(166,240,74)" fill-rule="evenodd" d="M49.1 138.7 49.1 139.4 49.6 139.9 50.1 139.9 50.3 140.2 51.8 139.7 52.1 139.2 51.8 138.4 51.3 138.2 49.6 138.2Z"/>
<path fill="rgb(189,240,51)" fill-rule="evenodd" d="M49.6 138.7 49.6 139.4 49.8 139.7 51.1 139.7 51.6 139.2 51.1 138.4 50.1 138.4Z"/>
<path fill="rgb(16,18,149)" fill-rule="evenodd" d="M86.4 132.2 86.1 132.4 84.6 132.7 83.1 133.4 82.6 133.9 82.6 155.9 82.9 156.2 83.1 157.4 84.1 159.2 85.9 160.7 86.4 160.7 86.6 160.9 91.9 160.9 93.1 160.4 94.6 158.9 95.4 157.4 95.6 155.9 95.9 155.7 95.9 154.7 96.1 154.4 96.1 152.9 96.4 152.7 96.4 141.2 96.6 140.9 96.6 139.4 96.9 139.2 96.9 138.2 96.6 137.9 96.6 135.9 95.9 134.2 93.9 132.7 92.1 132.4 91.9 132.2Z"/>
<path fill="rgb(20,28,188)" fill-rule="evenodd" d="M85.4 132.9 83.6 133.7 82.6 134.7 82.6 141.2 83.1 142.2 83.1 145.7 82.9 145.9 82.9 147.4 82.6 147.7 82.6 153.4 82.9 153.7 82.9 154.4 83.6 155.9 83.6 156.4 85.1 158.4 87.1 159.4 91.1 159.4 92.4 158.9 93.6 157.9 94.6 156.2 94.6 155.7 95.1 154.7 95.4 151.7 95.6 151.4 95.4 142.2 96.1 140.2 96.1 136.2 95.9 135.9 95.6 134.7 94.6 133.7 92.9 132.9 91.6 132.9 91.4 132.7 86.9 132.7 86.6 132.9Z"/>
<path fill="rgb(23,36,211)" fill-rule="evenodd" d="M85.9 133.2 83.9 133.9 82.6 135.4 82.6 140.2 83.9 141.9 83.9 142.4 84.1 142.7 84.1 144.2 83.9 144.4 83.9 145.4 83.6 145.7 83.6 146.4 83.1 147.7 83.1 148.9 82.9 149.2 82.9 152.4 83.1 152.7 83.4 154.4 84.4 156.4 85.6 157.7 87.1 158.4 90.4 158.4 92.1 157.7 93.6 156.2 94.6 153.7 94.6 152.7 94.9 152.4 94.9 147.9 94.6 147.7 94.4 142.7 95.6 140.2 95.6 139.4 95.9 139.2 95.6 135.7 94.6 134.2 93.9 133.7 93.4 133.7 92.4 133.2Z"/>
<path fill="rgb(25,45,224)" fill-rule="evenodd" d="M92.1 133.4 86.1 133.4 84.1 134.2 82.9 135.7 82.9 137.2 82.6 137.4 82.9 139.7 83.4 140.7 85.1 142.7 84.9 144.4 84.1 145.9 84.1 146.4 83.6 147.4 83.6 148.2 83.4 148.4 83.4 149.9 83.1 150.2 83.4 152.9 83.6 153.2 83.6 153.9 84.6 155.9 85.9 157.2 87.9 157.9 90.4 157.7 91.9 156.9 93.1 155.7 93.9 154.2 94.1 152.4 94.4 152.2 94.4 148.7 94.1 148.4 94.1 147.2 93.9 146.9 93.9 145.9 93.6 145.7 93.4 142.7 95.4 139.7 95.4 136.2 94.9 134.9 94.1 134.2Z"/>
<path fill="rgb(28,56,240)" fill-rule="evenodd" d="M92.1 133.7 86.1 133.7 84.1 134.4 83.1 135.9 83.1 139.4 83.6 140.4 86.4 142.7 86.4 143.2 85.6 144.2 85.1 145.4 84.6 145.9 84.6 146.4 83.9 147.9 83.9 148.7 83.6 148.9 83.6 152.7 83.9 152.9 83.9 153.7 85.1 155.9 86.4 156.9 87.6 157.2 87.9 157.4 90.4 157.2 91.4 156.7 92.9 155.2 93.9 152.7 93.9 148.4 93.6 148.2 93.6 147.4 93.4 147.2 93.1 145.9 92.1 143.9 92.1 142.7 93.4 141.4 93.6 141.4 94.9 139.9 94.9 139.4 95.1 139.2 95.1 136.4 94.6 135.2 93.6 134.2 93.1 134.2Z"/>
<path fill="rgb(34,79,251)" fill-rule="evenodd" d="M88.4 143.9 88.1 144.2 86.9 144.4 84.9 146.7 84.6 147.7 84.1 148.4 84.1 149.4 83.9 149.7 83.9 152.2 84.1 152.4 84.1 153.2 85.1 155.2 85.9 155.9 87.4 156.7 89.9 156.7 91.4 155.9 92.4 154.9 93.1 153.4 93.1 152.9 93.4 152.7 93.4 148.7 92.6 146.7 90.6 144.4ZM83.6 135.7 83.6 136.4 83.4 136.7 83.4 138.9 83.9 139.9 84.6 140.7 86.1 141.4 86.9 141.4 87.1 141.7 91.4 141.7 91.6 141.4 92.9 141.2 93.6 140.7 94.6 139.4 94.6 136.2 94.4 135.9 94.4 135.4 93.4 134.4 92.9 134.4 91.9 133.9 86.4 133.9 84.4 134.7Z"/>
<path fill="rgb(41,107,253)" fill-rule="evenodd" d="M87.9 144.9 86.6 145.4 85.1 147.2 84.4 148.9 84.1 151.4 84.4 151.7 84.4 152.7 85.1 154.4 86.6 155.9 88.9 156.4 90.9 155.7 92.1 154.4 93.1 151.9 93.1 149.7 92.1 146.9 90.6 145.4 89.4 144.9ZM83.9 136.2 83.9 139.2 84.9 140.4 86.1 140.9 86.9 140.9 87.1 141.2 91.1 141.2 91.4 140.9 92.9 140.7 93.6 140.2 94.4 138.9 94.4 136.9 94.1 136.7 94.1 135.9 93.9 135.4 92.6 134.4 91.9 134.4 91.6 134.2 86.4 134.2 84.6 134.9Z"/>
<path fill="rgb(47,129,254)" fill-rule="evenodd" d="M87.6 145.4 86.6 145.9 85.4 147.2 84.9 148.2 84.6 149.7 84.4 149.9 84.6 152.9 85.4 154.4 86.4 155.4 87.4 155.9 89.9 155.9 91.9 154.4 92.6 152.9 92.6 152.2 92.9 151.9 92.9 149.7 91.9 147.2 90.6 145.9 89.6 145.4ZM84.6 135.2 84.1 136.2 84.1 137.4 83.9 137.7 83.9 138.2 84.1 138.4 84.4 139.7 85.4 140.4 86.9 140.7 87.1 140.9 91.1 140.9 91.4 140.7 92.9 140.4 94.1 138.9 94.1 136.7 93.9 136.4 93.9 135.9 93.6 135.4 92.6 134.7 92.1 134.7 91.9 134.4 90.4 134.4 90.1 134.2 87.9 134.2 87.6 134.4 86.1 134.4Z"/>
<path fill="rgb(58,159,250)" fill-rule="evenodd" d="M87.9 145.7 86.4 146.4 85.4 147.7 84.6 149.7 84.6 151.9 84.9 152.2 84.9 152.9 86.1 154.9 87.4 155.7 89.6 155.7 90.6 155.2 91.9 153.9 92.6 151.9 92.6 149.7 91.9 147.7 90.9 146.4 89.4 145.7ZM84.4 135.9 84.1 138.4 84.4 138.7 84.4 139.2 85.9 140.4 86.6 140.4 86.9 140.7 91.4 140.7 93.1 139.9 93.9 138.9 93.9 136.7 93.6 136.4 93.6 135.9 93.1 135.2 92.1 134.7 91.4 134.7 91.1 134.4 86.9 134.4 86.6 134.7 85.4 134.9Z"/>
<path fill="rgb(73,196,240)" fill-rule="evenodd" d="M87.9 146.2 87.6 146.4 87.1 146.4 85.6 147.9 84.9 149.9 84.9 151.7 85.1 151.9 85.4 153.4 86.4 154.7 87.9 155.4 89.1 155.4 90.4 154.9 91.6 153.7 92.4 151.7 92.4 150.2 92.1 149.9 92.1 149.2 91.6 147.9 90.4 146.7 89.4 146.2ZM84.6 136.2 84.6 138.9 86.1 140.2 86.9 140.2 87.1 140.4 90.9 140.4 91.1 140.2 92.1 140.2 93.4 139.2 93.4 138.7 93.6 138.4 93.6 137.4 93.4 137.2 93.4 136.2 92.6 135.2 91.4 134.7 86.9 134.7 86.6 134.9 85.9 134.9 85.1 135.4Z"/>
<path fill="rgb(89,219,215)" fill-rule="evenodd" d="M87.6 146.7 85.9 148.2 85.4 149.2 85.4 149.9 85.1 150.2 85.4 152.7 86.1 153.9 87.4 154.9 89.6 154.9 91.4 153.4 91.9 152.4 91.9 151.2 92.1 150.9 91.9 150.4 91.9 149.4 91.4 148.2 90.1 146.9 89.6 146.7ZM84.9 136.4 84.9 138.7 85.4 139.4 86.4 139.9 87.1 139.9 87.4 140.2 90.9 140.2 91.1 139.9 92.4 139.7 93.1 138.9 93.1 136.4 92.1 135.2 91.6 135.2 91.4 134.9 86.6 134.9 85.6 135.4Z"/>
<path fill="rgb(107,226,174)" fill-rule="evenodd" d="M88.1 146.9 87.9 147.2 87.4 147.2 86.1 148.4 85.6 149.4 85.4 151.2 85.6 151.4 85.6 152.4 86.1 153.4 86.9 154.2 87.9 154.7 89.1 154.7 89.4 154.4 89.9 154.4 91.1 153.2 91.6 152.2 91.6 149.7 91.1 148.4 90.1 147.4 88.9 146.9ZM85.1 136.4 85.1 138.4 85.4 138.9 86.4 139.7 87.1 139.7 87.4 139.9 90.9 139.9 92.1 139.4 92.9 138.7 92.9 136.7 92.6 136.2 91.4 135.2 86.6 135.2 85.6 135.7Z"/>
<path fill="rgb(128,235,127)" fill-rule="evenodd" d="M87.9 147.4 86.1 148.9 86.1 149.4 85.9 149.7 85.9 152.2 86.4 153.2 87.1 153.9 87.6 154.2 89.6 154.2 90.9 152.9 91.4 151.9 91.4 149.9 90.9 148.7 89.9 147.7 89.4 147.4ZM85.1 136.9 85.6 138.7 86.1 139.2 87.4 139.7 90.6 139.7 90.9 139.4 91.6 139.4 92.6 138.2 92.6 137.2 92.1 135.9 90.1 135.2 87.6 135.2 87.4 135.4 86.6 135.4 85.6 135.9Z"/>
<path fill="rgb(148,240,92)" fill-rule="evenodd" d="M88.1 147.9 86.9 148.7 86.4 149.7 86.1 151.2 86.4 151.4 86.6 152.7 87.4 153.4 87.9 153.7 89.4 153.7 90.1 153.2 90.9 151.9 90.9 149.9 90.4 148.9 89.6 148.2ZM85.4 136.7 85.4 137.4 86.1 138.7 87.1 139.2 91.1 139.2 91.9 138.7 91.9 138.2 92.1 137.9 92.1 136.7 91.9 136.2 91.1 135.7 90.4 135.7 90.1 135.4 87.1 135.4 86.9 135.7 86.4 135.7Z"/>
<path fill="rgb(166,240,74)" fill-rule="evenodd" d="M88.1 148.7 87.6 148.9 86.9 149.9 86.9 151.9 87.4 152.7 87.9 152.9 89.4 152.9 90.1 152.2 90.1 151.7 90.4 151.4 90.4 150.2 89.1 148.7ZM85.6 136.7 85.9 137.9 86.4 138.4 87.6 138.9 90.4 138.9 91.4 138.4 91.9 137.4 91.9 136.9 91.1 135.9 89.4 135.7 89.1 135.4 86.9 135.7 85.9 136.2Z"/>
<path fill="rgb(189,240,51)" fill-rule="evenodd" d="M85.9 136.4 85.9 137.4 86.1 137.9 88.1 138.7 90.4 138.4 91.4 137.7 91.4 136.4 89.9 135.7 87.4 135.7Z"/>
<path fill="rgb(209,237,33)" fill-rule="evenodd" d="M85.9 136.9 86.4 137.9 87.6 138.4 89.4 138.4 89.6 138.2 90.4 138.2 91.1 137.7 91.1 136.4 89.1 135.7 86.9 135.9 86.4 136.2Z"/>
<path fill="rgb(227,230,20)" fill-rule="evenodd" d="M86.1 136.7 86.4 137.7 87.4 138.2 89.9 138.2 90.4 137.9 91.1 136.9 89.9 135.9 87.4 135.9 87.1 136.2 86.6 136.2Z"/>
<path fill="rgb(246,223,7)" fill-rule="evenodd" d="M86.4 136.7 86.4 137.4 87.9 138.2 90.1 137.9 90.9 137.2 90.6 136.4 89.4 135.9 87.6 135.9 87.4 136.2 86.9 136.2Z"/>
<path fill="rgb(255,205,0)" fill-rule="evenodd" d="M86.4 136.9 86.4 137.2 87.4 137.9 89.9 137.9 90.6 137.2 90.6 136.7 90.4 136.4 89.1 136.2 88.9 135.9 87.1 136.2Z"/>
<path fill="rgb(255,175,0)" fill-rule="evenodd" d="M86.6 136.9 86.6 137.2 87.6 137.9 89.4 137.9 90.4 137.4 90.4 136.7 89.6 136.2 87.6 136.2Z"/>
<path fill="rgb(255,145,0)" fill-rule="evenodd" d="M86.9 136.7 86.9 137.2 87.4 137.7 88.1 137.7 88.4 137.9 90.1 137.4 90.1 136.7 89.1 136.2 87.9 136.2Z"/>
<path fill="rgb(251,113,0)" fill-rule="evenodd" d="M87.1 137.4 87.6 137.7 89.4 137.7 89.9 137.4 90.1 136.9 89.6 136.4 87.6 136.4 87.1 136.7Z"/>
<path fill="rgb(242,77,0)" fill-rule="evenodd" d="M87.1 136.9 87.4 137.4 87.9 137.4 88.1 137.7 88.9 137.7 89.9 137.2 89.9 136.9 89.1 136.4 87.9 136.4Z"/>
<path fill="rgb(232,37,0)" fill-rule="evenodd" d="M87.6 136.7 87.6 137.2 87.9 137.4 89.1 137.4 89.6 136.9 89.4 136.7Z"/>
<path fill="rgb(212,24,0)" fill-rule="evenodd" d="M87.9 136.9 88.1 137.2 88.9 137.2 89.1 136.9Z"/>
<path fill="rgb(16,18,149)" fill-rule="evenodd" d="M150.6 140.7 149.6 141.7 149.4 143.2 149.1 143.4 149.1 144.7 149.4 144.9 149.4 145.7 149.9 146.4 154.6 150.9 155.6 152.4 162.4 159.9 163.4 160.4 164.9 160.2 165.6 159.2 165.9 157.7 166.1 157.4 166.1 155.7 166.4 155.4 166.6 151.9 166.9 151.7 166.9 148.9 167.1 148.7 167.1 140.9 166.4 139.2 164.6 137.7 164.1 137.7 163.9 137.4 162.6 137.4 159.9 138.4 159.1 138.4 158.9 138.7 157.1 138.9 156.1 139.4 155.4 139.4 154.4 139.9 152.1 140.2 151.9 140.4Z"/>
<path fill="rgb(20,28,188)" fill-rule="evenodd" d="M150.9 141.2 150.1 141.9 149.9 143.2 149.6 143.4 149.9 145.4 150.6 146.7 155.4 151.2 156.4 152.7 158.9 155.2 158.9 155.4 161.9 158.9 163.1 159.7 164.1 159.7 165.1 158.9 165.6 157.7 165.9 154.7 166.1 154.4 166.1 152.7 166.4 152.4 166.4 150.7 166.6 150.4 166.6 148.2 166.9 147.9 166.9 142.4 166.6 142.2 166.6 140.9 166.1 139.7 164.4 138.2 163.9 138.2 163.6 137.9 162.4 137.9 160.6 138.7 156.9 139.4 155.1 140.2 153.1 140.4 152.9 140.7 152.1 140.7Z"/>
<path fill="rgb(23,36,211)" fill-rule="evenodd" d="M151.4 141.4 150.6 142.2 150.1 143.2 150.1 144.7 151.1 146.7 154.6 149.7 156.1 151.7 159.4 155.2 160.4 156.7 162.4 158.7 162.9 158.9 164.1 158.9 164.6 158.7 165.4 156.9 165.6 153.7 165.9 153.4 165.9 151.9 166.1 151.7 166.1 150.2 166.4 149.9 166.4 148.2 166.6 147.9 166.6 143.4 166.4 143.2 166.4 141.4 165.6 139.7 164.9 138.9 163.9 138.4 162.1 138.4 159.4 139.4 158.6 139.4 158.4 139.7 156.6 139.9 154.9 140.7 152.6 140.9Z"/>
<path fill="rgb(25,45,224)" fill-rule="evenodd" d="M151.4 141.9 150.6 143.2 150.6 144.9 151.4 146.4 156.4 150.9 156.4 151.2 159.1 154.2 160.6 156.4 162.4 158.2 162.9 158.4 163.9 158.4 164.6 157.7 164.9 156.4 165.1 156.2 165.4 152.9 165.6 152.7 165.6 151.4 165.9 151.2 165.9 149.9 166.1 149.7 166.1 148.2 166.4 147.9 166.4 143.4 166.1 143.2 166.1 141.7 165.4 139.9 164.1 138.9 161.6 138.9 159.9 139.7 159.1 139.7 158.1 140.2 157.4 140.2 157.1 140.4 154.6 140.9 154.4 141.2 152.4 141.4Z"/>
<path fill="rgb(28,56,240)" fill-rule="evenodd" d="M152.1 141.9 151.1 142.9 151.1 143.4 150.9 143.7 150.9 144.4 151.6 146.2 153.1 147.7 156.1 149.7 157.9 151.4 159.9 154.4 160.1 155.2 162.4 157.7 162.9 157.7 163.1 157.9 163.9 157.7 164.4 157.2 164.6 155.9 164.9 155.7 165.1 151.9 165.4 151.7 165.6 149.7 165.9 149.4 165.9 148.4 166.1 148.2 166.1 143.4 165.9 143.2 165.9 141.9 165.6 141.7 165.6 141.2 164.9 139.9 163.6 139.2 162.1 139.2 161.9 139.4 161.1 139.4 157.1 140.9Z"/>
<path fill="rgb(34,79,251)" fill-rule="evenodd" d="M152.1 142.7 151.6 143.4 151.6 144.9 151.9 145.2 151.9 145.7 154.4 147.9 154.9 147.9 155.9 148.4 156.9 148.4 157.9 148.9 158.9 150.2 159.4 151.2 160.1 153.9 161.4 155.9 162.1 156.7 163.4 156.9 164.1 155.9 164.1 155.2 164.4 154.9 164.4 152.4 164.6 152.2 164.6 151.4 164.9 151.2 164.9 150.7 165.6 148.9 165.6 147.9 165.9 147.7 165.9 143.7 165.6 143.4 165.6 142.4 164.9 140.7 163.4 139.7 162.1 139.7 161.9 139.9 161.1 139.9 160.4 140.4 159.9 140.4 158.1 141.4 157.6 141.4 156.6 141.9 154.1 141.9Z"/>
<path fill="rgb(41,107,253)" fill-rule="evenodd" d="M152.9 142.9 152.4 143.4 152.4 143.9 152.1 144.2 152.4 145.4 153.9 146.9 154.9 147.4 157.4 147.4 157.9 147.7 159.1 148.9 160.1 150.9 161.1 154.4 162.1 155.7 162.9 155.9 163.6 154.9 163.6 151.7 165.4 148.7 165.4 147.7 165.6 147.4 165.6 143.9 165.4 143.7 165.4 142.7 164.6 141.2 163.4 140.2 161.9 140.2 159.6 141.2 157.6 142.9 155.9 142.9 155.6 142.7 153.6 142.7 153.4 142.9Z"/>
<path fill="rgb(47,129,254)" fill-rule="evenodd" d="M153.1 143.4 152.6 144.2 152.9 145.4 153.9 146.4 154.9 146.9 156.6 146.9 156.9 146.7 157.9 146.9 159.6 148.9 160.9 151.4 161.1 152.9 161.6 154.2 162.1 154.7 162.9 154.7 162.9 154.2 163.1 153.9 163.1 153.4 162.9 153.2 162.9 151.9 163.4 150.9 164.6 149.7 165.4 147.7 165.4 143.7 164.6 141.7 163.6 140.7 162.1 140.4 159.9 141.4 157.6 143.9 156.6 143.9 155.4 143.2 153.6 143.2Z"/>
<path fill="rgb(58,159,250)" fill-rule="evenodd" d="M153.4 144.2 153.4 145.2 154.4 146.2 156.4 146.2 157.4 145.4 159.1 147.4 160.1 149.4 161.6 151.4 162.1 151.4 163.1 150.4 163.4 150.4 164.9 148.7 165.1 146.9 165.4 146.7 165.4 144.7 165.1 144.4 165.1 143.4 164.4 141.7 163.4 140.9 161.4 140.9 160.4 141.4 158.9 142.9 158.1 144.4 157.4 145.2 156.9 145.2 155.9 144.2 154.9 143.7 154.1 143.7Z"/>
<path fill="rgb(73,196,240)" fill-rule="evenodd" d="M162.9 141.2 161.9 141.2 160.4 141.9 159.1 143.4 158.6 144.7 158.6 145.4 159.6 147.7 160.1 148.2 160.4 148.9 161.6 150.2 162.4 150.2 163.4 149.7 164.6 148.4 164.9 146.9 165.1 146.7 165.1 144.7 164.9 144.4 164.9 143.4 164.1 141.9Z"/>
<path fill="rgb(89,219,215)" fill-rule="evenodd" d="M161.6 141.7 160.1 142.7 159.4 143.9 159.1 145.4 160.6 148.4 161.6 149.4 162.9 149.4 164.1 148.4 164.6 147.4 164.6 146.7 164.9 146.4 164.9 144.4 164.6 144.2 164.6 143.4 163.6 141.9 163.1 141.7Z"/>
<path fill="rgb(107,226,174)" fill-rule="evenodd" d="M162.1 141.9 161.9 142.2 161.4 142.2 160.4 142.9 159.6 144.2 159.6 145.7 161.1 148.4 161.9 148.9 162.9 148.9 163.9 148.2 164.4 147.2 164.4 146.4 164.6 146.2 164.6 143.9 163.6 142.4 162.6 141.9Z"/>
<path fill="rgb(128,235,127)" fill-rule="evenodd" d="M161.6 142.4 160.9 142.9 160.1 143.9 160.1 145.9 161.1 147.7 161.6 148.2 162.6 148.4 163.9 147.4 164.1 146.2 164.4 145.9 164.4 144.9 164.6 144.7 164.4 144.4 164.4 143.7 163.4 142.7 162.9 142.4Z"/>
<path fill="rgb(148,240,92)" fill-rule="evenodd" d="M161.9 142.9 161.4 143.2 160.6 144.2 160.6 145.7 161.9 147.4 162.9 147.4 163.6 146.7 164.4 145.2 164.4 143.9 163.4 142.9Z"/>
<path fill="rgb(166,240,74)" fill-rule="evenodd" d="M163.6 143.2 162.1 143.2 161.6 143.4 161.1 144.2 161.1 145.2 161.4 145.7 162.4 146.4 163.4 146.2 164.1 145.4 164.4 144.4 164.1 144.2 164.1 143.7Z"/>
<path fill="rgb(189,240,51)" fill-rule="evenodd" d="M162.6 143.2 161.6 143.9 161.6 145.2 162.1 145.7 163.1 145.9 164.1 145.2 164.1 143.9 163.6 143.4Z"/>
<path fill="rgb(209,237,33)" fill-rule="evenodd" d="M162.4 143.4 161.6 144.4 161.9 144.7 161.9 145.2 162.4 145.7 163.4 145.7 164.1 144.9 164.1 144.2 163.4 143.4Z"/>
<path fill="rgb(227,230,20)" fill-rule="evenodd" d="M163.1 143.4 162.6 143.4 161.9 144.2 161.9 144.9 162.9 145.7 163.9 145.2 163.9 143.9Z"/>
<path fill="rgb(246,223,7)" fill-rule="evenodd" d="M162.4 143.7 162.1 143.9 162.1 144.9 162.6 145.4 163.4 145.4 163.9 144.9 163.9 144.2 163.4 143.7Z"/>
<path fill="rgb(255,205,0)" fill-rule="evenodd" d="M162.6 143.7 162.1 144.2 162.1 144.7 162.4 145.2 163.1 145.4 163.6 144.9 163.6 143.9Z"/>
<path fill="rgb(255,175,0)" fill-rule="evenodd" d="M162.6 143.9 162.4 144.2 162.4 144.9 162.6 145.2 163.4 145.2 163.6 144.9 163.6 144.2 163.4 143.9Z"/>
<path fill="rgb(255,145,0)" fill-rule="evenodd" d="M162.9 143.9 162.4 144.7 162.6 144.9 163.4 144.9 163.4 144.2Z"/>
<path fill="rgb(251,113,0)" fill-rule="evenodd" d="M163.1 144.2 162.6 144.4 162.9 144.9 163.1 144.7Z"/>
<path fill="rgb(16,18,149)" fill-rule="evenodd" d="M204.9 134.7 203.1 135.4 201.6 136.9 200.4 139.4 200.4 140.2 199.9 141.4 199.6 144.4 199.4 144.7 199.4 153.4 199.6 153.7 199.9 156.9 200.1 157.2 200.1 157.9 200.4 158.2 200.6 159.4 201.4 160.9 210.9 160.9 212.1 157.9 212.4 155.9 212.6 155.7 212.6 154.2 212.9 153.9 212.9 144.7 212.6 144.4 212.4 141.4 212.1 141.2 212.1 140.4 211.9 140.2 211.6 138.9 210.6 136.9 208.9 135.2 207.6 134.7Z"/>
<path fill="rgb(20,28,188)" fill-rule="evenodd" d="M205.4 135.7 205.1 135.9 203.9 136.2 202.4 137.4 201.1 139.7 201.1 140.2 200.6 141.2 200.4 143.2 200.1 143.4 200.1 145.4 199.9 145.7 199.9 152.9 200.1 153.2 200.1 154.9 200.4 155.2 200.4 156.2 200.6 156.4 200.6 157.2 200.9 157.4 201.1 158.7 201.9 160.2 202.6 160.9 209.9 160.9 211.1 158.9 211.1 158.4 211.9 156.7 212.1 154.2 212.4 153.9 212.6 147.9 212.4 147.7 212.4 144.7 212.1 144.4 212.1 143.2 211.9 142.9 211.9 141.9 211.6 141.7 211.4 140.2 210.1 137.7 208.9 136.4 207.9 135.9 207.4 135.9 207.1 135.7Z"/>
<path fill="rgb(23,36,211)" fill-rule="evenodd" d="M205.1 136.7 203.9 137.2 202.4 138.7 201.4 140.7 200.9 143.2 200.6 143.4 200.6 145.2 200.4 145.4 200.4 153.2 200.6 153.4 200.6 154.9 200.9 155.2 201.4 157.7 202.4 159.7 203.6 160.9 208.9 160.9 209.9 159.9 210.9 158.2 210.9 157.7 211.4 156.7 211.4 155.9 211.6 155.7 211.6 154.7 211.9 154.4 211.9 152.9 212.1 152.7 212.1 145.9 211.9 145.7 211.9 144.2 211.6 143.9 211.6 142.9 211.4 142.7 211.1 140.9 209.9 138.4 208.6 137.2 207.6 136.7Z"/>
<path fill="rgb(25,45,224)" fill-rule="evenodd" d="M205.4 137.4 204.1 137.9 202.6 139.4 201.6 141.4 201.6 142.2 201.1 143.4 201.1 144.4 200.9 144.7 200.9 146.9 200.6 147.2 200.6 151.7 200.9 151.9 200.9 153.9 201.1 154.2 201.4 156.2 202.1 157.7 202.1 158.2 203.1 159.7 204.9 160.9 207.9 160.9 209.6 159.4 210.6 157.7 210.6 157.2 211.1 156.2 211.4 154.2 211.6 153.9 211.6 152.2 211.9 151.9 211.9 146.7 211.6 146.4 211.6 144.7 211.4 144.4 211.1 142.4 209.9 139.4 208.1 137.7 207.6 137.7 207.4 137.4Z"/>
<path fill="rgb(28,56,240)" fill-rule="evenodd" d="M206.6 137.9 206.1 138.2 205.1 138.2 204.1 138.7 203.1 139.7 202.1 141.4 202.1 141.9 201.6 142.9 201.6 143.7 201.4 143.9 201.4 145.2 201.1 145.4 201.1 153.2 201.4 153.4 201.6 155.7 202.9 158.4 203.6 159.4 204.6 160.2 205.1 160.2 205.4 160.4 207.4 160.4 208.4 159.9 209.6 158.7 210.9 155.9 211.1 153.9 211.4 153.7 211.4 151.9 211.6 151.7 211.6 147.2 211.4 146.9 211.4 144.9 211.1 144.7 211.1 143.7 210.9 143.4 210.6 141.9 209.6 139.9 208.1 138.4 206.9 138.2Z"/>
<path fill="rgb(34,79,251)" fill-rule="evenodd" d="M205.6 138.9 204.6 139.4 203.1 140.9 202.4 142.4 202.1 143.9 201.9 144.2 201.9 145.2 201.6 145.4 201.4 150.9 201.6 151.2 201.6 153.2 201.9 153.4 202.1 155.4 203.1 157.7 204.6 159.2 205.9 159.7 207.1 159.7 208.1 159.2 209.4 157.9 210.4 155.9 210.6 154.4 210.9 154.2 210.9 152.9 211.1 152.7 211.1 149.9 211.4 149.7 211.4 148.9 211.1 148.7 211.1 145.7 210.9 145.4 210.9 144.4 210.6 144.2 210.6 143.4 209.9 141.9 209.9 141.4 208.9 139.9 207.9 139.2 207.4 139.2 207.1 138.9Z"/>
<path fill="rgb(41,107,253)" fill-rule="evenodd" d="M205.9 139.7 205.6 139.9 205.1 139.9 204.1 140.7 203.4 141.7 202.4 144.2 202.1 146.7 201.9 146.9 201.9 151.9 202.1 152.2 202.1 153.4 202.4 153.7 202.6 155.4 203.9 157.7 205.1 158.7 205.6 158.7 205.9 158.9 207.1 158.9 208.1 158.4 209.1 157.4 210.4 154.7 210.6 152.7 210.9 152.4 210.9 146.2 210.6 145.9 210.6 144.9 210.4 144.7 210.4 143.9 210.1 143.7 209.9 142.4 209.1 141.2 207.9 139.9 207.4 139.9 207.1 139.7Z"/>
<path fill="rgb(47,129,254)" fill-rule="evenodd" d="M205.9 140.2 204.9 140.7 203.9 141.7 203.1 142.9 203.1 143.4 202.6 144.4 202.4 146.7 202.1 146.9 202.1 151.7 202.4 151.9 202.6 154.4 203.6 156.7 205.1 158.2 205.6 158.2 205.9 158.4 207.1 158.4 208.1 157.9 209.1 156.9 209.9 155.4 209.9 154.9 210.4 153.9 210.4 152.9 210.6 152.7 210.9 147.9 210.6 147.7 210.6 145.7 210.4 145.4 210.1 143.7 209.1 141.7 207.4 140.2Z"/>
<path fill="rgb(58,159,250)" fill-rule="evenodd" d="M205.6 140.7 204.1 141.9 202.9 144.4 202.6 146.9 202.4 147.2 202.4 151.7 202.6 151.9 202.9 154.2 203.9 156.4 205.1 157.7 205.6 157.7 205.9 157.9 207.4 157.9 209.1 156.4 210.4 153.2 210.4 151.9 210.6 151.7 210.6 146.9 210.4 146.7 210.4 145.4 210.1 145.2 209.9 143.7 208.6 141.4 207.6 140.7Z"/>
<path fill="rgb(73,196,240)" fill-rule="evenodd" d="M206.1 141.2 205.1 141.7 203.6 143.7 203.6 144.2 203.1 145.2 203.1 145.9 202.9 146.2 202.6 150.2 202.9 150.4 202.9 152.4 203.1 152.7 203.4 154.4 203.9 155.4 205.1 156.9 206.4 157.4 207.1 157.4 208.6 156.4 209.9 153.9 210.1 151.9 210.4 151.7 210.4 146.7 210.1 146.4 209.9 144.4 208.9 142.4 207.4 141.2Z"/>
<path fill="rgb(89,219,215)" fill-rule="evenodd" d="M206.1 141.7 204.6 142.9 203.9 144.2 203.9 144.7 203.4 145.7 203.4 146.7 203.1 146.9 203.1 151.7 203.4 151.9 203.4 152.9 204.4 155.4 205.9 156.7 207.6 156.7 208.9 155.4 209.9 153.2 209.9 152.2 210.1 151.9 210.1 146.4 209.9 146.2 209.6 144.4 208.9 142.9 207.4 141.7Z"/>
<path fill="rgb(107,226,174)" fill-rule="evenodd" d="M206.4 142.2 205.1 142.9 203.9 145.2 203.6 147.4 203.4 147.7 203.4 150.9 203.6 151.2 203.9 153.4 204.6 154.9 206.1 156.2 207.6 156.2 208.9 154.9 209.6 153.2 209.9 150.7 210.1 150.4 210.1 147.9 209.9 147.7 209.6 145.2 208.9 143.4 207.9 142.4 207.4 142.2Z"/>
<path fill="rgb(128,235,127)" fill-rule="evenodd" d="M207.6 142.7 206.1 142.7 204.9 143.9 203.9 146.4 203.9 148.2 203.6 148.4 203.6 150.2 203.9 150.4 203.9 151.9 204.1 152.2 204.4 153.7 205.6 155.4 206.9 155.9 207.1 155.7 207.6 155.7 208.9 154.4 209.6 152.4 209.6 151.4 209.9 151.2 209.9 147.2 209.6 146.9 209.6 145.9 208.9 143.9Z"/>
<path fill="rgb(148,240,92)" fill-rule="evenodd" d="M206.4 143.2 205.4 143.9 204.4 146.2 204.4 146.9 204.1 147.2 204.1 151.2 204.4 151.4 204.4 152.4 205.4 154.4 206.4 155.2 207.4 155.2 208.6 154.2 209.4 152.4 209.4 151.4 209.6 151.2 209.6 147.2 209.4 146.9 209.4 145.9 208.6 144.2 207.6 143.2Z"/>
<path fill="rgb(166,240,74)" fill-rule="evenodd" d="M206.4 143.7 205.4 144.7 204.6 146.4 204.6 147.7 204.4 147.9 204.4 150.4 204.6 150.7 204.6 151.9 205.4 153.7 206.1 154.4 207.4 154.7 208.4 153.9 209.1 152.2 209.1 151.4 209.4 151.2 209.4 146.9 208.4 144.4 207.4 143.7Z"/>
<path fill="rgb(189,240,51)" fill-rule="evenodd" d="M207.6 144.4 206.6 144.4 205.6 145.4 205.1 146.7 205.1 147.4 204.9 147.7 204.9 150.7 205.1 150.9 205.1 151.7 205.6 152.9 206.9 153.9 207.6 153.7 208.4 152.9 209.1 150.9 209.1 147.2 208.4 145.2Z"/>
<path fill="rgb(209,237,33)" fill-rule="evenodd" d="M206.6 145.2 206.1 145.7 205.4 147.7 205.4 150.7 205.6 150.9 205.9 152.2 206.6 152.9 207.4 153.2 207.9 152.9 208.6 151.9 208.6 151.4 208.9 151.2 208.9 149.9 209.1 149.7 209.1 148.4 208.9 148.2 208.9 146.9 207.9 145.2Z"/>
<path fill="rgb(227,230,20)" fill-rule="evenodd" d="M207.1 145.7 206.4 146.4 206.4 146.9 206.1 147.2 206.1 147.9 205.9 148.2 205.9 149.9 206.1 150.2 206.4 151.7 207.1 152.4 207.6 152.4 208.1 152.2 208.6 151.2 208.6 150.4 208.9 150.2 208.9 147.9 208.1 145.9 207.9 145.7Z"/>
<path fill="rgb(246,223,7)" fill-rule="evenodd" d="M207.4 145.9 206.6 146.7 206.6 147.2 206.4 147.4 206.4 150.7 206.6 150.9 206.6 151.4 207.1 151.9 207.9 151.9 208.4 151.4 208.4 150.9 208.6 150.7 208.6 147.4 208.4 147.2 208.4 146.7Z"/>
<path fill="rgb(255,205,0)" fill-rule="evenodd" d="M207.1 146.4 206.6 147.2 206.6 147.9 206.4 148.2 206.4 149.9 206.6 150.2 206.9 151.4 207.1 151.7 207.9 151.7 208.6 150.2 208.6 147.9 208.1 146.7 207.9 146.4Z"/>
<path fill="rgb(255,175,0)" fill-rule="evenodd" d="M207.1 146.7 206.6 147.7 206.6 150.2 206.9 150.4 206.9 150.9 207.4 151.4 207.9 151.4 208.4 150.7 208.6 148.7 208.4 148.4 208.4 147.4 207.9 146.7Z"/>
<path fill="rgb(255,145,0)" fill-rule="evenodd" d="M207.4 146.9 206.9 147.4 206.6 149.7 207.1 150.9 207.4 151.2 207.9 151.2 208.4 150.2 208.4 147.9 208.1 147.7 208.1 147.2 207.9 146.9Z"/>
<path fill="rgb(251,113,0)" fill-rule="evenodd" d="M207.9 147.2 207.4 147.2 206.9 147.9 206.9 150.2 207.4 150.9 208.1 150.4 208.1 149.9 208.4 149.7 208.4 148.4Z"/>
<path fill="rgb(242,77,0)" fill-rule="evenodd" d="M207.9 147.4 207.4 147.4 206.9 148.4 206.9 149.7 207.4 150.7 208.1 150.2 208.1 147.9Z"/>
<path fill="rgb(232,37,0)" fill-rule="evenodd" d="M207.4 147.7 207.1 148.2 207.1 149.9 207.6 150.4 208.1 149.4 208.1 148.4 207.9 147.9Z"/>
<path fill="rgb(212,24,0)" fill-rule="evenodd" d="M207.4 148.2 207.4 149.7 207.6 149.9 207.9 149.4 207.9 148.4Z"/>
<path fill="rgb(16,18,149)" fill-rule="evenodd" d="M338.2 126.7 337.7 126.4 335.9 126.4 334.7 127.2 332.7 129.4 330.2 133.9 330.2 134.4 329.7 135.2 329.7 135.7 328.9 137.4 328.4 139.9 328.2 140.2 328.2 141.2 327.9 141.4 327.9 142.4 327.7 142.7 327.7 143.7 327.4 143.9 327.4 145.7 327.2 145.9 327.2 148.7 326.7 149.9 325.2 150.9 324.4 150.9 324.2 151.2 321.7 151.2 321.4 151.4 318.2 151.4 317.9 151.2 317.2 151.2 316.4 150.4 316.4 149.4 317.2 147.9 317.2 147.4 317.9 145.7 317.9 144.9 318.4 143.9 318.7 141.9 318.9 141.7 318.9 140.7 319.2 140.4 319.2 139.2 319.4 138.9 319.4 134.4 319.2 134.2 319.2 133.2 318.9 132.9 318.7 131.7 317.7 129.7 316.2 127.9 314.2 126.9 312.4 126.9 310.9 127.7 309.4 129.2 308.2 131.4 308.2 131.9 307.7 132.9 307.7 133.7 307.4 133.9 307.4 135.7 307.2 135.9 307.4 139.9 307.7 140.2 307.9 142.7 308.2 142.9 308.2 143.7 308.4 143.9 308.4 144.7 308.7 144.9 308.7 145.7 308.9 145.9 309.4 147.9 310.4 149.9 312.4 152.9 313.4 153.9 314.9 154.7 316.9 154.9 317.2 155.2 318.4 155.2 318.7 155.4 319.9 155.4 320.2 155.7 322.9 155.7 323.2 155.9 324.9 155.9 325.2 156.2 325.9 156.2 326.9 156.7 327.9 157.7 328.9 159.7 330.2 160.9 334.9 160.9 335.4 160.4 336.9 157.9 336.9 157.4 337.4 156.7 337.4 156.2 337.9 155.4 337.9 154.9 338.7 153.2 338.7 152.4 338.9 152.2 338.9 151.4 339.2 151.2 339.2 150.4 339.4 150.2 339.4 149.4 339.9 148.2 339.9 147.2 340.2 146.9 340.4 143.9 340.7 143.7 340.7 141.9 340.9 141.7 340.9 133.9 340.7 133.7 340.7 132.4 340.4 132.2 340.4 131.2 340.2 130.9 339.9 129.4 339.2 127.9Z"/>
<path fill="rgb(20,28,188)" fill-rule="evenodd" d="M312.7 127.9 311.4 128.4 309.7 130.2 308.7 132.2 308.7 132.7 308.2 133.7 308.2 134.9 307.9 135.2 307.9 139.2 308.2 139.4 308.2 140.9 308.4 141.2 308.4 142.2 308.7 142.4 308.9 144.2 309.2 144.4 309.7 146.4 310.9 148.9 312.4 150.4 313.4 150.9 314.2 150.9 315.7 148.9 316.9 146.4 316.9 145.9 317.9 143.4 318.2 141.4 318.4 141.2 318.4 140.2 318.7 139.9 318.7 134.4 318.4 134.2 318.2 132.4 316.7 129.7 315.7 128.7 314.2 127.9ZM337.7 127.9 336.4 127.7 336.2 127.9 335.7 127.9 334.7 128.7 332.7 131.2 330.7 134.9 330.7 135.4 330.2 136.2 330.2 136.7 329.4 138.4 329.4 139.2 328.9 140.2 328.9 141.2 328.7 141.4 328.7 142.4 328.4 142.7 328.4 143.7 328.2 143.9 328.2 145.7 327.9 145.9 327.9 148.9 327.4 150.2 326.2 151.2 324.4 151.4 324.2 151.7 321.4 151.7 321.2 151.9 315.4 151.9 315.2 151.7 314.7 151.7 314.4 151.9 314.4 152.9 315.2 153.7 317.9 154.7 318.9 154.7 319.2 154.9 320.2 154.9 320.4 155.2 324.9 155.4 325.2 155.7 326.9 155.9 328.4 156.7 330.9 159.4 332.7 160.4 334.2 160.4 335.2 159.7 335.9 158.7 337.2 156.2 337.2 155.7 338.4 152.4 338.4 151.7 338.7 151.4 338.7 150.7 339.2 149.4 339.2 148.4 339.4 148.2 339.7 145.4 339.9 145.2 340.2 140.4 340.4 140.2 340.4 136.7 340.2 136.4 340.2 133.9 339.9 133.7 339.9 132.7 339.7 132.4 339.4 130.7 338.4 128.7Z"/>
<path fill="rgb(23,36,211)" fill-rule="evenodd" d="M337.2 128.9 336.2 128.9 334.9 129.7 332.2 133.7 331.7 134.7 331.7 135.2 330.9 136.4 330.9 136.9 330.4 137.7 330.2 139.2 329.7 140.2 329.4 142.2 329.2 142.4 329.2 143.4 328.9 143.7 328.9 145.4 328.7 145.7 328.7 149.2 328.2 150.4 326.9 151.4 326.4 151.4 325.4 151.9 324.7 151.9 324.4 152.2 322.7 152.2 322.4 152.4 320.9 152.4 320.7 152.7 319.4 152.7 319.2 152.9 318.7 152.9 318.2 153.4 318.4 153.7 320.4 154.4 323.4 154.7 323.7 154.9 325.2 154.9 325.4 155.2 326.2 155.2 326.4 155.4 327.2 155.4 327.4 155.7 328.7 155.9 329.7 156.4 332.9 159.4 334.2 159.4 335.7 158.2 337.2 155.2 337.2 154.7 337.9 152.9 337.9 152.2 338.4 151.2 338.4 150.2 338.7 149.9 338.9 147.7 339.2 147.4 339.2 146.2 339.4 145.9 339.4 144.4 339.7 144.2 339.7 141.4 339.9 141.2 339.9 136.9 339.7 136.7 339.7 134.4 339.4 134.2 339.4 133.2 339.2 132.9 339.2 132.2 338.4 130.2ZM312.4 128.9 311.4 129.4 310.4 130.4 309.2 132.7 308.9 134.2 308.7 134.4 308.7 135.7 308.4 135.9 308.4 138.9 308.7 139.2 308.7 140.7 308.9 140.9 309.2 142.9 309.4 143.2 309.9 145.2 310.9 147.2 312.2 148.7 312.7 148.9 313.9 148.9 315.4 147.7 316.7 145.2 316.7 144.7 317.7 142.2 317.9 139.7 318.2 139.4 318.2 135.2 317.9 134.9 317.9 133.9 317.7 133.7 317.4 132.4 316.7 130.9 315.2 129.4 314.2 128.9Z"/>
<path fill="rgb(25,45,224)" fill-rule="evenodd" d="M337.2 129.9 335.9 129.9 334.2 131.7 331.4 137.2 331.4 137.7 330.4 140.2 330.2 142.2 329.9 142.4 329.9 143.4 329.7 143.7 329.7 145.2 329.4 145.4 329.4 149.7 329.2 149.9 329.2 150.4 328.2 151.4 326.7 152.2 325.4 152.4 323.9 153.4 324.2 153.9 325.2 154.4 327.7 154.9 327.9 155.2 329.4 155.4 330.7 155.9 331.9 157.2 331.9 157.4 333.4 158.7 334.7 158.4 335.7 157.4 336.9 154.9 336.9 154.4 337.4 153.7 337.4 152.9 337.9 151.9 338.2 150.2 338.4 149.9 338.7 147.4 338.9 147.2 338.9 145.9 339.2 145.7 339.2 143.7 339.4 143.4 339.4 135.9 339.2 135.7 339.2 134.2 338.9 133.9 338.9 133.2 338.7 132.9 338.4 131.7 337.9 130.7ZM313.2 129.7 311.2 130.7 309.7 133.2 309.7 133.7 309.2 134.7 309.2 136.2 308.9 136.4 308.9 138.7 309.2 138.9 309.4 141.7 309.7 141.9 310.2 143.9 310.7 144.7 310.7 145.2 311.9 146.9 312.7 147.4 313.9 147.4 314.4 147.2 315.7 145.7 317.2 141.9 317.4 139.7 317.7 139.4 317.7 135.7 317.4 135.4 317.4 134.4 317.2 134.2 316.9 132.9 315.9 131.2 314.9 130.2Z"/>
<path fill="rgb(28,56,240)" fill-rule="evenodd" d="M312.9 130.7 311.9 131.2 310.9 132.2 309.9 134.2 309.4 138.2 309.7 138.4 309.9 141.4 310.9 143.9 312.4 145.7 313.7 145.9 315.4 144.4 316.2 142.9 316.2 142.4 316.9 140.7 316.9 139.4 317.2 139.2 317.2 136.2 316.9 135.9 316.7 133.9 315.9 132.4 314.4 130.9ZM336.9 130.4 336.2 130.4 334.2 132.7 332.4 136.4 332.4 136.9 331.4 139.4 331.4 140.2 331.2 140.4 331.2 141.2 330.7 142.4 330.7 143.7 330.4 143.9 330.4 145.9 330.2 146.2 330.2 150.4 329.2 151.7 326.9 152.7 326.4 153.2 326.4 153.7 327.7 154.4 330.9 155.2 332.4 156.7 332.4 156.9 333.7 157.9 334.7 157.7 335.7 156.7 336.4 155.4 336.4 154.9 336.9 154.2 336.9 153.7 337.7 151.9 337.7 151.2 338.2 149.9 338.2 148.9 338.4 148.7 338.7 145.9 338.9 145.7 338.9 143.4 339.2 143.2 339.2 136.7 338.9 136.4 338.9 134.9 338.7 134.7 338.2 132.2Z"/>
<path fill="rgb(34,79,251)" fill-rule="evenodd" d="M312.7 132.4 311.7 133.2 310.7 135.2 310.7 135.9 310.4 136.2 310.4 139.4 311.4 142.2 312.4 143.2 313.7 143.4 315.2 142.2 315.9 140.7 315.9 139.9 316.2 139.7 316.2 135.9 315.2 133.4 313.9 132.4ZM336.4 130.9 335.9 131.2 333.4 135.7 333.4 136.2 332.4 138.7 332.4 139.4 332.2 139.7 332.2 140.7 331.9 140.9 331.9 141.9 331.7 142.2 331.7 143.7 331.4 143.9 331.4 147.2 331.2 147.4 331.2 147.9 331.4 148.2 331.4 150.7 331.2 150.9 331.2 151.9 330.7 152.7 330.7 153.2 332.7 155.9 333.9 156.9 334.7 156.7 335.7 155.7 336.9 153.2 337.2 151.7 337.7 150.7 337.7 149.7 337.9 149.4 337.9 148.4 338.2 148.2 338.2 147.2 338.4 146.9 338.4 145.2 338.7 144.9 338.7 141.7 338.9 141.4 338.7 136.2 338.4 135.9 338.4 134.7 338.2 134.4 338.2 133.7 337.9 133.4 337.4 131.7Z"/>
<path fill="rgb(41,107,253)" fill-rule="evenodd" d="M312.7 134.9 311.9 135.9 311.9 136.4 311.7 136.7 311.7 138.7 312.4 140.2 313.7 140.4 314.2 140.2 314.9 139.2 314.9 136.4 313.9 134.9ZM336.7 131.4 336.2 131.4 335.7 131.9 335.2 132.9 335.2 133.4 334.7 134.2 334.7 134.7 333.9 135.9 333.9 136.4 333.4 137.2 333.4 137.9 332.9 138.9 332.7 140.9 332.4 141.2 332.4 142.4 332.2 142.7 332.2 144.7 331.9 144.9 331.9 152.9 332.7 154.7 333.2 155.4 333.9 155.9 334.9 155.7 335.7 154.9 336.4 153.4 336.4 152.9 336.9 152.2 336.9 151.4 337.4 150.4 337.4 149.7 337.7 149.4 337.9 146.9 338.2 146.7 338.2 144.9 338.4 144.7 338.4 136.9 338.2 136.7 338.2 134.9 337.9 134.7 337.9 133.7 337.7 133.4 337.4 132.2Z"/>
<path fill="rgb(47,129,254)" fill-rule="evenodd" d="M336.7 131.7 336.2 131.7 335.7 132.2 334.7 135.4 333.9 136.7 333.9 137.2 333.4 138.2 333.4 138.9 333.2 139.2 333.2 139.9 332.9 140.2 332.7 142.9 332.4 143.2 332.4 145.2 332.2 145.4 332.2 150.7 332.4 150.9 332.4 153.2 332.7 153.4 332.7 153.9 333.7 155.2 334.9 155.2 336.2 153.4 336.2 152.9 336.7 152.2 336.9 150.7 337.4 149.7 337.7 147.2 337.9 146.9 337.9 145.4 338.2 145.2 338.2 141.7 338.4 141.4 338.4 140.4 338.2 140.2 338.2 135.7 337.9 135.4 337.9 134.2 337.7 133.9 337.4 132.4Z"/>
<path fill="rgb(58,159,250)" fill-rule="evenodd" d="M336.9 131.9 336.2 131.9 335.4 132.9 334.9 135.4 333.4 139.2 333.2 141.2 332.9 141.4 332.9 142.9 332.7 143.2 332.7 145.4 332.4 145.7 332.4 149.9 332.7 150.2 332.7 152.7 333.2 153.9 333.9 154.7 334.7 154.7 335.7 153.7 336.4 152.2 336.4 151.7 336.9 150.7 336.9 149.9 337.2 149.7 337.2 148.9 337.4 148.7 337.7 146.2 337.9 145.9 337.9 143.4 338.2 143.2 338.2 136.9 337.9 136.7 337.9 134.7 337.7 134.4 337.7 133.4Z"/>
<path fill="rgb(73,196,240)" fill-rule="evenodd" d="M336.4 131.9 335.7 132.7 335.7 133.2 335.2 134.2 335.2 135.2 334.9 135.4 334.7 137.2 334.4 137.4 334.4 137.9 333.7 139.7 333.7 140.4 333.4 140.7 333.2 143.7 332.9 143.9 332.9 150.9 333.2 151.2 333.2 152.4 333.7 153.4 334.4 153.9 335.4 153.2 336.4 151.2 336.4 150.7 336.9 149.7 336.9 148.9 337.2 148.7 337.2 147.7 337.4 147.4 337.4 145.9 337.7 145.7 337.7 143.2 337.9 142.9 337.9 135.2 337.7 134.9 337.4 133.2 336.9 132.2Z"/>
<path fill="rgb(89,219,215)" fill-rule="evenodd" d="M336.7 132.2 335.7 132.9 335.7 133.4 335.4 133.7 335.2 135.9 334.9 136.2 334.9 137.4 334.7 137.7 334.7 138.4 333.7 141.2 333.4 144.4 333.2 144.7 333.2 149.7 333.4 149.9 333.4 151.2 333.7 151.4 333.7 151.9 334.4 152.9 334.9 152.7 335.9 151.4 335.9 150.9 336.7 149.4 336.9 147.4 337.2 147.2 337.2 145.7 337.4 145.4 337.4 142.4 337.7 142.2 337.9 136.2 337.7 135.9 337.7 134.2Z"/>
<path fill="rgb(107,226,174)" fill-rule="evenodd" d="M336.7 132.4 336.2 132.4 335.4 133.9 335.2 136.9 334.9 137.2 334.9 138.7 334.2 140.7 333.9 142.9 333.7 143.2 333.4 148.4 333.7 148.7 333.7 150.2 334.4 151.7 334.9 151.7 335.4 151.2 336.2 149.7 336.7 147.2 336.9 146.9 336.9 145.4 337.2 145.2 337.2 142.2 337.4 141.9 337.4 140.2 337.7 139.9 337.7 134.7 337.4 134.4 337.2 132.9Z"/>
<path fill="rgb(128,235,127)" fill-rule="evenodd" d="M336.7 132.7 336.2 132.7 335.9 132.9 335.4 134.2 335.4 135.4 335.2 135.7 335.2 138.9 334.9 139.2 334.9 140.4 334.4 141.4 334.2 143.9 333.9 144.2 333.9 148.7 334.2 148.9 334.2 149.7 334.7 150.2 335.2 150.2 335.4 149.9 336.4 147.4 336.4 146.4 336.7 146.2 336.7 144.2 336.9 143.9 336.9 141.9 337.2 141.7 337.4 139.4 337.7 139.2 337.7 134.9 337.4 134.7 337.2 133.2Z"/>
<path fill="rgb(148,240,92)" fill-rule="evenodd" d="M336.4 132.7 335.7 133.7 335.4 136.2 335.2 136.4 335.4 142.2 334.9 143.2 334.9 144.4 334.7 144.7 334.7 146.2 334.9 146.4 334.9 146.9 335.2 146.9 335.7 146.2 335.7 145.4 335.9 145.2 335.9 143.2 337.2 140.9 337.4 138.7 337.7 138.4 337.7 135.7 337.4 135.4 337.4 134.2 336.9 132.9Z"/>
<path fill="rgb(166,240,74)" fill-rule="evenodd" d="M336.7 132.9 335.9 133.4 335.7 134.7 335.4 134.9 335.4 139.7 335.7 139.9 335.7 140.7 336.2 141.4 336.4 141.4 337.2 140.4 337.2 139.7 337.4 139.4 337.4 137.4 337.7 137.2 337.7 136.4 337.4 136.2 337.4 134.4Z"/>
<path fill="rgb(189,240,51)" fill-rule="evenodd" d="M336.7 133.2 335.9 133.7 335.7 135.4 335.4 135.7 335.4 138.7 335.7 138.9 335.7 139.9 336.2 140.7 336.7 140.7 336.9 140.4 337.2 138.9 337.4 138.7 337.4 134.9 337.2 134.7 337.2 133.9Z"/>
<path fill="rgb(209,237,33)" fill-rule="evenodd" d="M336.7 133.4 336.2 133.7 335.7 134.9 335.7 139.2 335.9 139.4 335.9 139.9 336.4 140.4 337.2 139.4 337.2 138.4 337.4 138.2 337.4 135.4Z"/>
<path fill="rgb(227,230,20)" fill-rule="evenodd" d="M336.7 133.9 336.2 133.9 335.9 135.2 335.7 135.4 335.7 138.4 335.9 138.7 335.9 139.4 336.4 139.9 336.9 139.4 336.9 138.9 337.2 138.7 337.2 134.9Z"/>
<path fill="rgb(246,223,7)" fill-rule="evenodd" d="M336.4 134.2 335.9 134.9 335.7 137.4 335.9 137.7 335.9 138.7 336.2 139.2 336.7 139.4 337.2 138.2 337.2 135.4 336.7 134.2Z"/>
<path fill="rgb(255,205,0)" fill-rule="evenodd" d="M336.7 134.7 336.4 134.7 335.9 135.4 335.9 138.2 336.2 138.4 336.2 138.9 336.7 138.9 336.9 138.4 336.9 137.2 337.2 136.9Z"/>
<path fill="rgb(255,175,0)" fill-rule="evenodd" d="M336.4 135.2 336.2 135.4 336.2 138.2 336.7 138.4 336.7 137.9 336.9 137.7 336.9 135.9 336.7 135.7 336.7 135.2Z"/>
<path fill="rgb(16,18,149)" fill-rule="evenodd" d="M363.8 128.2 362.1 129.7 361.3 130.9 361.3 131.4 361.1 131.7 361.1 135.2 361.3 135.4 361.6 137.2 364.8 143.7 364.8 144.2 365.8 146.7 365.8 147.4 366.3 148.4 367.3 153.7 368.6 156.4 369.1 157.2 371.3 159.2 372.8 159.9 373.3 159.9 374.3 160.4 375.3 160.4 375.6 160.7 379.6 160.7 379.8 160.4 381.6 160.2 383.6 159.2 385.8 156.9 386.8 155.2 386.8 154.7 387.3 153.7 387.3 152.9 387.6 152.7 387.8 148.7 387.6 148.4 387.6 146.2 387.3 145.9 387.1 144.2 385.6 140.4 385.6 139.7 384.8 137.7 384.6 135.7 384.3 135.4 384.1 133.9 383.1 131.2 382.3 130.2 382.1 130.2 381.1 129.2 378.6 128.2 376.6 127.9 376.3 127.7 374.6 127.7 374.3 127.4 371.3 127.2 371.1 126.9 367.3 126.9 367.1 127.2 366.3 127.2Z"/>
<path fill="rgb(20,28,188)" fill-rule="evenodd" d="M364.8 128.2 364.1 128.7 362.1 130.9 362.1 131.4 361.8 131.7 361.8 134.7 362.1 134.9 362.1 135.7 362.8 137.2 362.8 137.7 365.3 142.7 365.3 143.2 367.1 147.9 367.1 148.7 367.6 149.7 367.6 150.7 367.8 150.9 368.1 152.7 369.3 155.7 371.1 157.7 373.3 158.9 373.8 158.9 374.8 159.4 378.8 159.7 379.1 159.4 380.3 159.4 380.6 159.2 381.1 159.2 383.1 158.2 385.1 156.2 386.1 154.2 386.1 153.7 386.6 152.7 386.6 151.2 386.8 150.9 386.8 148.2 386.6 147.9 386.3 145.2 386.1 144.9 385.6 142.9 385.1 142.2 385.1 141.7 384.6 140.9 384.6 140.4 383.8 138.7 383.3 135.9 383.1 135.7 382.3 132.9 381.6 131.4 380.3 130.2 379.1 129.4 378.6 129.4 377.6 128.9 376.8 128.9 376.6 128.7 375.6 128.7 375.3 128.4 372.6 127.9 372.3 127.7 371.3 127.7 371.1 127.4 367.1 127.4 366.8 127.7 366.1 127.7 365.3 128.2Z"/>
<path fill="rgb(23,36,211)" fill-rule="evenodd" d="M364.8 128.7 363.1 130.2 362.3 131.7 362.3 134.2 362.6 134.4 362.8 135.7 363.3 136.4 363.3 136.9 365.8 141.9 365.8 142.4 366.1 142.7 366.1 143.2 366.3 143.4 366.3 143.9 368.3 149.4 368.8 152.2 369.8 154.7 372.1 157.2 374.1 158.2 374.8 158.2 375.1 158.4 378.8 158.7 379.1 158.4 380.8 158.2 382.3 157.4 384.1 155.9 385.3 153.7 385.3 152.9 385.8 151.7 385.8 147.4 385.6 147.2 385.6 145.9 385.3 145.7 384.8 143.7 383.3 140.7 383.3 140.2 382.8 139.2 382.8 138.4 382.3 137.4 382.3 136.7 380.6 132.4 379.3 130.9 378.1 130.2 377.6 130.2 376.8 129.7 376.3 129.7 372.3 128.2 371.6 128.2 371.3 127.9 370.3 127.9 370.1 127.7 367.8 127.7 367.6 127.9 366.6 127.9Z"/>
<path fill="rgb(25,45,224)" fill-rule="evenodd" d="M365.1 128.9 364.3 129.4 363.1 130.9 363.1 131.4 362.8 131.7 362.8 134.2 363.1 134.4 363.3 135.7 364.1 136.7 367.1 143.2 367.1 143.9 367.3 144.2 367.3 144.7 367.6 144.9 367.6 145.4 369.6 150.9 369.6 151.7 370.6 154.2 372.3 156.2 374.8 157.4 376.1 157.4 376.3 157.7 378.8 157.7 379.1 157.4 380.1 157.4 381.3 156.9 383.6 154.9 384.3 153.7 384.3 153.2 384.8 152.2 385.1 148.7 384.8 148.4 384.8 146.7 384.6 146.4 384.3 144.9 382.3 140.9 382.3 140.4 381.8 139.7 381.8 138.9 381.3 137.9 381.3 137.2 379.8 133.9 379.3 133.4 379.1 132.7 377.8 131.4 372.6 128.7 372.1 128.7 371.1 128.2 368.3 127.9 368.1 128.2 366.8 128.2Z"/>
<path fill="rgb(28,56,240)" fill-rule="evenodd" d="M364.8 129.4 363.8 130.4 363.1 132.2 363.3 134.4 363.8 135.7 365.6 138.2 367.1 141.2 367.1 141.7 367.6 142.4 367.8 143.9 368.6 145.7 368.6 146.4 369.6 148.4 369.6 148.9 369.8 149.2 370.6 151.9 371.1 152.7 371.1 153.2 372.6 155.2 375.1 156.4 375.8 156.4 376.1 156.7 378.8 156.7 379.1 156.4 379.8 156.4 381.1 155.9 382.8 154.4 383.8 152.4 383.8 151.4 384.1 151.2 384.1 147.4 383.8 147.2 383.8 146.4 383.6 146.2 383.3 144.9 381.1 140.7 381.1 140.2 380.6 139.2 380.6 138.4 379.3 135.4 377.8 133.4 374.8 130.4 372.3 128.9 371.8 128.9 370.8 128.4 367.1 128.4Z"/>
<path fill="rgb(34,79,251)" fill-rule="evenodd" d="M365.6 129.4 364.1 130.9 363.6 132.2 363.6 133.4 364.3 135.4 366.8 138.4 368.6 141.7 369.8 146.7 370.6 147.9 370.6 148.4 371.6 150.2 371.6 150.7 372.6 152.7 374.1 154.2 375.8 154.9 379.1 154.9 380.3 154.4 381.3 153.7 382.3 151.9 382.3 151.2 382.6 150.9 382.6 147.7 382.3 147.4 382.1 145.9 379.8 141.9 379.8 141.4 379.3 140.7 379.3 139.9 378.8 138.9 378.8 138.2 377.8 136.2 376.3 134.7 374.8 131.7 373.1 129.9 371.1 128.9 370.3 128.9 370.1 128.7 367.6 128.7Z"/>
<path fill="rgb(41,107,253)" fill-rule="evenodd" d="M365.6 129.9 364.6 130.9 364.1 132.2 364.1 133.4 364.3 133.7 364.3 134.2 365.3 135.9 368.6 138.9 369.6 140.4 369.6 140.9 370.1 141.7 370.1 142.4 370.3 142.7 370.6 145.2 371.6 147.4 374.3 151.4 375.8 152.4 378.6 152.4 379.1 152.2 379.8 151.4 380.3 150.4 380.3 147.4 380.1 147.2 379.8 145.9 378.3 142.9 377.1 138.2 376.6 137.2 375.6 136.2 374.8 134.9 374.3 132.4 373.8 131.4 372.6 130.2 370.6 129.2 369.1 129.2 368.8 128.9 368.6 129.2 367.1 129.2Z"/>
<path fill="rgb(47,129,254)" fill-rule="evenodd" d="M366.1 129.9 364.8 131.2 364.3 132.4 364.3 133.2 364.6 133.4 364.8 134.7 366.8 136.9 369.6 138.7 370.6 139.9 371.3 141.4 371.6 144.9 372.6 146.9 373.6 147.9 374.6 148.4 375.1 148.4 375.3 148.7 376.3 148.4 377.3 147.4 377.3 146.9 377.6 146.7 377.6 145.2 377.3 144.9 377.3 143.9 376.8 142.9 376.8 141.9 376.6 141.7 376.6 140.7 376.3 140.4 376.1 138.9 375.3 137.4 374.6 136.7 374.1 135.4 374.1 133.4 373.3 131.4 372.1 130.2 370.3 129.4 368.6 129.2 368.3 129.4 367.1 129.4Z"/>
<path fill="rgb(58,159,250)" fill-rule="evenodd" d="M366.1 130.2 364.8 131.7 364.8 133.9 365.3 134.9 367.6 136.9 369.1 137.7 371.1 138.2 372.3 139.2 373.1 140.7 373.1 143.7 373.3 143.9 373.3 144.7 374.1 145.4 374.6 145.4 375.1 144.9 375.1 142.7 374.8 142.4 374.8 141.4 374.6 141.2 374.6 139.9 373.3 137.7 373.6 133.2 373.3 132.9 373.1 131.7 371.6 130.2 370.3 129.7 369.6 129.7 369.3 129.4 367.1 129.7Z"/>
<path fill="rgb(73,196,240)" fill-rule="evenodd" d="M366.1 130.7 365.3 131.7 365.1 133.2 365.6 134.4 366.6 135.7 368.3 136.7 369.1 136.7 369.3 136.9 370.6 136.9 370.8 136.7 371.3 136.7 372.3 135.7 372.8 134.7 372.8 132.4 372.3 131.4 371.6 130.7 370.1 129.9 367.6 129.9Z"/>
<path fill="rgb(89,219,215)" fill-rule="evenodd" d="M366.3 130.9 365.6 132.2 365.6 133.4 366.1 134.4 367.1 135.4 368.6 136.2 370.3 136.2 371.8 135.2 372.3 133.9 372.3 132.7 372.1 132.4 372.1 131.9 370.8 130.7 369.6 130.2 368.1 130.2Z"/>
<path fill="rgb(107,226,174)" fill-rule="evenodd" d="M366.1 131.7 366.1 132.4 365.8 132.7 366.1 132.9 366.1 133.7 366.8 134.7 367.6 135.2 369.6 135.7 370.8 135.2 371.3 134.7 371.8 132.9 371.3 131.7 370.6 130.9 369.3 130.4 368.1 130.4 366.8 130.9Z"/>
<path fill="rgb(128,235,127)" fill-rule="evenodd" d="M366.6 131.4 366.1 132.7 366.8 134.2 368.1 134.9 369.8 134.9 371.1 133.9 371.1 133.2 371.3 132.9 371.1 132.7 371.1 131.9 370.1 130.9 369.6 130.9 369.3 130.7 367.8 130.7Z"/>
<path fill="rgb(148,240,92)" fill-rule="evenodd" d="M366.8 131.4 366.3 132.7 366.6 132.9 366.6 133.4 367.3 134.2 367.8 134.2 368.1 134.4 369.6 134.4 370.6 133.7 370.8 133.2 370.8 132.2 370.3 131.4 369.6 130.9 367.6 130.9Z"/>
<path fill="rgb(166,240,74)" fill-rule="evenodd" d="M367.1 131.4 366.6 132.2 366.6 132.9 367.3 133.9 367.8 134.2 369.3 134.2 370.3 133.4 370.6 132.2 369.6 131.2 368.3 130.9Z"/>
<path fill="rgb(189,240,51)" fill-rule="evenodd" d="M368.1 131.2 366.8 132.2 366.8 132.9 368.1 133.9 369.1 133.9 370.1 133.2 370.3 132.4 369.6 131.4 369.1 131.2Z"/>
<path fill="rgb(209,237,33)" fill-rule="evenodd" d="M367.8 131.4 367.1 132.2 367.1 132.9 367.8 133.7 369.3 133.7 370.1 132.7 369.8 131.9 369.1 131.4Z"/>
<path fill="rgb(227,230,20)" fill-rule="evenodd" d="M367.6 131.9 367.3 132.4 367.6 133.2 368.1 133.4 369.1 133.4 369.6 132.9 369.6 132.2 369.1 131.7 368.1 131.7Z"/>
<path fill="rgb(246,223,7)" fill-rule="evenodd" d="M368.1 131.9 367.8 132.2 367.8 132.9 368.8 133.2 369.3 132.4 368.8 131.9Z"/>
<path fill="rgb(16,18,149)" fill-rule="evenodd" d="M418.9 136.4 418.1 138.2 418.1 139.4 417.9 139.7 418.1 143.2 418.4 143.4 418.4 149.4 418.6 149.7 418.6 150.7 419.4 152.7 420.6 154.2 422.1 155.2 423.1 155.4 423.9 155.9 425.4 156.2 425.6 156.4 428.1 156.7 428.4 156.9 430.4 156.9 430.6 157.2 439.1 157.2 439.4 156.9 442.9 156.7 443.1 156.4 445.6 155.9 448.4 154.4 449.9 152.7 450.6 150.9 450.6 149.7 450.9 149.4 450.9 146.7 450.6 146.4 450.6 144.2 450.4 143.7 450.6 143.4 450.6 142.2 451.4 140.2 451.4 138.4 450.4 136.4 447.9 134.2 445.6 133.2 443.6 132.9 443.4 132.7 441.4 132.7 441.1 132.4 430.6 132.4 430.4 132.2 429.9 132.2 429.6 132.4 425.9 132.4 425.6 132.7 424.4 132.7 424.1 132.9 422.1 133.4 421.6 133.9 420.9 134.2Z"/>
<path fill="rgb(20,28,188)" fill-rule="evenodd" d="M419.9 136.7 418.9 139.4 418.9 140.9 419.1 141.2 419.1 142.4 419.4 142.7 419.4 143.9 419.6 144.2 419.6 145.9 419.9 146.2 419.9 149.9 420.1 150.2 420.4 151.4 421.1 152.7 422.9 154.2 423.9 154.7 424.4 154.7 425.1 155.2 425.9 155.2 427.1 155.7 428.4 155.7 428.6 155.9 430.1 155.9 430.4 156.2 439.4 156.2 439.6 155.9 442.6 155.7 442.9 155.4 443.6 155.4 443.9 155.2 445.1 154.9 446.9 153.9 448.4 152.4 449.4 149.9 449.4 145.7 449.1 145.4 449.1 143.2 450.4 140.2 450.4 138.4 449.9 137.2 447.6 135.2 445.6 134.2 444.9 134.2 443.6 133.7 442.6 133.7 442.4 133.4 440.1 133.4 439.9 133.2 426.9 133.2 426.6 133.4 425.4 133.4 425.1 133.7 424.4 133.7 424.1 133.9 422.9 134.2 421.6 134.9Z"/>
<path fill="rgb(23,36,211)" fill-rule="evenodd" d="M420.4 137.4 419.9 138.7 419.9 141.9 420.1 142.2 420.1 142.9 420.4 143.2 420.6 144.9 420.9 145.2 421.1 149.7 421.4 149.9 421.6 151.2 423.4 153.2 426.9 154.7 429.4 154.9 429.6 155.2 431.6 155.2 431.9 155.4 438.1 155.4 438.4 155.2 440.4 155.2 440.6 154.9 441.6 154.9 441.9 154.7 442.6 154.7 442.9 154.4 444.1 154.2 446.6 152.7 447.4 151.7 448.1 149.9 448.1 145.7 447.9 145.4 447.9 143.4 449.6 139.9 449.6 138.4 449.4 138.2 449.4 137.7 447.6 135.9 445.6 134.9 445.1 134.9 444.1 134.4 443.4 134.4 443.1 134.2 441.9 134.2 441.6 133.9 439.4 133.9 439.1 133.7 427.9 133.7 427.6 133.9 426.1 133.9 425.9 134.2 425.1 134.2 424.9 134.4 423.6 134.7 421.9 135.7Z"/>
<path fill="rgb(25,45,224)" fill-rule="evenodd" d="M421.1 137.4 420.6 138.4 420.4 140.4 420.6 140.7 420.9 142.7 421.9 145.2 422.4 149.7 423.4 151.7 424.6 152.7 426.1 153.4 426.6 153.4 427.6 153.9 428.6 153.9 428.9 154.2 430.1 154.2 430.4 154.4 433.1 154.4 433.4 154.7 436.6 154.7 436.9 154.4 439.4 154.4 439.6 154.2 440.9 154.2 441.1 153.9 442.9 153.7 444.9 152.7 446.6 150.7 446.9 149.2 447.1 148.9 447.1 147.2 446.9 146.9 446.6 144.2 447.4 142.4 448.6 140.7 448.9 139.2 449.1 138.9 448.9 138.7 448.6 137.4 447.1 136.2 445.6 135.4 445.1 135.4 443.4 134.7 442.4 134.7 442.1 134.4 432.4 133.9 432.1 134.2 427.9 134.2 427.6 134.4 425.4 134.7 423.4 135.4Z"/>
<path fill="rgb(28,56,240)" fill-rule="evenodd" d="M421.4 138.2 421.4 138.7 421.1 138.9 421.1 140.9 421.4 141.2 421.6 142.7 422.1 143.4 422.1 143.9 422.6 144.7 422.6 145.2 423.1 146.2 423.4 148.9 424.1 150.7 425.4 151.9 427.4 152.9 428.1 152.9 429.4 153.4 430.9 153.4 431.1 153.7 438.6 153.7 438.9 153.4 441.4 153.2 441.6 152.9 442.9 152.7 444.1 151.9 445.1 150.9 445.9 149.2 445.6 143.9 448.1 140.4 448.4 138.9 448.6 138.7 447.9 137.2 445.4 135.7 444.9 135.7 443.9 135.2 443.1 135.2 442.9 134.9 439.6 134.7 439.4 134.4 429.1 134.4 428.9 134.7 427.1 134.7 426.9 134.9 425.1 135.2 423.1 136.2Z"/>
<path fill="rgb(34,79,251)" fill-rule="evenodd" d="M422.6 137.7 421.9 139.7 422.1 140.2 422.1 141.2 424.6 146.2 425.6 149.7 426.9 150.9 428.4 151.7 430.1 151.9 430.4 152.2 432.1 152.2 432.4 152.4 437.6 152.4 437.9 152.2 439.4 152.2 439.6 151.9 440.4 151.9 440.6 151.7 441.9 151.4 442.6 150.9 443.6 149.9 444.1 148.7 443.9 144.2 446.9 140.9 447.9 139.2 447.9 138.2 447.6 137.7 446.1 136.4 445.6 136.4 444.9 135.9 443.4 135.7 443.1 135.4 442.1 135.4 441.9 135.2 440.4 135.2 440.1 134.9 436.6 134.9 436.4 134.7 432.4 134.7 432.1 134.9 428.9 134.9 428.6 135.2 427.4 135.2 427.1 135.4 426.4 135.4 424.4 136.2Z"/>
<path fill="rgb(41,107,253)" fill-rule="evenodd" d="M423.1 138.2 423.1 138.7 422.9 138.9 422.9 140.9 423.9 142.9 426.4 146.2 427.9 149.2 428.9 149.9 429.4 149.9 430.4 150.4 431.4 150.4 431.6 150.7 438.1 150.7 438.4 150.4 439.4 150.4 440.9 149.7 441.9 148.4 441.9 146.2 441.6 145.9 441.6 144.9 442.9 143.4 445.6 141.4 447.4 139.2 447.4 137.9 446.4 136.9 443.9 135.9 441.9 135.7 441.6 135.4 439.9 135.4 439.6 135.2 430.1 135.2 429.9 135.4 428.4 135.4 428.1 135.7 427.1 135.7 425.6 136.4 425.1 136.4Z"/>
<path fill="rgb(47,129,254)" fill-rule="evenodd" d="M423.4 140.7 424.6 142.9 427.4 145.7 427.4 145.9 429.1 147.7 429.1 147.9 429.9 148.4 431.1 148.9 432.1 148.9 432.4 149.2 436.9 149.2 437.1 148.9 438.9 148.7 439.6 147.9 439.9 147.4 439.9 146.2 439.6 145.7 440.1 144.7 441.4 143.7 443.4 142.7 445.9 140.4 446.1 140.4 447.1 139.2 447.1 137.9 445.6 136.7 445.1 136.7 443.4 135.9 442.4 135.9 442.1 135.7 440.6 135.7 440.4 135.4 430.1 135.4 429.9 135.7 427.4 135.9 427.1 136.2 425.9 136.4 424.6 137.2 423.9 137.9 423.4 138.9Z"/>
<path fill="rgb(58,159,250)" fill-rule="evenodd" d="M423.9 140.4 424.4 141.7 425.1 142.7 427.1 144.4 430.6 146.4 432.9 146.7 433.1 146.4 434.1 146.4 434.4 146.2 435.6 145.9 438.1 144.4 439.9 143.9 443.4 142.2 446.6 139.4 446.9 138.9 446.9 137.9 446.1 137.2 444.6 136.4 443.1 136.2 442.9 135.9 441.6 135.9 441.4 135.7 438.4 135.7 438.1 135.4 433.1 135.4 432.9 135.7 429.9 135.7 429.6 135.9 428.4 135.9 428.1 136.2 426.1 136.7 424.6 137.7 423.9 138.9Z"/>
<path fill="rgb(73,196,240)" fill-rule="evenodd" d="M424.6 140.4 425.1 141.4 426.6 142.9 428.4 143.9 428.9 143.9 429.9 144.4 433.6 144.4 433.9 144.2 435.1 144.2 435.4 143.9 437.9 143.7 438.1 143.4 438.9 143.4 439.1 143.2 439.9 143.2 440.6 142.7 441.1 142.7 445.1 140.4 446.4 139.2 446.6 138.2 446.4 137.7 445.4 136.9 444.9 136.9 444.1 136.4 443.4 136.4 443.1 136.2 442.1 136.2 441.9 135.9 439.9 135.9 439.6 135.7 430.6 135.9 430.4 136.2 428.1 136.4 427.9 136.7 426.6 136.9 425.9 137.4 424.6 138.9Z"/>
<path fill="rgb(89,219,215)" fill-rule="evenodd" d="M425.4 140.2 425.9 141.2 426.9 142.2 428.6 143.2 429.1 143.2 429.4 143.4 430.6 143.4 430.9 143.7 433.4 143.7 433.6 143.4 437.4 143.2 437.6 142.9 438.6 142.9 438.9 142.7 439.6 142.7 439.9 142.4 441.1 142.2 445.4 139.9 446.1 139.2 446.4 138.2 445.4 137.2 444.4 136.7 442.9 136.4 442.6 136.2 441.1 136.2 440.9 135.9 434.4 135.9 434.1 136.2 431.1 136.2 430.9 136.4 429.4 136.4 429.1 136.7 427.1 137.2 426.4 137.7 425.4 138.9Z"/>
<path fill="rgb(107,226,174)" fill-rule="evenodd" d="M426.1 140.2 427.6 141.9 429.1 142.7 429.9 142.7 430.1 142.9 431.9 142.9 432.1 143.2 432.9 143.2 433.1 142.9 435.9 142.9 436.1 142.7 438.9 142.4 439.1 142.2 441.1 141.7 441.9 141.2 442.4 141.2 445.6 139.4 446.1 138.4 445.1 137.2 443.1 136.4 442.1 136.4 441.9 136.2 434.1 136.2 433.9 136.4 431.4 136.4 431.1 136.7 429.9 136.7 429.6 136.9 428.9 136.9 428.1 137.4 427.6 137.4 426.4 138.4 426.1 138.9Z"/>
<path fill="rgb(128,235,127)" fill-rule="evenodd" d="M445.9 138.2 444.9 137.2 443.6 136.7 442.9 136.7 442.6 136.4 441.4 136.4 441.1 136.2 436.4 136.2 436.1 136.4 433.9 136.4 433.6 136.7 431.9 136.7 431.6 136.9 429.4 137.2 428.6 137.7 428.1 137.7 426.9 138.9 426.9 139.9 428.4 141.7 429.4 142.2 431.6 142.4 431.9 142.7 434.1 142.7 434.4 142.4 436.6 142.4 436.9 142.2 439.1 141.9 439.4 141.7 442.9 140.7 443.6 140.2 444.6 139.9 445.9 138.7Z"/>
<path fill="rgb(148,240,92)" fill-rule="evenodd" d="M427.9 139.7 429.1 141.2 430.9 141.9 436.1 141.9 436.4 141.7 437.6 141.7 437.9 141.4 438.9 141.4 439.1 141.2 442.9 140.4 444.9 139.4 445.6 138.4 444.9 137.4 443.1 136.7 442.1 136.7 441.9 136.4 435.6 136.4 435.4 136.7 432.6 136.9 432.4 137.2 431.4 137.2 431.1 137.4 429.6 137.7 428.1 138.7Z"/>
<path fill="rgb(166,240,74)" fill-rule="evenodd" d="M445.1 137.9 444.6 137.4 442.6 136.7 441.4 136.7 441.1 136.4 437.1 136.4 436.9 136.7 435.4 136.7 435.1 136.9 434.1 136.9 433.9 137.2 433.1 137.2 432.9 137.4 432.1 137.4 431.9 137.7 430.6 137.9 429.4 138.7 429.1 139.9 430.1 140.9 430.6 140.9 431.6 141.4 435.6 141.4 435.9 141.2 437.6 141.2 437.9 140.9 440.9 140.7 441.1 140.4 442.1 140.4 442.4 140.2 443.6 139.9 445.1 138.9Z"/>
<path fill="rgb(189,240,51)" fill-rule="evenodd" d="M431.4 139.4 432.1 140.2 432.6 140.2 432.9 140.4 440.9 140.4 441.1 140.2 442.1 140.2 444.1 139.4 444.9 138.7 444.9 137.9 443.6 137.2 442.1 136.9 441.9 136.7 436.6 136.7 436.4 136.9 435.4 136.9 435.1 137.2 433.1 137.7 432.4 138.2 431.4 139.2Z"/>
<path fill="rgb(209,237,33)" fill-rule="evenodd" d="M433.4 138.9 434.4 139.7 436.1 139.9 436.4 140.2 440.9 140.2 441.1 139.9 442.1 139.9 442.4 139.7 443.6 139.4 444.4 138.9 444.6 138.2 443.9 137.4 442.6 137.2 442.4 136.9 441.1 136.9 440.9 136.7 438.1 136.7 437.9 136.9 436.4 136.9 436.1 137.2 434.6 137.4 433.4 138.4Z"/>
<path fill="rgb(227,230,20)" fill-rule="evenodd" d="M434.4 138.4 434.9 139.2 436.1 139.7 437.1 139.7 437.4 139.9 440.9 139.9 441.1 139.7 442.1 139.7 443.9 138.9 444.1 138.7 444.1 137.9 442.9 137.2 441.9 137.2 441.6 136.9 437.4 136.9 437.1 137.2 435.6 137.4Z"/>
<path fill="rgb(246,223,7)" fill-rule="evenodd" d="M435.1 138.2 435.4 138.9 436.4 139.4 437.4 139.4 437.6 139.7 441.4 139.7 441.6 139.4 443.1 139.2 443.9 138.7 443.9 137.9 443.6 137.7 442.4 137.2 441.1 137.2 440.9 136.9 437.1 137.2 436.9 137.4 436.1 137.4Z"/>
<path fill="rgb(255,205,0)" fill-rule="evenodd" d="M435.6 138.2 436.1 138.9 437.4 139.4 441.9 139.4 443.1 138.9 443.6 138.4 443.6 137.9 441.9 137.2 437.6 137.2 437.4 137.4 436.6 137.4Z"/>
<path fill="rgb(255,175,0)" fill-rule="evenodd" d="M436.1 138.2 436.6 138.9 438.4 139.2 438.6 139.4 440.9 139.4 441.1 139.2 442.1 139.2 443.4 138.4 442.9 137.7 442.4 137.4 441.4 137.4 441.1 137.2 438.4 137.2 438.1 137.4 436.6 137.7Z"/>
<path fill="rgb(255,145,0)" fill-rule="evenodd" d="M436.6 137.9 436.6 138.4 437.1 138.9 437.9 138.9 438.1 139.2 441.6 139.2 442.9 138.7 443.1 138.2 442.6 137.7 442.1 137.7 441.9 137.4 437.9 137.4Z"/>
<path fill="rgb(251,113,0)" fill-rule="evenodd" d="M436.9 138.2 437.1 138.7 437.6 138.9 438.6 138.9 438.9 139.2 440.9 139.2 441.1 138.9 441.9 138.9 442.6 138.4 442.6 137.9 441.4 137.4 438.4 137.4 438.1 137.7 437.4 137.7Z"/>
<path fill="rgb(242,77,0)" fill-rule="evenodd" d="M437.1 138.2 438.1 138.9 441.4 138.9 442.4 138.4 442.4 137.9 441.9 137.7 440.9 137.7 440.6 137.4 437.9 137.7Z"/>
<path fill="rgb(232,37,0)" fill-rule="evenodd" d="M437.6 138.2 437.6 138.4 438.9 138.9 440.6 138.9 440.9 138.7 442.1 138.4 441.9 137.9 441.4 137.9 441.1 137.7 438.4 137.7Z"/>
<path fill="rgb(212,24,0)" fill-rule="evenodd" d="M438.1 138.2 438.1 138.4 438.6 138.7 441.1 138.7 441.6 138.4 441.4 137.9 440.6 137.9 440.4 137.7 439.4 137.7Z"/>
<path fill="rgb(185,15,0)" fill-rule="evenodd" d="M439.1 138.4 440.4 138.4 440.6 138.2 439.1 138.2Z"/>
<path fill="rgb(16,18,149)" fill-rule="evenodd" d="M494.4 130.4 492.9 128.7 490.7 127.7 489.9 127.7 489.7 127.4 484.7 127.4 484.4 127.7 483.4 127.7 480.9 128.7 480.2 128.7 479.9 128.9 476.2 129.7 475.2 130.2 474.4 131.2 475.9 132.2 481.9 133.7 482.9 134.7 482.9 135.2 483.7 136.9 484.2 137.4 484.7 137.4 485.4 136.9 486.4 134.9 486.9 134.7 489.2 134.7 489.4 134.4 490.4 134.4 490.7 134.2 491.9 133.9 493.2 133.2 494.4 131.7Z"/>
<path fill="rgb(20,28,188)" fill-rule="evenodd" d="M493.7 130.2 493.2 129.4 492.2 128.7 490.2 127.9 489.2 127.9 488.9 127.7 485.7 127.7 485.4 127.9 484.2 127.9 482.2 128.7 481.4 128.7 481.2 128.9 480.4 128.9 480.2 129.2 479.4 129.2 479.2 129.4 476.7 129.9 476.2 130.2 475.4 131.2 476.9 132.2 477.7 132.2 478.7 132.7 479.7 132.7 479.9 132.9 480.7 132.9 480.9 133.2 482.2 133.4 483.2 134.4 483.7 136.4 484.2 136.9 484.7 136.9 485.2 136.7 485.9 134.9 486.4 134.4 489.9 134.2 492.4 133.2 493.7 131.9Z"/>
<path fill="rgb(23,36,211)" fill-rule="evenodd" d="M493.2 131.9 493.2 130.2 491.9 128.9 490.9 128.4 488.7 128.2 488.4 127.9 484.9 128.2 484.7 128.4 483.7 128.4 483.4 128.7 482.7 128.7 482.4 128.9 481.7 128.9 480.4 129.4 479.4 129.4 479.2 129.7 477.2 130.2 476.4 130.9 476.7 131.4 477.4 131.9 482.4 133.2 483.2 133.9 483.7 135.7 484.4 136.4 485.4 135.7 485.7 134.9 486.4 134.2 486.9 133.9 489.9 133.9 491.9 133.2Z"/>
<path fill="rgb(25,45,224)" fill-rule="evenodd" d="M492.9 130.4 492.2 129.4 490.9 128.7 490.4 128.7 490.2 128.4 488.9 128.4 488.7 128.2 487.2 128.2 486.9 128.4 485.4 128.4 485.2 128.7 484.2 128.7 482.9 129.2 481.9 129.2 481.7 129.4 479.7 129.7 477.9 130.4 477.7 130.7 477.7 131.2 478.4 131.9 482.7 132.9 483.4 133.7 483.9 135.2 484.7 135.7 485.2 135.4 485.4 134.7 486.7 133.7 488.4 133.9 488.7 133.7 490.2 133.7 491.4 133.2 492.2 132.7 492.9 131.7Z"/>
<path fill="rgb(28,56,240)" fill-rule="evenodd" d="M492.7 130.7 492.4 130.2 490.9 128.9 489.4 128.7 489.2 128.4 487.2 128.4 486.9 128.7 485.7 128.7 484.4 129.2 483.4 129.2 483.2 129.4 481.9 129.4 481.7 129.7 479.9 129.9 478.7 130.7 478.7 131.2 480.2 132.2 482.9 132.7 483.7 133.4 483.9 134.4 484.4 134.9 484.9 134.9 485.2 134.4 486.4 133.4 486.9 133.4 487.2 133.7 489.2 133.7 489.4 133.4 490.2 133.4 491.4 132.9 492.4 131.9Z"/>
<path fill="rgb(34,79,251)" fill-rule="evenodd" d="M492.2 130.4 491.2 129.4 490.2 128.9 489.4 128.9 489.2 128.7 487.4 128.7 487.2 128.9 485.4 129.2 484.4 129.7 483.2 129.7 482.9 129.9 481.7 129.9 481.4 130.2 480.9 130.2 480.2 130.7 480.2 131.4 481.2 131.9 481.9 131.9 482.2 132.2 483.4 132.4 484.4 133.4 484.4 133.7 484.9 133.7 485.4 133.2 489.2 133.4 489.4 133.2 490.9 132.9 491.7 132.4 492.2 131.7Z"/>
<path fill="rgb(41,107,253)" fill-rule="evenodd" d="M491.9 131.4 491.7 130.2 491.2 129.7 489.4 128.9 487.4 128.9 487.2 129.2 486.4 129.2 485.7 129.7 485.2 129.7 484.4 130.2 482.2 130.4 481.4 130.9 481.9 131.4 483.4 131.7 485.2 132.7 486.2 132.7 487.4 133.2 489.4 133.2 489.7 132.9 490.4 132.9 490.9 132.7Z"/>
<path fill="rgb(47,129,254)" fill-rule="evenodd" d="M483.7 130.9 483.9 131.4 486.2 132.7 486.7 132.7 486.9 132.9 488.2 132.9 488.4 133.2 490.7 132.7 491.7 131.7 491.7 130.4 490.9 129.7 489.9 129.2 487.2 129.2Z"/>
<path fill="rgb(58,159,250)" fill-rule="evenodd" d="M484.9 130.7 484.9 131.4 485.7 132.2 487.4 132.9 489.7 132.9 490.7 132.4 491.4 131.7 491.4 130.4 490.7 129.7 489.4 129.2 487.7 129.2 487.4 129.4 486.2 129.7Z"/>
<path fill="rgb(73,196,240)" fill-rule="evenodd" d="M485.4 130.9 485.7 131.7 486.2 132.2 487.4 132.7 489.9 132.7 491.2 131.7 491.2 130.4 489.7 129.4 487.4 129.4 485.9 130.2Z"/>
<path fill="rgb(89,219,215)" fill-rule="evenodd" d="M486.2 130.4 485.9 130.9 486.2 131.7 486.7 132.2 487.9 132.7 489.4 132.7 490.9 131.7 490.9 130.4 489.9 129.7 488.4 129.4 488.2 129.7 487.4 129.7Z"/>
<path fill="rgb(107,226,174)" fill-rule="evenodd" d="M486.4 130.7 486.4 131.4 487.7 132.4 489.7 132.4 490.2 132.2 490.9 131.2 490.7 130.4 490.2 129.9 489.7 129.9 489.4 129.7 487.9 129.7 487.7 129.9 487.2 129.9Z"/>
<path fill="rgb(128,235,127)" fill-rule="evenodd" d="M486.7 130.9 486.7 131.4 487.4 132.2 487.9 132.2 488.2 132.4 489.9 132.2 490.7 131.4 490.4 130.4 489.7 129.9 487.7 129.9 487.2 130.2Z"/>
<path fill="rgb(148,240,92)" fill-rule="evenodd" d="M487.2 130.7 487.2 131.4 487.9 132.2 489.4 132.2 490.4 131.4 490.2 130.4 489.2 129.9 488.2 129.9Z"/>
<path fill="rgb(166,240,74)" fill-rule="evenodd" d="M487.4 130.7 487.4 131.4 487.9 131.9 488.4 131.9 488.7 132.2 489.7 131.9 490.2 131.4 490.2 130.7 489.4 130.2 488.2 130.2Z"/>
<path fill="rgb(189,240,51)" fill-rule="evenodd" d="M487.9 130.7 487.9 131.4 488.7 131.9 489.4 131.7 489.9 131.2 489.4 130.4 488.2 130.4Z"/>
<path fill="rgb(209,237,33)" fill-rule="evenodd" d="M488.7 130.7 488.4 130.9 488.4 131.4 489.2 131.4 489.2 130.9Z"/></g>
</svg>
<svg id="fg" width="520" height="319" viewBox="0 0 520 319">
<path d="M27.2,28.5 L69.5,28.5" fill="none" stroke="#d4d4d4" stroke-width="0.8"/>
<path d="M69.5,28.5 L69.5,70.2" fill="none" stroke="#c4c4c4" stroke-width="0.8"/>
<path d="M27.2,28.5 L27.2,70.2 L69.5,70.2" fill="none" stroke="#9a9a9a" stroke-width="0.8"/>
<path d="M22.5,74.7 L22.5,58.5" stroke="#555" stroke-width="1.0" fill="none"/>
<path d="M22.5,55.3 L20.6,59.3 L24.4,59.3 Z" fill="#111"/>
<path d="M22.0,74.7 L39.0,74.7" stroke="#555" stroke-width="1.0" fill="none"/>
<path d="M42.1,74.7 L38.1,72.8 L38.1,76.60000000000001 Z" fill="#111"/>
<text x="30" y="82.2" font-size="5.5" text-anchor="middle" font-weight="normal" font-style="normal" fill="#1a1a1a">CD8</text>
<text x="21.099999999999998" y="69.0" font-size="5.3" text-anchor="middle" font-weight="normal" font-style="normal" fill="#1a1a1a" transform="rotate(-90 21.099999999999998 69.0)">CD3</text>
<path d="M82.5,28.5 L124.8,28.5" fill="none" stroke="#d4d4d4" stroke-width="0.8"/>
<path d="M124.8,28.5 L124.8,70.2" fill="none" stroke="#c4c4c4" stroke-width="0.8"/>
<path d="M82.5,28.5 L82.5,70.2 L124.8,70.2" fill="none" stroke="#9a9a9a" stroke-width="0.8"/>
<path d="M78.1,74.7 L78.1,58.5" stroke="#555" stroke-width="1.0" fill="none"/>
<path d="M78.1,55.3 L76.19999999999999,59.3 L80.0,59.3 Z" fill="#111"/>
<path d="M77.6,74.7 L94.6,74.7" stroke="#555" stroke-width="1.0" fill="none"/>
<path d="M97.69999999999999,74.7 L93.69999999999999,72.8 L93.69999999999999,76.60000000000001 Z" fill="#111"/>
<text x="87" y="82.2" font-size="5.5" text-anchor="middle" font-weight="normal" font-style="normal" fill="#1a1a1a">CD45RO</text>
<text x="76.0" y="68.7" font-size="5.3" text-anchor="middle" font-weight="normal" font-style="normal" fill="#1a1a1a" transform="rotate(-90 76.0 68.7)">CCR7</text>
<path d="M137.5,28.5 L179.8,28.5" fill="none" stroke="#d4d4d4" stroke-width="0.8"/>
<path d="M179.8,28.5 L179.8,70.2" fill="none" stroke="#c4c4c4" stroke-width="0.8"/>
<path d="M137.5,28.5 L137.5,70.2 L179.8,70.2" fill="none" stroke="#9a9a9a" stroke-width="0.8"/>
<path d="M133.8,74.7 L133.8,58.5" stroke="#555" stroke-width="1.0" fill="none"/>
<path d="M133.8,55.3 L131.9,59.3 L135.70000000000002,59.3 Z" fill="#111"/>
<path d="M133.3,74.7 L150.3,74.7" stroke="#555" stroke-width="1.0" fill="none"/>
<path d="M153.4,74.7 L149.4,72.8 L149.4,76.60000000000001 Z" fill="#111"/>
<text x="142" y="82.2" font-size="5.5" text-anchor="middle" font-weight="normal" font-style="normal" fill="#1a1a1a">CD45RA</text>
<text x="131.6" y="69.0" font-size="5.3" text-anchor="middle" font-weight="normal" font-style="normal" fill="#1a1a1a" transform="rotate(-90 131.6 69.0)">CD62L</text>
<path d="M192.5,28.5 L234.8,28.5" fill="none" stroke="#d4d4d4" stroke-width="0.8"/>
<path d="M234.8,28.5 L234.8,70.2" fill="none" stroke="#c4c4c4" stroke-width="0.8"/>
<path d="M192.5,28.5 L192.5,70.2 L234.8,70.2" fill="none" stroke="#9a9a9a" stroke-width="0.8"/>
<path d="M189.0,74.7 L189.0,58.5" stroke="#555" stroke-width="1.0" fill="none"/>
<path d="M189.0,55.3 L187.1,59.3 L190.9,59.3 Z" fill="#111"/>
<path d="M188.5,74.7 L205.5,74.7" stroke="#555" stroke-width="1.0" fill="none"/>
<path d="M208.6,74.7 L204.6,72.8 L204.6,76.60000000000001 Z" fill="#111"/>
<text x="196" y="82.2" font-size="5.5" text-anchor="middle" font-weight="normal" font-style="normal" fill="#1a1a1a">CD27</text>
<text x="187.20000000000002" y="67.9" font-size="5.3" text-anchor="middle" font-weight="normal" font-style="normal" fill="#1a1a1a" transform="rotate(-90 187.20000000000002 67.9)">CD95</text>
<path d="M304.3,28.5 L346.6,28.5" fill="none" stroke="#d4d4d4" stroke-width="0.8"/>
<path d="M346.6,28.5 L346.6,70.2" fill="none" stroke="#c4c4c4" stroke-width="0.8"/>
<path d="M304.3,28.5 L304.3,70.2 L346.6,70.2" fill="none" stroke="#9a9a9a" stroke-width="0.8"/>
<path d="M299.8,74.7 L299.8,58.5" stroke="#555" stroke-width="1.0" fill="none"/>
<path d="M299.8,55.3 L297.90000000000003,59.3 L301.7,59.3 Z" fill="#111"/>
<path d="M299.3,74.7 L316.3,74.7" stroke="#555" stroke-width="1.0" fill="none"/>
<path d="M319.40000000000003,74.7 L315.40000000000003,72.8 L315.40000000000003,76.60000000000001 Z" fill="#111"/>
<text x="307" y="82.2" font-size="5.5" text-anchor="middle" font-weight="normal" font-style="normal" fill="#1a1a1a">CD8</text>
<text x="298.2" y="68.5" font-size="5.3" text-anchor="middle" font-weight="normal" font-style="normal" fill="#1a1a1a" transform="rotate(-90 298.2 68.5)">CAR</text>
<path d="M359.2,28.5 L401.5,28.5" fill="none" stroke="#d4d4d4" stroke-width="0.8"/>
<path d="M401.5,28.5 L401.5,70.2" fill="none" stroke="#c4c4c4" stroke-width="0.8"/>
<path d="M359.2,28.5 L359.2,70.2 L401.5,70.2" fill="none" stroke="#9a9a9a" stroke-width="0.8"/>
<path d="M355.0,74.7 L355.0,58.5" stroke="#555" stroke-width="1.0" fill="none"/>
<path d="M355.0,55.3 L353.1,59.3 L356.9,59.3 Z" fill="#111"/>
<path d="M354.5,74.7 L371.5,74.7" stroke="#555" stroke-width="1.0" fill="none"/>
<path d="M374.6,74.7 L370.6,72.8 L370.6,76.60000000000001 Z" fill="#111"/>
<text x="363.4" y="82.2" font-size="5.5" text-anchor="middle" font-weight="normal" font-style="normal" fill="#1a1a1a">CD45RO</text>
<text x="353.2" y="70.1" font-size="5.3" text-anchor="middle" font-weight="normal" font-style="normal" fill="#1a1a1a" transform="rotate(-90 353.2 70.1)">CCR7</text>
<path d="M415.0,28.5 L457.3,28.5" fill="none" stroke="#d4d4d4" stroke-width="0.8"/>
<path d="M457.3,28.5 L457.3,70.2" fill="none" stroke="#c4c4c4" stroke-width="0.8"/>
<path d="M415.0,28.5 L415.0,70.2 L457.3,70.2" fill="none" stroke="#9a9a9a" stroke-width="0.8"/>
<path d="M411.0,74.7 L411.0,58.5" stroke="#555" stroke-width="1.0" fill="none"/>
<path d="M411.0,55.3 L409.1,59.3 L412.9,59.3 Z" fill="#111"/>
<path d="M410.5,74.7 L427.5,74.7" stroke="#555" stroke-width="1.0" fill="none"/>
<path d="M430.6,74.7 L426.6,72.8 L426.6,76.60000000000001 Z" fill="#111"/>
<text x="418.9" y="82.2" font-size="5.5" text-anchor="middle" font-weight="normal" font-style="normal" fill="#1a1a1a">CD45RA</text>
<text x="408.0" y="70.8" font-size="5.3" text-anchor="middle" font-weight="normal" font-style="normal" fill="#1a1a1a" transform="rotate(-90 408.0 70.8)">CD62L</text>
<path d="M469.8,28.5 L512.1,28.5" fill="none" stroke="#d4d4d4" stroke-width="0.8"/>
<path d="M512.1,28.5 L512.1,70.2" fill="none" stroke="#c4c4c4" stroke-width="0.8"/>
<path d="M469.8,28.5 L469.8,70.2 L512.1,70.2" fill="none" stroke="#9a9a9a" stroke-width="0.8"/>
<path d="M466.0,74.7 L466.0,58.5" stroke="#555" stroke-width="1.0" fill="none"/>
<path d="M466.0,55.3 L464.1,59.3 L467.9,59.3 Z" fill="#111"/>
<path d="M465.5,74.7 L482.5,74.7" stroke="#555" stroke-width="1.0" fill="none"/>
<path d="M485.6,74.7 L481.6,72.8 L481.6,76.60000000000001 Z" fill="#111"/>
<text x="472.4" y="82.2" font-size="5.5" text-anchor="middle" font-weight="normal" font-style="normal" fill="#1a1a1a">CD27</text>
<text x="463.2" y="69.1" font-size="5.3" text-anchor="middle" font-weight="normal" font-style="normal" fill="#1a1a1a" transform="rotate(-90 463.2 69.1)">CD95</text>
<path d="M27.2,118.8 L69.5,118.8" fill="none" stroke="#d4d4d4" stroke-width="0.8"/>
<path d="M69.5,118.8 L69.5,160.9" fill="none" stroke="#c4c4c4" stroke-width="0.8"/>
<path d="M27.2,118.8 L27.2,160.9 L69.5,160.9" fill="none" stroke="#9a9a9a" stroke-width="0.8"/>
<path d="M22.5,165.4 L22.5,148.8" stroke="#555" stroke-width="1.0" fill="none"/>
<path d="M22.5,145.6 L20.6,149.6 L24.4,149.6 Z" fill="#111"/>
<path d="M22.0,165.4 L39.0,165.4" stroke="#555" stroke-width="1.0" fill="none"/>
<path d="M42.1,165.4 L38.1,163.5 L38.1,167.3 Z" fill="#111"/>
<text x="30" y="172.9" font-size="5.5" text-anchor="middle" font-weight="normal" font-style="normal" fill="#1a1a1a">CD8</text>
<text x="21.099999999999998" y="159.7" font-size="5.3" text-anchor="middle" font-weight="normal" font-style="normal" fill="#1a1a1a" transform="rotate(-90 21.099999999999998 159.7)">CD3</text>
<path d="M82.5,118.8 L124.8,118.8" fill="none" stroke="#d4d4d4" stroke-width="0.8"/>
<path d="M124.8,118.8 L124.8,160.9" fill="none" stroke="#c4c4c4" stroke-width="0.8"/>
<path d="M82.5,118.8 L82.5,160.9 L124.8,160.9" fill="none" stroke="#9a9a9a" stroke-width="0.8"/>
<path d="M78.1,165.4 L78.1,148.8" stroke="#555" stroke-width="1.0" fill="none"/>
<path d="M78.1,145.6 L76.19999999999999,149.6 L80.0,149.6 Z" fill="#111"/>
<path d="M77.6,165.4 L94.6,165.4" stroke="#555" stroke-width="1.0" fill="none"/>
<path d="M97.69999999999999,165.4 L93.69999999999999,163.5 L93.69999999999999,167.3 Z" fill="#111"/>
<text x="87" y="172.9" font-size="5.5" text-anchor="middle" font-weight="normal" font-style="normal" fill="#1a1a1a">CD45RO</text>
<text x="76.0" y="159.4" font-size="5.3" text-anchor="middle" font-weight="normal" font-style="normal" fill="#1a1a1a" transform="rotate(-90 76.0 159.4)">CCR7</text>
<path d="M137.5,118.8 L179.8,118.8" fill="none" stroke="#d4d4d4" stroke-width="0.8"/>
<path d="M179.8,118.8 L179.8,160.9" fill="none" stroke="#c4c4c4" stroke-width="0.8"/>
<path d="M137.5,118.8 L137.5,160.9 L179.8,160.9" fill="none" stroke="#9a9a9a" stroke-width="0.8"/>
<path d="M133.8,165.4 L133.8,148.8" stroke="#555" stroke-width="1.0" fill="none"/>
<path d="M133.8,145.6 L131.9,149.6 L135.70000000000002,149.6 Z" fill="#111"/>
<path d="M133.3,165.4 L150.3,165.4" stroke="#555" stroke-width="1.0" fill="none"/>
<path d="M153.4,165.4 L149.4,163.5 L149.4,167.3 Z" fill="#111"/>
<text x="142" y="172.9" font-size="5.5" text-anchor="middle" font-weight="normal" font-style="normal" fill="#1a1a1a">CD45RA</text>
<text x="131.6" y="159.7" font-size="5.3" text-anchor="middle" font-weight="normal" font-style="normal" fill="#1a1a1a" transform="rotate(-90 131.6 159.7)">CD62L</text>
<path d="M192.5,118.8 L234.8,118.8" fill="none" stroke="#d4d4d4" stroke-width="0.8"/>
<path d="M234.8,118.8 L234.8,160.9" fill="none" stroke="#c4c4c4" stroke-width="0.8"/>
<path d="M192.5,118.8 L192.5,160.9 L234.8,160.9" fill="none" stroke="#9a9a9a" stroke-width="0.8"/>
<path d="M189.0,165.4 L189.0,148.8" stroke="#555" stroke-width="1.0" fill="none"/>
<path d="M189.0,145.6 L187.1,149.6 L190.9,149.6 Z" fill="#111"/>
<path d="M188.5,165.4 L205.5,165.4" stroke="#555" stroke-width="1.0" fill="none"/>
<path d="M208.6,165.4 L204.6,163.5 L204.6,167.3 Z" fill="#111"/>
<text x="196" y="172.9" font-size="5.5" text-anchor="middle" font-weight="normal" font-style="normal" fill="#1a1a1a">CD27</text>
<text x="187.20000000000002" y="158.60000000000002" font-size="5.3" text-anchor="middle" font-weight="normal" font-style="normal" fill="#1a1a1a" transform="rotate(-90 187.20000000000002 158.60000000000002)">CD95</text>
<path d="M304.3,118.8 L346.6,118.8" fill="none" stroke="#d4d4d4" stroke-width="0.8"/>
<path d="M346.6,118.8 L346.6,160.9" fill="none" stroke="#c4c4c4" stroke-width="0.8"/>
<path d="M304.3,118.8 L304.3,160.9 L346.6,160.9" fill="none" stroke="#9a9a9a" stroke-width="0.8"/>
<path d="M299.8,165.4 L299.8,148.8" stroke="#555" stroke-width="1.0" fill="none"/>
<path d="M299.8,145.6 L297.90000000000003,149.6 L301.7,149.6 Z" fill="#111"/>
<path d="M299.3,165.4 L316.3,165.4" stroke="#555" stroke-width="1.0" fill="none"/>
<path d="M319.40000000000003,165.4 L315.40000000000003,163.5 L315.40000000000003,167.3 Z" fill="#111"/>
<text x="307" y="172.9" font-size="5.5" text-anchor="middle" font-weight="normal" font-style="normal" fill="#1a1a1a">CD8</text>
<text x="298.2" y="159.2" font-size="5.3" text-anchor="middle" font-weight="normal" font-style="normal" fill="#1a1a1a" transform="rotate(-90 298.2 159.2)">CAR</text>
<path d="M359.2,118.8 L401.5,118.8" fill="none" stroke="#d4d4d4" stroke-width="0.8"/>
<path d="M401.5,118.8 L401.5,160.9" fill="none" stroke="#c4c4c4" stroke-width="0.8"/>
<path d="M359.2,118.8 L359.2,160.9 L401.5,160.9" fill="none" stroke="#9a9a9a" stroke-width="0.8"/>
<path d="M355.0,165.4 L355.0,148.8" stroke="#555" stroke-width="1.0" fill="none"/>
<path d="M355.0,145.6 L353.1,149.6 L356.9,149.6 Z" fill="#111"/>
<path d="M354.5,165.4 L371.5,165.4" stroke="#555" stroke-width="1.0" fill="none"/>
<path d="M374.6,165.4 L370.6,163.5 L370.6,167.3 Z" fill="#111"/>
<text x="363.4" y="172.9" font-size="5.5" text-anchor="middle" font-weight="normal" font-style="normal" fill="#1a1a1a">CD45RO</text>
<text x="353.2" y="160.8" font-size="5.3" text-anchor="middle" font-weight="normal" font-style="normal" fill="#1a1a1a" transform="rotate(-90 353.2 160.8)">CCR7</text>
<path d="M415.0,118.8 L457.3,118.8" fill="none" stroke="#d4d4d4" stroke-width="0.8"/>
<path d="M457.3,118.8 L457.3,160.9" fill="none" stroke="#c4c4c4" stroke-width="0.8"/>
<path d="M415.0,118.8 L415.0,160.9 L457.3,160.9" fill="none" stroke="#9a9a9a" stroke-width="0.8"/>
<path d="M411.0,165.4 L411.0,148.8" stroke="#555" stroke-width="1.0" fill="none"/>
<path d="M411.0,145.6 L409.1,149.6 L412.9,149.6 Z" fill="#111"/>
<path d="M410.5,165.4 L427.5,165.4" stroke="#555" stroke-width="1.0" fill="none"/>
<path d="M430.6,165.4 L426.6,163.5 L426.6,167.3 Z" fill="#111"/>
<text x="418.9" y="172.9" font-size="5.5" text-anchor="middle" font-weight="normal" font-style="normal" fill="#1a1a1a">CD45RA</text>
<text x="408.0" y="161.5" font-size="5.3" text-anchor="middle" font-weight="normal" font-style="normal" fill="#1a1a1a" transform="rotate(-90 408.0 161.5)">CD62L</text>
<path d="M469.8,118.8 L512.1,118.8" fill="none" stroke="#d4d4d4" stroke-width="0.8"/>
<path d="M512.1,118.8 L512.1,160.9" fill="none" stroke="#c4c4c4" stroke-width="0.8"/>
<path d="M469.8,118.8 L469.8,160.9 L512.1,160.9" fill="none" stroke="#9a9a9a" stroke-width="0.8"/>
<path d="M466.0,165.4 L466.0,148.8" stroke="#555" stroke-width="1.0" fill="none"/>
<path d="M466.0,145.6 L464.1,149.6 L467.9,149.6 Z" fill="#111"/>
<path d="M465.5,165.4 L482.5,165.4" stroke="#555" stroke-width="1.0" fill="none"/>
<path d="M485.6,165.4 L481.6,163.5 L481.6,167.3 Z" fill="#111"/>
<text x="472.4" y="172.9" font-size="5.5" text-anchor="middle" font-weight="normal" font-style="normal" fill="#1a1a1a">CD27</text>
<text x="463.2" y="159.8" font-size="5.3" text-anchor="middle" font-weight="normal" font-style="normal" fill="#1a1a1a" transform="rotate(-90 463.2 159.8)">CD95</text>
<text x="51" y="40.6" font-size="5.3" text-anchor="middle" font-weight="normal" font-style="normal" fill="#1a1a1a">31</text>
<text x="87.3" y="40.6" font-size="5.3" text-anchor="middle" font-weight="normal" font-style="normal" fill="#1a1a1a">14</text>
<text x="160.7" y="42.6" font-size="5.3" text-anchor="middle" font-weight="normal" font-style="normal" fill="#1a1a1a">88</text>
<text x="207.6" y="34.2" font-size="5.3" text-anchor="middle" font-weight="normal" font-style="normal" fill="#1a1a1a">17</text>
<text x="323.6" y="34.2" font-size="5.3" text-anchor="middle" font-weight="normal" font-style="normal" fill="#1a1a1a">50</text>
<text x="365" y="34.2" font-size="5.3" text-anchor="middle" font-weight="normal" font-style="normal" fill="#1a1a1a">4</text>
<text x="442" y="34.5" font-size="5.3" text-anchor="middle" font-weight="normal" font-style="normal" fill="#1a1a1a">41</text>
<text x="491.4" y="33.5" font-size="5.3" text-anchor="middle" font-weight="normal" font-style="normal" fill="#1a1a1a">82</text>
<text x="50.5" y="130.6" font-size="5.3" text-anchor="middle" font-weight="normal" font-style="normal" fill="#1a1a1a">94</text>
<text x="88.8" y="130.6" font-size="5.3" text-anchor="middle" font-weight="normal" font-style="normal" fill="#1a1a1a">62</text>
<text x="161.4" y="131.4" font-size="5.3" text-anchor="middle" font-weight="normal" font-style="normal" fill="#1a1a1a">94</text>
<text x="207.3" y="124.2" font-size="5.3" text-anchor="middle" font-weight="normal" font-style="normal" fill="#1a1a1a">15</text>
<text x="323.6" y="125.2" font-size="5.3" text-anchor="middle" font-weight="normal" font-style="normal" fill="#1a1a1a">71</text>
<text x="365" y="125.2" font-size="5.3" text-anchor="middle" font-weight="normal" font-style="normal" fill="#1a1a1a">80</text>
<text x="441.4" y="125.2" font-size="5.3" text-anchor="middle" font-weight="normal" font-style="normal" fill="#1a1a1a">75</text>
<text x="491.4" y="123.9" font-size="5.3" text-anchor="middle" font-weight="normal" font-style="normal" fill="#1a1a1a">97</text>
<line x1="60" y1="45.5" x2="72.6" y2="45.5" stroke="#1a1a1a" stroke-width="1.0"/>
<path d="M76.2,45.5 L72.3,43.5 L72.3,47.5 Z" fill="#1a1a1a"/>
<line x1="94" y1="45.5" x2="131.6" y2="45.5" stroke="#1a1a1a" stroke-width="1.0"/>
<path d="M135.2,45.5 L131.29999999999998,43.5 L131.29999999999998,47.5 Z" fill="#1a1a1a"/>
<line x1="166.4" y1="45.1" x2="185.0" y2="45.1" stroke="#1a1a1a" stroke-width="1.0"/>
<path d="M188.6,45.1 L184.7,43.1 L184.7,47.1 Z" fill="#1a1a1a"/>
<line x1="344.2" y1="40.7" x2="353.6" y2="40.7" stroke="#1a1a1a" stroke-width="1.0"/>
<path d="M357.2,40.7 L353.3,38.7 L353.3,42.7 Z" fill="#1a1a1a"/>
<line x1="374.5" y1="40.7" x2="409.00000000000006" y2="40.7" stroke="#1a1a1a" stroke-width="1.0"/>
<path d="M412.6,40.7 L408.70000000000005,38.7 L408.70000000000005,42.7 Z" fill="#1a1a1a"/>
<line x1="451.4" y1="39.7" x2="463.6" y2="39.7" stroke="#1a1a1a" stroke-width="1.0"/>
<path d="M467.2,39.7 L463.3,37.7 L463.3,41.7 Z" fill="#1a1a1a"/>
<line x1="58.3" y1="135.5" x2="73.6" y2="135.5" stroke="#1a1a1a" stroke-width="1.0"/>
<path d="M77.2,135.5 L73.3,133.5 L73.3,137.5 Z" fill="#1a1a1a"/>
<line x1="96.3" y1="135.5" x2="131.6" y2="135.5" stroke="#1a1a1a" stroke-width="1.0"/>
<path d="M135.2,135.5 L131.29999999999998,133.5 L131.29999999999998,137.5 Z" fill="#1a1a1a"/>
<line x1="169.9" y1="134.5" x2="186.6" y2="134.5" stroke="#1a1a1a" stroke-width="1.0"/>
<path d="M190.2,134.5 L186.29999999999998,132.5 L186.29999999999998,136.5 Z" fill="#1a1a1a"/>
<line x1="344" y1="130.7" x2="353.6" y2="130.7" stroke="#1a1a1a" stroke-width="1.0"/>
<path d="M357.2,130.7 L353.3,128.7 L353.3,132.7 Z" fill="#1a1a1a"/>
<line x1="382.6" y1="130.7" x2="409.00000000000006" y2="130.7" stroke="#1a1a1a" stroke-width="1.0"/>
<path d="M412.6,130.7 L408.70000000000005,128.7 L408.70000000000005,132.7 Z" fill="#1a1a1a"/>
<line x1="451.4" y1="130.7" x2="463.6" y2="130.7" stroke="#1a1a1a" stroke-width="1.0"/>
<path d="M467.2,130.7 L463.3,128.7 L463.3,132.7 Z" fill="#1a1a1a"/>
<line x1="240.2" y1="51.6" x2="294.1" y2="51.6" stroke="#1a1a1a" stroke-width="1.15"/>
<path d="M298,51.6 L293.8,49.5 L293.8,53.7 Z" fill="#1a1a1a"/>
<line x1="240.2" y1="140.7" x2="294.1" y2="140.7" stroke="#1a1a1a" stroke-width="1.15"/>
<path d="M298,140.7 L293.8,138.6 L293.8,142.79999999999998 Z" fill="#1a1a1a"/>
<text x="264.2" y="47.6" font-size="5.6" text-anchor="middle" font-weight="normal" font-style="italic" fill="#1a1a1a">&#945;-CD3 + IL-2</text>
<text x="297.7" y="129.2" font-size="5.6" text-anchor="end" font-weight="normal" font-style="italic" fill="#1a1a1a">&#945;-CD3/CD28 + IL-7</text>
<text x="297.7" y="135.8" font-size="5.6" text-anchor="end" font-weight="normal" font-style="italic" fill="#1a1a1a">+ IL-21 + TWS119</text>
<text x="131.9" y="25.5" font-size="5.3" text-anchor="middle" font-weight="normal" font-style="normal" fill="#1a1a1a">PBMC</text>
<text x="410.8" y="26.1" font-size="5.3" text-anchor="middle" font-weight="normal" font-style="normal" fill="#1a1a1a">Standard</text>
<line x1="129.0" y1="83.8" x2="129.0" y2="87.4" stroke="#222" stroke-width="1.2"/>
<text x="134.6" y="98" font-size="5.5" text-anchor="middle" font-weight="normal" font-style="italic" fill="#1a1a1a">Streptamer-Fabs</text>
<line x1="128.9" y1="101.0" x2="128.9" y2="104.7" stroke="#222" stroke-width="1.1"/>
<path d="M128.9,108.2 L126.80000000000001,104.4 L131.0,104.4 Z" fill="#222"/>
<text x="118.6" y="114.8" font-size="5.3" fill="#1a1a1a">T<tspan font-size="3.4" dy="1.2">N</tspan><tspan dy="-1.2">-enriched</tspan></text>
<text x="395.8" y="115" font-size="5.3" fill="#1a1a1a">T<tspan font-size="3.4" dy="1.2">SCM</tspan><tspan dy="-1.2">-enriched</tspan></text>
<text x="7.3" y="15.7" font-size="11.3" text-anchor="start" font-weight="bold" font-style="normal" fill="#000">A</text>
<text x="7.5" y="199.8" font-size="11.3" text-anchor="start" font-weight="bold" font-style="normal" fill="#000">B</text>
<text x="123.5" y="200" font-size="11.3" text-anchor="start" font-weight="bold" font-style="normal" fill="#000">C</text>
<text x="235.3" y="199.8" font-size="11.3" text-anchor="start" font-weight="bold" font-style="normal" fill="#000">D</text>
<text x="422.8" y="199.8" font-size="11.3" text-anchor="start" font-weight="bold" font-style="normal" fill="#000">E</text>
<line x1="31.3" y1="214.4" x2="31.3" y2="279.2" stroke="#111" stroke-width="1.1"/>
<line x1="30.8" y1="278.6" x2="79" y2="278.6" stroke="#111" stroke-width="1.1"/>
<line x1="29" y1="216.3" x2="31.3" y2="216.3" stroke="#111" stroke-width="0.8"/>
<text x="28.2" y="218.10000000000002" font-size="5.0" text-anchor="end" font-weight="normal" font-style="normal" fill="#1a1a1a">100</text>
<line x1="29" y1="247.3" x2="31.3" y2="247.3" stroke="#111" stroke-width="0.8"/>
<text x="28.2" y="249.10000000000002" font-size="5.0" text-anchor="end" font-weight="normal" font-style="normal" fill="#1a1a1a">10</text>
<line x1="29" y1="278.6" x2="31.3" y2="278.6" stroke="#111" stroke-width="0.8"/>
<text x="28.2" y="280.40000000000003" font-size="5.0" text-anchor="end" font-weight="normal" font-style="normal" fill="#1a1a1a">1</text>
<line x1="43.3" y1="278.6" x2="43.3" y2="280.8" stroke="#111" stroke-width="0.8"/>
<line x1="67.4" y1="278.6" x2="67.4" y2="280.8" stroke="#111" stroke-width="0.8"/>
<text x="13.4" y="247.8" font-size="5.3" text-anchor="middle" font-weight="normal" font-style="normal" fill="#1a1a1a" transform="rotate(-90 13.4 247.8)">Fold expansion</text>
<text x="45.5" y="288.0" font-size="5.3" text-anchor="end" font-weight="normal" font-style="normal" fill="#1a1a1a" transform="rotate(-45 45.5 288.0)">Standard</text>
<text x="69.2" y="288.8" font-size="5.3" text-anchor="end" fill="#1a1a1a" transform="rotate(-45 69.2 288.8)">T<tspan font-size="4.0" dy="1.2">SCM</tspan><tspan dy="-1.2">-enriched</tspan></text>
<line x1="44.1" y1="213.3" x2="66.4" y2="213.3" stroke="#111" stroke-width="0.9"/>
<text x="55.2" y="211.6" font-size="8" text-anchor="middle" font-weight="bold" font-style="normal" fill="#1a1a1a">*</text>
<circle cx="88.4" cy="219.79999999999998" r="2.4" fill="#000"/>
<text x="94" y="221.6" font-size="5.4" text-anchor="start" font-weight="normal" font-style="normal" fill="#1a1a1a">HD 1</text>
<circle cx="88.4" cy="226.9" r="1.7999999999999998" fill="#fff" stroke="#000" stroke-width="1.2"/>
<text x="94" y="228.70000000000002" font-size="5.4" text-anchor="start" font-weight="normal" font-style="normal" fill="#1a1a1a">HD 2</text>
<rect x="86.2" y="231.7" width="4.3999999999999995" height="4.3999999999999995" fill="#000"/>
<text x="94" y="235.70000000000002" font-size="5.4" text-anchor="start" font-weight="normal" font-style="normal" fill="#1a1a1a">HD 3</text>
<rect x="86.7" y="239.09999999999997" width="3.4" height="3.4" fill="#fff" stroke="#000" stroke-width="1.2"/>
<text x="94" y="242.6" font-size="5.4" text-anchor="start" font-weight="normal" font-style="normal" fill="#1a1a1a">HD 4</text>
<path d="M88.40,245.25 L89.54,246.53 L91.11,247.22 L90.24,248.70 L90.08,250.41 L88.40,250.04 L86.72,250.41 L86.56,248.70 L85.69,247.22 L87.26,246.53 Z" fill="#000" stroke="#000" stroke-width="0.5" stroke-linejoin="round"/>
<text x="94" y="249.6" font-size="5.4" text-anchor="start" font-weight="normal" font-style="normal" fill="#1a1a1a">HD 5</text>
<path d="M88.40,252.40 L89.35,253.70 L90.87,254.20 L89.93,255.50 L89.93,257.10 L88.40,256.61 L86.87,257.10 L86.87,255.50 L85.93,254.20 L87.45,253.70 Z" fill="#fff" stroke="#000" stroke-width="1.0" stroke-linejoin="round"/>
<text x="94" y="256.5" font-size="5.4" text-anchor="start" font-weight="normal" font-style="normal" fill="#1a1a1a">HD 6</text>
<circle cx="202.9" cy="219.79999999999998" r="2.4" fill="#000"/>
<text x="209.6" y="221.6" font-size="5.4" text-anchor="start" font-weight="normal" font-style="normal" fill="#1a1a1a">HD 1</text>
<circle cx="202.9" cy="226.9" r="1.7999999999999998" fill="#fff" stroke="#000" stroke-width="1.2"/>
<text x="209.6" y="228.70000000000002" font-size="5.4" text-anchor="start" font-weight="normal" font-style="normal" fill="#1a1a1a">HD 2</text>
<rect x="200.7" y="231.7" width="4.3999999999999995" height="4.3999999999999995" fill="#000"/>
<text x="209.6" y="235.70000000000002" font-size="5.4" text-anchor="start" font-weight="normal" font-style="normal" fill="#1a1a1a">HD 3</text>
<rect x="201.2" y="239.09999999999997" width="3.4" height="3.4" fill="#fff" stroke="#000" stroke-width="1.2"/>
<text x="209.6" y="242.6" font-size="5.4" text-anchor="start" font-weight="normal" font-style="normal" fill="#1a1a1a">HD 4</text>
<path d="M202.90,245.25 L204.04,246.53 L205.61,247.22 L204.74,248.70 L204.58,250.41 L202.90,250.04 L201.22,250.41 L201.06,248.70 L200.19,247.22 L201.76,246.53 Z" fill="#000" stroke="#000" stroke-width="0.5" stroke-linejoin="round"/>
<text x="209.6" y="249.6" font-size="5.4" text-anchor="start" font-weight="normal" font-style="normal" fill="#1a1a1a">HD 5</text>
<path d="M202.90,252.40 L203.85,253.70 L205.37,254.20 L204.43,255.50 L204.43,257.10 L202.90,256.61 L201.37,257.10 L201.37,255.50 L200.43,254.20 L201.95,253.70 Z" fill="#fff" stroke="#000" stroke-width="1.0" stroke-linejoin="round"/>
<text x="209.6" y="256.5" font-size="5.4" text-anchor="start" font-weight="normal" font-style="normal" fill="#1a1a1a">HD 6</text>
<line x1="39.4" y1="227.2" x2="47.7" y2="227.2" stroke="#000" stroke-width="1.2"/>
<line x1="43.5" y1="227.2" x2="43.5" y2="237.5" stroke="#000" stroke-width="1.1"/>
<rect x="41.650000000000006" y="218.04999999999998" width="2.9" height="2.9" fill="#fff" stroke="#000" stroke-width="1.2"/>
<path d="M43.3,227.8 L45.099999999999994,230.70000000000002 L41.5,230.70000000000002 Z" fill="#fff" stroke="#000" stroke-width="0.95" stroke-linejoin="round"/>
<path d="M43.70,234.30 L44.74,235.47 L46.17,236.10 L45.38,237.45 L45.23,239.00 L43.70,238.67 L42.17,239.00 L42.02,237.45 L41.23,236.10 L42.66,235.47 Z" fill="#000" stroke="#000" stroke-width="0.5" stroke-linejoin="round"/>
<circle cx="38.0" cy="233.4" r="1.5499999999999998" fill="#fff" stroke="#000" stroke-width="1.2"/>
<rect x="41.050000000000004" y="231.35" width="3.9" height="3.9" fill="#000"/>
<rect x="44.050000000000004" y="231.04999999999998" width="3.9" height="3.9" fill="#000"/>
<path d="M49.0,230.25 L51.449999999999996,234.65 L46.550000000000004,234.65 Z" fill="#000"/>
<line x1="35.5" y1="230.5" x2="51.8" y2="230.5" stroke="#000" stroke-width="1.3"/>
<circle cx="43.6" cy="252.8" r="2.15" fill="#000"/>
<rect x="65.55" y="240.95" width="2.9" height="2.9" fill="#fff" stroke="#000" stroke-width="1.2"/>
<circle cx="64.2" cy="250.5" r="1.5499999999999998" fill="#fff" stroke="#000" stroke-width="1.2"/>
<rect x="68.45" y="247.95" width="3.9" height="3.9" fill="#000"/>
<line x1="59.5" y1="253.3" x2="75.4" y2="253.3" stroke="#000" stroke-width="1.3"/>
<line x1="67.3" y1="253.3" x2="67.3" y2="257.5" stroke="#000" stroke-width="1.1"/>
<line x1="63" y1="257.5" x2="72" y2="257.5" stroke="#000" stroke-width="1.2"/>
<path d="M64.5,258.65000000000003 L66.95,263.04999999999995 L62.050000000000004,263.04999999999995 Z" fill="#000"/>
<circle cx="70.4" cy="261.2" r="2.15" fill="#000"/>
<path d="M67.3,271.45 L69.35000000000001,274.84999999999997 L65.24999999999999,274.84999999999997 Z" fill="#fff" stroke="#000" stroke-width="0.95" stroke-linejoin="round"/>
<line x1="146.6" y1="214.8" x2="146.6" y2="279.3" stroke="#111" stroke-width="1.1"/>
<line x1="146.1" y1="278.8" x2="195" y2="278.8" stroke="#111" stroke-width="1.1"/>
<line x1="144.3" y1="216.3" x2="146.6" y2="216.3" stroke="#111" stroke-width="0.8"/>
<text x="143.4" y="218.10000000000002" font-size="5.0" text-anchor="end" font-weight="normal" font-style="normal" fill="#1a1a1a">100</text>
<line x1="144.3" y1="228.8" x2="146.6" y2="228.8" stroke="#111" stroke-width="0.8"/>
<text x="143.4" y="230.60000000000002" font-size="5.0" text-anchor="end" font-weight="normal" font-style="normal" fill="#1a1a1a">80</text>
<line x1="144.3" y1="241.3" x2="146.6" y2="241.3" stroke="#111" stroke-width="0.8"/>
<text x="143.4" y="243.10000000000002" font-size="5.0" text-anchor="end" font-weight="normal" font-style="normal" fill="#1a1a1a">60</text>
<line x1="144.3" y1="253.8" x2="146.6" y2="253.8" stroke="#111" stroke-width="0.8"/>
<text x="143.4" y="255.60000000000002" font-size="5.0" text-anchor="end" font-weight="normal" font-style="normal" fill="#1a1a1a">40</text>
<line x1="144.3" y1="266.3" x2="146.6" y2="266.3" stroke="#111" stroke-width="0.8"/>
<text x="143.4" y="268.1" font-size="5.0" text-anchor="end" font-weight="normal" font-style="normal" fill="#1a1a1a">20</text>
<line x1="144.3" y1="278.8" x2="146.6" y2="278.8" stroke="#111" stroke-width="0.8"/>
<text x="143.4" y="280.6" font-size="5.0" text-anchor="end" font-weight="normal" font-style="normal" fill="#1a1a1a">0</text>
<line x1="158.7" y1="278.8" x2="158.7" y2="281" stroke="#111" stroke-width="0.8"/>
<line x1="183.2" y1="278.8" x2="183.2" y2="281" stroke="#111" stroke-width="0.8"/>
<text x="130.3" y="247.5" font-size="5.3" text-anchor="middle" font-weight="normal" font-style="normal" fill="#1a1a1a" transform="rotate(-90 130.3 247.5)">Transduction (%)</text>
<text x="161.0" y="288.6" font-size="5.3" text-anchor="end" font-weight="normal" font-style="normal" fill="#1a1a1a" transform="rotate(-45 161.0 288.6)">Standard</text>
<text x="184.8" y="288.8" font-size="5.3" text-anchor="end" fill="#1a1a1a" transform="rotate(-45 184.8 288.8)">T<tspan font-size="4.0" dy="1.2">SCM</tspan><tspan dy="-1.2">-enriched</tspan></text>
<line x1="151.5" y1="226.3" x2="166" y2="226.3" stroke="#000" stroke-width="1.3"/>
<path d="M153.5,222.75 L155.55,226.15 L151.45,226.15 Z" fill="#fff" stroke="#000" stroke-width="0.95" stroke-linejoin="round"/>
<path d="M157.0,224.15 L159.45000000000002,228.55 L154.54999999999998,228.55 Z" fill="#000"/>
<circle cx="161.0" cy="227.0" r="2.15" fill="#000"/>
<rect x="163.04999999999998" y="222.54999999999998" width="3.9" height="3.9" fill="#000"/>
<rect x="157.54999999999998" y="221.35" width="2.9" height="2.9" fill="#fff" stroke="#000" stroke-width="1.2"/>
<circle cx="158.7" cy="229.5" r="1.5499999999999998" fill="#fff" stroke="#000" stroke-width="1.2"/>
<circle cx="174.8" cy="229.5" r="2.15" fill="#000"/>
<rect x="186.35" y="225.35" width="3.9" height="3.9" fill="#000"/>
<line x1="175" y1="232.8" x2="189.5" y2="232.8" stroke="#000" stroke-width="1.3"/>
<circle cx="177.9" cy="233.6" r="1.5499999999999998" fill="#fff" stroke="#000" stroke-width="1.2"/>
<path d="M184.5,230.25 L186.95000000000002,234.65 L182.04999999999998,234.65 Z" fill="#000"/>
<path d="M188.3,232.25 L190.35000000000002,235.65 L186.25,235.65 Z" fill="#fff" stroke="#000" stroke-width="0.95" stroke-linejoin="round"/>
<rect x="181.35" y="237.64999999999998" width="2.9" height="2.9" fill="#fff" stroke="#000" stroke-width="1.2"/>
<line x1="259.3" y1="214.4" x2="259.3" y2="278.8" stroke="#111" stroke-width="1.1"/>
<line x1="258.8" y1="278.6" x2="317" y2="278.6" stroke="#111" stroke-width="1.1"/>
<line x1="257.1" y1="216.0" x2="259.3" y2="216.0" stroke="#111" stroke-width="0.8"/>
<line x1="258.1" y1="230.5385760901892" x2="259.3" y2="230.5385760901892" stroke="#111" stroke-width="0.6"/>
<line x1="258.1" y1="226.87587790183102" x2="259.3" y2="226.87587790183102" stroke="#111" stroke-width="0.6"/>
<line x1="258.1" y1="224.27715218037838" x2="259.3" y2="224.27715218037838" stroke="#111" stroke-width="0.6"/>
<line x1="258.1" y1="222.26142390981082" x2="259.3" y2="222.26142390981082" stroke="#111" stroke-width="0.6"/>
<line x1="258.1" y1="220.61445399202023" x2="259.3" y2="220.61445399202023" stroke="#111" stroke-width="0.6"/>
<line x1="258.1" y1="219.22196076770348" x2="259.3" y2="219.22196076770348" stroke="#111" stroke-width="0.6"/>
<line x1="258.1" y1="218.0157282705676" x2="259.3" y2="218.0157282705676" stroke="#111" stroke-width="0.6"/>
<line x1="258.1" y1="216.95175580366205" x2="259.3" y2="216.95175580366205" stroke="#111" stroke-width="0.6"/>
<line x1="257.1" y1="236.8" x2="259.3" y2="236.8" stroke="#111" stroke-width="0.8"/>
<line x1="258.1" y1="251.3385760901892" x2="259.3" y2="251.3385760901892" stroke="#111" stroke-width="0.6"/>
<line x1="258.1" y1="247.67587790183103" x2="259.3" y2="247.67587790183103" stroke="#111" stroke-width="0.6"/>
<line x1="258.1" y1="245.0771521803784" x2="259.3" y2="245.0771521803784" stroke="#111" stroke-width="0.6"/>
<line x1="258.1" y1="243.06142390981083" x2="259.3" y2="243.06142390981083" stroke="#111" stroke-width="0.6"/>
<line x1="258.1" y1="241.41445399202024" x2="259.3" y2="241.41445399202024" stroke="#111" stroke-width="0.6"/>
<line x1="258.1" y1="240.0219607677035" x2="259.3" y2="240.0219607677035" stroke="#111" stroke-width="0.6"/>
<line x1="258.1" y1="238.8157282705676" x2="259.3" y2="238.8157282705676" stroke="#111" stroke-width="0.6"/>
<line x1="258.1" y1="237.75175580366206" x2="259.3" y2="237.75175580366206" stroke="#111" stroke-width="0.6"/>
<line x1="257.1" y1="257.6" x2="259.3" y2="257.6" stroke="#111" stroke-width="0.8"/>
<line x1="258.1" y1="272.13857609018925" x2="259.3" y2="272.13857609018925" stroke="#111" stroke-width="0.6"/>
<line x1="258.1" y1="268.47587790183104" x2="259.3" y2="268.47587790183104" stroke="#111" stroke-width="0.6"/>
<line x1="258.1" y1="265.8771521803784" x2="259.3" y2="265.8771521803784" stroke="#111" stroke-width="0.6"/>
<line x1="258.1" y1="263.86142390981087" x2="259.3" y2="263.86142390981087" stroke="#111" stroke-width="0.6"/>
<line x1="258.1" y1="262.21445399202025" x2="259.3" y2="262.21445399202025" stroke="#111" stroke-width="0.6"/>
<line x1="258.1" y1="260.8219607677035" x2="259.3" y2="260.8219607677035" stroke="#111" stroke-width="0.6"/>
<line x1="258.1" y1="259.6157282705676" x2="259.3" y2="259.6157282705676" stroke="#111" stroke-width="0.6"/>
<line x1="258.1" y1="258.5517558036621" x2="259.3" y2="258.5517558036621" stroke="#111" stroke-width="0.6"/>
<line x1="257.1" y1="278.4" x2="259.3" y2="278.4" stroke="#111" stroke-width="0.8"/>
<text x="257.0" y="217.8" font-size="5.0" text-anchor="end" font-weight="normal" font-style="normal" fill="#1a1a1a">100</text>
<text x="257.0" y="238.60000000000002" font-size="5.0" text-anchor="end" font-weight="normal" font-style="normal" fill="#1a1a1a">10</text>
<text x="257.0" y="259.40000000000003" font-size="5.0" text-anchor="end" font-weight="normal" font-style="normal" fill="#1a1a1a">1</text>
<text x="257.0" y="280.2" font-size="5.0" text-anchor="end" font-weight="normal" font-style="normal" fill="#1a1a1a">0.1</text>
<line x1="265.1" y1="278.6" x2="265.1" y2="280.6" stroke="#111" stroke-width="0.8"/>
<line x1="276.3" y1="278.6" x2="276.3" y2="280.6" stroke="#111" stroke-width="0.8"/>
<line x1="288.2" y1="278.6" x2="288.2" y2="280.6" stroke="#111" stroke-width="0.8"/>
<line x1="299.7" y1="278.6" x2="299.7" y2="280.6" stroke="#111" stroke-width="0.8"/>
<line x1="311.6" y1="278.6" x2="311.6" y2="280.6" stroke="#111" stroke-width="0.8"/>
<text x="286.9" y="208.9" font-size="5.3" text-anchor="middle" font-weight="normal" font-style="normal" fill="#1a1a1a">Standard</text>
<text x="244.3" y="247" font-size="5.3" text-anchor="middle" font-weight="normal" font-style="normal" fill="#1a1a1a" transform="rotate(-90 244.3 247)">CD8<tspan font-size="3.4" dy="-1.8">+</tspan><tspan dy="1.8"> T cells (%)</tspan></text>
<line x1="265.2" y1="237.3" x2="265.2" y2="246.2" stroke="#000" stroke-width="1.15"/>
<line x1="265.2" y1="260.0" x2="265.2" y2="267.7" stroke="#000" stroke-width="1.15"/>
<line x1="262.8" y1="237.3" x2="267.59999999999997" y2="237.3" stroke="#000" stroke-width="1.3" stroke-linecap="round"/>
<line x1="262.8" y1="267.7" x2="267.59999999999997" y2="267.7" stroke="#000" stroke-width="1.3" stroke-linecap="round"/>
<rect x="261.5" y="246.2" width="7.4" height="13.800000000000011" fill="#d2d2d2"/>
<line x1="261.5" y1="254.6" x2="268.9" y2="254.6" stroke="#000" stroke-width="1.3"/>
<line x1="277.0" y1="230.7" x2="277.0" y2="236.2" stroke="#000" stroke-width="1.15"/>
<line x1="277.0" y1="246.2" x2="277.0" y2="247.2" stroke="#000" stroke-width="1.15"/>
<line x1="274.6" y1="230.7" x2="279.4" y2="230.7" stroke="#000" stroke-width="1.3" stroke-linecap="round"/>
<line x1="274.6" y1="247.2" x2="279.4" y2="247.2" stroke="#000" stroke-width="1.3" stroke-linecap="round"/>
<rect x="273.0" y="236.2" width="8.0" height="10.0" fill="#d2d2d2"/>
<line x1="273.0" y1="241.5" x2="281.0" y2="241.5" stroke="#000" stroke-width="1.3"/>
<line x1="288.5" y1="227.3" x2="288.5" y2="227.5" stroke="#000" stroke-width="1.15"/>
<line x1="288.5" y1="235.3" x2="288.5" y2="242.0" stroke="#000" stroke-width="1.15"/>
<line x1="286.1" y1="227.3" x2="290.9" y2="227.3" stroke="#000" stroke-width="1.3" stroke-linecap="round"/>
<line x1="286.1" y1="242.0" x2="290.9" y2="242.0" stroke="#000" stroke-width="1.3" stroke-linecap="round"/>
<rect x="284.7" y="227.5" width="7.6" height="7.800000000000011" fill="#d2d2d2"/>
<line x1="284.7" y1="227.6" x2="292.3" y2="227.6" stroke="#000" stroke-width="1.3"/>
<line x1="299.8" y1="218.7" x2="299.8" y2="219.4" stroke="#000" stroke-width="1.15"/>
<line x1="299.8" y1="222.0" x2="299.8" y2="228.1" stroke="#000" stroke-width="1.15"/>
<line x1="297.40000000000003" y1="218.7" x2="302.2" y2="218.7" stroke="#000" stroke-width="1.3" stroke-linecap="round"/>
<line x1="297.40000000000003" y1="228.1" x2="302.2" y2="228.1" stroke="#000" stroke-width="1.3" stroke-linecap="round"/>
<rect x="296.1" y="219.4" width="7.4" height="2.5999999999999943" fill="#d2d2d2"/>
<line x1="296.1" y1="221.0" x2="303.5" y2="221.0" stroke="#000" stroke-width="1.3"/>
<line x1="311.8" y1="225.4" x2="311.8" y2="231.9" stroke="#000" stroke-width="1.15"/>
<line x1="311.8" y1="238.7" x2="311.8" y2="242.2" stroke="#000" stroke-width="1.15"/>
<line x1="309.40000000000003" y1="225.4" x2="314.2" y2="225.4" stroke="#000" stroke-width="1.3" stroke-linecap="round"/>
<line x1="309.40000000000003" y1="242.2" x2="314.2" y2="242.2" stroke="#000" stroke-width="1.3" stroke-linecap="round"/>
<rect x="307.6" y="231.9" width="8.4" height="6.799999999999983" fill="#d2d2d2"/>
<line x1="307.6" y1="238.0" x2="316.0" y2="238.0" stroke="#000" stroke-width="1.3"/>
<text x="266.90000000000003" y="285.6" font-size="5.3" text-anchor="end" fill="#1a1a1a" transform="rotate(-45 266.90000000000003 285.6)">T<tspan font-size="4.0" dy="1.2">SCM</tspan></text>
<text x="278.1" y="285.6" font-size="5.3" text-anchor="end" fill="#1a1a1a" transform="rotate(-45 278.1 285.6)">Other</text>
<text x="290.0" y="285.6" font-size="5.3" text-anchor="end" fill="#1a1a1a" transform="rotate(-45 290.0 285.6)">T<tspan font-size="4.0" dy="1.2">CM</tspan></text>
<text x="301.5" y="285.6" font-size="5.3" text-anchor="end" fill="#1a1a1a" transform="rotate(-45 301.5 285.6)">T<tspan font-size="4.0" dy="1.2">EM</tspan></text>
<text x="313.40000000000003" y="285.6" font-size="5.3" text-anchor="end" fill="#1a1a1a" transform="rotate(-45 313.40000000000003 285.6)">T<tspan font-size="4.0" dy="1.2">TE</tspan></text>
<defs><linearGradient id="tg" x1="0" x2="1" y1="0" y2="0"><stop offset="0" stop-color="#c4c4c4"/><stop offset="1" stop-color="#5a5a5a"/></linearGradient></defs>
<path d="M256.4,302.4 L319.6,296.3 L319.6,302.4 Z" fill="url(#tg)"/>
<path d="M345,302.4 L409.4,296.2 L409.4,302.4 Z" fill="url(#tg)"/>
<text x="288.7" y="309.5" font-size="5.4" text-anchor="middle" font-weight="normal" font-style="normal" fill="#1a1a1a">Differentiation</text>
<text x="377.2" y="309.6" font-size="5.4" text-anchor="middle" font-weight="normal" font-style="normal" fill="#1a1a1a">Differentiation</text>
<line x1="348.1" y1="214.6" x2="348.1" y2="279.3" stroke="#111" stroke-width="1.1"/>
<line x1="347.6" y1="278.8" x2="406.5" y2="278.8" stroke="#111" stroke-width="1.1"/>
<line x1="345.90000000000003" y1="215.7" x2="348.1" y2="215.7" stroke="#111" stroke-width="0.8"/>
<line x1="346.90000000000003" y1="230.30847309062278" x2="348.1" y2="230.30847309062278" stroke="#111" stroke-width="0.6"/>
<line x1="346.90000000000003" y1="226.62816577635905" x2="348.1" y2="226.62816577635905" stroke="#111" stroke-width="0.6"/>
<line x1="346.90000000000003" y1="224.01694618124557" x2="348.1" y2="224.01694618124557" stroke="#111" stroke-width="0.6"/>
<line x1="346.90000000000003" y1="221.9915269093772" x2="348.1" y2="221.9915269093772" stroke="#111" stroke-width="0.6"/>
<line x1="346.90000000000003" y1="220.33663886698184" x2="348.1" y2="220.33663886698184" stroke="#111" stroke-width="0.6"/>
<line x1="346.90000000000003" y1="218.93745096370202" x2="348.1" y2="218.93745096370202" stroke="#111" stroke-width="0.6"/>
<line x1="346.90000000000003" y1="217.72541927186836" x2="348.1" y2="217.72541927186836" stroke="#111" stroke-width="0.6"/>
<line x1="346.90000000000003" y1="216.65633155271811" x2="348.1" y2="216.65633155271811" stroke="#111" stroke-width="0.6"/>
<line x1="345.90000000000003" y1="236.6" x2="348.1" y2="236.6" stroke="#111" stroke-width="0.8"/>
<line x1="346.90000000000003" y1="251.2084730906228" x2="348.1" y2="251.2084730906228" stroke="#111" stroke-width="0.6"/>
<line x1="346.90000000000003" y1="247.52816577635906" x2="348.1" y2="247.52816577635906" stroke="#111" stroke-width="0.6"/>
<line x1="346.90000000000003" y1="244.91694618124558" x2="348.1" y2="244.91694618124558" stroke="#111" stroke-width="0.6"/>
<line x1="346.90000000000003" y1="242.8915269093772" x2="348.1" y2="242.8915269093772" stroke="#111" stroke-width="0.6"/>
<line x1="346.90000000000003" y1="241.23663886698185" x2="348.1" y2="241.23663886698185" stroke="#111" stroke-width="0.6"/>
<line x1="346.90000000000003" y1="239.83745096370203" x2="348.1" y2="239.83745096370203" stroke="#111" stroke-width="0.6"/>
<line x1="346.90000000000003" y1="238.6254192718684" x2="348.1" y2="238.6254192718684" stroke="#111" stroke-width="0.6"/>
<line x1="346.90000000000003" y1="237.55633155271812" x2="348.1" y2="237.55633155271812" stroke="#111" stroke-width="0.6"/>
<line x1="345.90000000000003" y1="257.5" x2="348.1" y2="257.5" stroke="#111" stroke-width="0.8"/>
<line x1="346.90000000000003" y1="272.1084730906228" x2="348.1" y2="272.1084730906228" stroke="#111" stroke-width="0.6"/>
<line x1="346.90000000000003" y1="268.42816577635904" x2="348.1" y2="268.42816577635904" stroke="#111" stroke-width="0.6"/>
<line x1="346.90000000000003" y1="265.81694618124556" x2="348.1" y2="265.81694618124556" stroke="#111" stroke-width="0.6"/>
<line x1="346.90000000000003" y1="263.7915269093772" x2="348.1" y2="263.7915269093772" stroke="#111" stroke-width="0.6"/>
<line x1="346.90000000000003" y1="262.1366388669818" x2="348.1" y2="262.1366388669818" stroke="#111" stroke-width="0.6"/>
<line x1="346.90000000000003" y1="260.73745096370203" x2="348.1" y2="260.73745096370203" stroke="#111" stroke-width="0.6"/>
<line x1="346.90000000000003" y1="259.5254192718684" x2="348.1" y2="259.5254192718684" stroke="#111" stroke-width="0.6"/>
<line x1="346.90000000000003" y1="258.4563315527181" x2="348.1" y2="258.4563315527181" stroke="#111" stroke-width="0.6"/>
<line x1="345.90000000000003" y1="278.4" x2="348.1" y2="278.4" stroke="#111" stroke-width="0.8"/>
<text x="345.4" y="217.5" font-size="5.0" text-anchor="end" font-weight="normal" font-style="normal" fill="#1a1a1a">100</text>
<text x="345.4" y="238.4" font-size="5.0" text-anchor="end" font-weight="normal" font-style="normal" fill="#1a1a1a">10</text>
<text x="345.4" y="259.3" font-size="5.0" text-anchor="end" font-weight="normal" font-style="normal" fill="#1a1a1a">1</text>
<text x="345.4" y="280.2" font-size="5.0" text-anchor="end" font-weight="normal" font-style="normal" fill="#1a1a1a">0.1</text>
<line x1="354.6" y1="278.8" x2="354.6" y2="280.9" stroke="#111" stroke-width="0.8"/>
<line x1="365.8" y1="278.8" x2="365.8" y2="280.9" stroke="#111" stroke-width="0.8"/>
<line x1="377.3" y1="278.8" x2="377.3" y2="280.9" stroke="#111" stroke-width="0.8"/>
<line x1="388.8" y1="278.8" x2="388.8" y2="280.9" stroke="#111" stroke-width="0.8"/>
<line x1="400.4" y1="278.8" x2="400.4" y2="280.9" stroke="#111" stroke-width="0.8"/>
<text x="375.3" y="209" font-size="5.3" text-anchor="middle" fill="#1a1a1a">T<tspan font-size="3.4" dy="1.2">SCM</tspan><tspan dy="-1.2">-enriched</tspan></text>
<text x="333.9" y="249.3" font-size="5.3" text-anchor="middle" font-weight="normal" font-style="normal" fill="#1a1a1a" transform="rotate(-90 333.9 249.3)">CD8<tspan font-size="3.4" dy="-1.8">+</tspan><tspan dy="1.8"> T cells (%)</tspan></text>
<line x1="354.3" y1="219.7" x2="354.3" y2="219.7" stroke="#000" stroke-width="1.15"/>
<line x1="354.3" y1="223.5" x2="354.3" y2="226.3" stroke="#000" stroke-width="1.15"/>
<line x1="351.90000000000003" y1="219.7" x2="356.7" y2="219.7" stroke="#000" stroke-width="1.3" stroke-linecap="round"/>
<line x1="351.90000000000003" y1="226.3" x2="356.7" y2="226.3" stroke="#000" stroke-width="1.3" stroke-linecap="round"/>
<rect x="350.40000000000003" y="219.7" width="7.8" height="3.8000000000000114" fill="#b31a32"/>
<line x1="350.40000000000003" y1="221.3" x2="358.2" y2="221.3" stroke="#3a0008" stroke-width="1.3"/>
<line x1="366.0" y1="228.6" x2="366.0" y2="228.6" stroke="#000" stroke-width="1.15"/>
<line x1="366.0" y1="233.5" x2="366.0" y2="233.6" stroke="#000" stroke-width="1.15"/>
<line x1="363.6" y1="228.6" x2="368.4" y2="228.6" stroke="#000" stroke-width="1.3" stroke-linecap="round"/>
<line x1="363.6" y1="233.6" x2="368.4" y2="233.6" stroke="#000" stroke-width="1.3" stroke-linecap="round"/>
<rect x="362.2" y="228.6" width="7.6" height="4.900000000000006" fill="#b31a32"/>
<line x1="362.2" y1="231.0" x2="369.8" y2="231.0" stroke="#3a0008" stroke-width="1.3"/>
<line x1="377.2" y1="229.1" x2="377.2" y2="232.9" stroke="#000" stroke-width="1.15"/>
<line x1="377.2" y1="242.9" x2="377.2" y2="248.5" stroke="#000" stroke-width="1.15"/>
<line x1="374.8" y1="229.1" x2="379.59999999999997" y2="229.1" stroke="#000" stroke-width="1.3" stroke-linecap="round"/>
<line x1="374.8" y1="248.5" x2="379.59999999999997" y2="248.5" stroke="#000" stroke-width="1.3" stroke-linecap="round"/>
<rect x="373.3" y="232.9" width="7.8" height="10.0" fill="#b31a32"/>
<line x1="373.3" y1="237.2" x2="381.09999999999997" y2="237.2" stroke="#3a0008" stroke-width="1.3"/>
<line x1="389.0" y1="227.2" x2="389.0" y2="230.4" stroke="#000" stroke-width="1.15"/>
<line x1="389.0" y1="242.3" x2="389.0" y2="245.5" stroke="#000" stroke-width="1.15"/>
<line x1="386.6" y1="227.2" x2="391.4" y2="227.2" stroke="#000" stroke-width="1.3" stroke-linecap="round"/>
<line x1="386.6" y1="245.5" x2="391.4" y2="245.5" stroke="#000" stroke-width="1.3" stroke-linecap="round"/>
<rect x="385.2" y="230.4" width="7.6" height="11.900000000000006" fill="#b31a32"/>
<line x1="385.2" y1="236.1" x2="392.8" y2="236.1" stroke="#3a0008" stroke-width="1.3"/>
<line x1="400.8" y1="237.6" x2="400.8" y2="240.0" stroke="#000" stroke-width="1.15"/>
<line x1="400.8" y1="253.6" x2="400.8" y2="264.0" stroke="#000" stroke-width="1.15"/>
<line x1="398.40000000000003" y1="237.6" x2="403.2" y2="237.6" stroke="#000" stroke-width="1.3" stroke-linecap="round"/>
<line x1="398.40000000000003" y1="264.0" x2="403.2" y2="264.0" stroke="#000" stroke-width="1.3" stroke-linecap="round"/>
<rect x="397.0" y="240.0" width="7.6" height="13.599999999999994" fill="#b31a32"/>
<line x1="397.0" y1="244.2" x2="404.6" y2="244.2" stroke="#3a0008" stroke-width="1.3"/>
<text x="356.40000000000003" y="285.8" font-size="5.3" text-anchor="end" fill="#1a1a1a" transform="rotate(-45 356.40000000000003 285.8)">T<tspan font-size="4.0" dy="1.2">SCM</tspan></text>
<text x="367.6" y="285.8" font-size="5.3" text-anchor="end" fill="#1a1a1a" transform="rotate(-45 367.6 285.8)">Other</text>
<text x="379.1" y="285.8" font-size="5.3" text-anchor="end" fill="#1a1a1a" transform="rotate(-45 379.1 285.8)">T<tspan font-size="4.0" dy="1.2">CM</tspan></text>
<text x="390.6" y="285.8" font-size="5.3" text-anchor="end" fill="#1a1a1a" transform="rotate(-45 390.6 285.8)">T<tspan font-size="4.0" dy="1.2">EM</tspan></text>
<text x="402.2" y="285.8" font-size="5.3" text-anchor="end" fill="#1a1a1a" transform="rotate(-45 402.2 285.8)">T<tspan font-size="4.0" dy="1.2">TE</tspan></text>
<line x1="447.3" y1="213.5" x2="447.3" y2="279.2" stroke="#111" stroke-width="1.1"/>
<line x1="446.8" y1="278.7" x2="488.5" y2="278.7" stroke="#111" stroke-width="1.1"/>
<line x1="445.1" y1="216.0" x2="447.3" y2="216.0" stroke="#111" stroke-width="0.8"/>
<line x1="446.1" y1="230.43373058953878" x2="447.3" y2="230.43373058953878" stroke="#111" stroke-width="0.6"/>
<line x1="446.1" y1="226.797446090039" x2="447.3" y2="226.797446090039" stroke="#111" stroke-width="0.6"/>
<line x1="446.1" y1="224.2174611790776" x2="447.3" y2="224.2174611790776" stroke="#111" stroke-width="0.6"/>
<line x1="446.1" y1="222.21626941046122" x2="447.3" y2="222.21626941046122" stroke="#111" stroke-width="0.6"/>
<line x1="446.1" y1="220.58117667957777" x2="447.3" y2="220.58117667957777" stroke="#111" stroke-width="0.6"/>
<line x1="446.1" y1="219.1987254737056" x2="447.3" y2="219.1987254737056" stroke="#111" stroke-width="0.6"/>
<line x1="446.1" y1="218.00119176861637" x2="447.3" y2="218.00119176861637" stroke="#111" stroke-width="0.6"/>
<line x1="446.1" y1="216.94489218007794" x2="447.3" y2="216.94489218007794" stroke="#111" stroke-width="0.6"/>
<line x1="445.1" y1="236.65" x2="447.3" y2="236.65" stroke="#111" stroke-width="0.8"/>
<line x1="446.1" y1="251.0837305895388" x2="447.3" y2="251.0837305895388" stroke="#111" stroke-width="0.6"/>
<line x1="446.1" y1="247.447446090039" x2="447.3" y2="247.447446090039" stroke="#111" stroke-width="0.6"/>
<line x1="446.1" y1="244.8674611790776" x2="447.3" y2="244.8674611790776" stroke="#111" stroke-width="0.6"/>
<line x1="446.1" y1="242.86626941046123" x2="447.3" y2="242.86626941046123" stroke="#111" stroke-width="0.6"/>
<line x1="446.1" y1="241.23117667957777" x2="447.3" y2="241.23117667957777" stroke="#111" stroke-width="0.6"/>
<line x1="446.1" y1="239.8487254737056" x2="447.3" y2="239.8487254737056" stroke="#111" stroke-width="0.6"/>
<line x1="446.1" y1="238.65119176861637" x2="447.3" y2="238.65119176861637" stroke="#111" stroke-width="0.6"/>
<line x1="446.1" y1="237.59489218007795" x2="447.3" y2="237.59489218007795" stroke="#111" stroke-width="0.6"/>
<line x1="445.1" y1="257.3" x2="447.3" y2="257.3" stroke="#111" stroke-width="0.8"/>
<line x1="446.1" y1="271.73373058953877" x2="447.3" y2="271.73373058953877" stroke="#111" stroke-width="0.6"/>
<line x1="446.1" y1="268.09744609003894" x2="447.3" y2="268.09744609003894" stroke="#111" stroke-width="0.6"/>
<line x1="446.1" y1="265.51746117907754" x2="447.3" y2="265.51746117907754" stroke="#111" stroke-width="0.6"/>
<line x1="446.1" y1="263.5162694104612" x2="447.3" y2="263.5162694104612" stroke="#111" stroke-width="0.6"/>
<line x1="446.1" y1="261.8811766795777" x2="447.3" y2="261.8811766795777" stroke="#111" stroke-width="0.6"/>
<line x1="446.1" y1="260.4987254737056" x2="447.3" y2="260.4987254737056" stroke="#111" stroke-width="0.6"/>
<line x1="446.1" y1="259.3011917686164" x2="447.3" y2="259.3011917686164" stroke="#111" stroke-width="0.6"/>
<line x1="446.1" y1="258.24489218007795" x2="447.3" y2="258.24489218007795" stroke="#111" stroke-width="0.6"/>
<line x1="445.1" y1="277.95" x2="447.3" y2="277.95" stroke="#111" stroke-width="0.8"/>
<text x="444.5" y="217.8" font-size="5.0" text-anchor="end" font-weight="normal" font-style="normal" fill="#1a1a1a">10</text>
<text x="444.5" y="238.45000000000002" font-size="5.0" text-anchor="end" font-weight="normal" font-style="normal" fill="#1a1a1a">1</text>
<text x="444.5" y="259.1" font-size="5.0" text-anchor="end" font-weight="normal" font-style="normal" fill="#1a1a1a">0.1</text>
<text x="444.5" y="279.75" font-size="5.0" text-anchor="end" font-weight="normal" font-style="normal" fill="#1a1a1a">0.01</text>
<line x1="458.9" y1="278.7" x2="458.9" y2="280.9" stroke="#111" stroke-width="0.8"/>
<line x1="483.1" y1="278.7" x2="483.1" y2="280.9" stroke="#111" stroke-width="0.8"/>
<line x1="460.1" y1="212.8" x2="483.3" y2="212.8" stroke="#111" stroke-width="0.9"/>
<text x="471.7" y="210.9" font-size="8" text-anchor="middle" font-weight="bold" font-style="normal" fill="#1a1a1a">*</text>
<text x="461.2" y="288.4" font-size="5.3" text-anchor="end" font-weight="normal" font-style="normal" fill="#1a1a1a" transform="rotate(-45 461.2 288.4)">Standard</text>
<text x="485.2" y="288.0" font-size="5.3" text-anchor="end" fill="#1a1a1a" transform="rotate(-45 485.2 288.0)">T<tspan font-size="4.6">SCM</tspan>-enriched</text>
<text x="429.8" y="243.2" font-size="5.1" text-anchor="middle" fill="#1a1a1a" transform="rotate(-90 429.8 243.2)">CD8<tspan font-size="3.2" dy="-1.8">+</tspan><tspan dy="1.8"> CAR</tspan><tspan font-size="3.2" dy="-1.8">+</tspan><tspan dy="1.8"> T</tspan><tspan font-size="3.2" dy="1.1">SCM</tspan><tspan dy="-1.1"> cells (10</tspan><tspan font-size="3.2" dy="-1.8">5</tspan><tspan dy="1.8">)</tspan></text>
<line x1="458.8" y1="236.6" x2="483.2" y2="227.9" stroke="#000" stroke-width="1.15"/>
<line x1="458.8" y1="245.7" x2="483.2" y2="218.8" stroke="#000" stroke-width="1.15"/>
<line x1="458.8" y1="255.2" x2="483.2" y2="231.6" stroke="#000" stroke-width="1.15"/>
<line x1="458.8" y1="262.6" x2="483.2" y2="235.2" stroke="#000" stroke-width="1.15"/>
<line x1="458.8" y1="257.4" x2="483.2" y2="244.4" stroke="#000" stroke-width="1.15"/>
<line x1="458.8" y1="268.4" x2="483.2" y2="250.5" stroke="#000" stroke-width="1.15"/>
<circle cx="458.8" cy="236.6" r="1.4" fill="#fff" stroke="#000" stroke-width="1.2"/>
<circle cx="483.2" cy="227.9" r="1.4" fill="#fff" stroke="#000" stroke-width="1.2"/>
<rect x="457.5" y="244.39999999999998" width="2.6" height="2.6" fill="#fff" stroke="#000" stroke-width="1.2"/>
<rect x="481.9" y="217.5" width="2.6" height="2.6" fill="#fff" stroke="#000" stroke-width="1.2"/>
<rect x="457.0" y="253.39999999999998" width="3.6" height="3.6" fill="#000"/>
<rect x="481.4" y="229.79999999999998" width="3.6" height="3.6" fill="#000"/>
<circle cx="458.8" cy="262.6" r="2.0" fill="#000"/>
<circle cx="483.2" cy="235.2" r="2.0" fill="#000"/>
<path d="M458.8,255.2 L461.1,259.29999999999995 L456.5,259.29999999999995 Z" fill="#000"/>
<path d="M483.2,242.20000000000002 L485.5,246.3 L480.9,246.3 Z" fill="#000"/>
<path d="M458.8,266.79999999999995 L460.7,269.9 L456.90000000000003,269.9 Z" fill="#fff" stroke="#000" stroke-width="0.95" stroke-linejoin="round"/>
<path d="M483.2,248.9 L485.09999999999997,252.0 L481.3,252.0 Z" fill="#fff" stroke="#000" stroke-width="0.95" stroke-linejoin="round"/>
<circle cx="494.79999999999995" cy="219.79999999999998" r="2.4" fill="#000"/>
<text x="500.7" y="221.6" font-size="5.4" text-anchor="start" font-weight="normal" font-style="normal" fill="#1a1a1a">HD 1</text>
<circle cx="494.79999999999995" cy="226.9" r="1.7999999999999998" fill="#fff" stroke="#000" stroke-width="1.2"/>
<text x="500.7" y="228.70000000000002" font-size="5.4" text-anchor="start" font-weight="normal" font-style="normal" fill="#1a1a1a">HD 2</text>
<rect x="492.59999999999997" y="231.7" width="4.3999999999999995" height="4.3999999999999995" fill="#000"/>
<text x="500.7" y="235.70000000000002" font-size="5.4" text-anchor="start" font-weight="normal" font-style="normal" fill="#1a1a1a">HD 3</text>
<rect x="493.09999999999997" y="239.09999999999997" width="3.4" height="3.4" fill="#fff" stroke="#000" stroke-width="1.2"/>
<text x="500.7" y="242.6" font-size="5.4" text-anchor="start" font-weight="normal" font-style="normal" fill="#1a1a1a">HD 4</text>
<path d="M494.80,245.25 L495.94,246.53 L497.51,247.22 L496.64,248.70 L496.48,250.41 L494.80,250.04 L493.12,250.41 L492.96,248.70 L492.09,247.22 L493.66,246.53 Z" fill="#000" stroke="#000" stroke-width="0.5" stroke-linejoin="round"/>
<text x="500.7" y="249.6" font-size="5.4" text-anchor="start" font-weight="normal" font-style="normal" fill="#1a1a1a">HD 5</text>
<path d="M494.80,252.40 L495.75,253.70 L497.27,254.20 L496.33,255.50 L496.33,257.10 L494.80,256.61 L493.27,257.10 L493.27,255.50 L492.33,254.20 L493.85,253.70 Z" fill="#fff" stroke="#000" stroke-width="1.0" stroke-linejoin="round"/>
<text x="500.7" y="256.5" font-size="5.4" text-anchor="start" font-weight="normal" font-style="normal" fill="#1a1a1a">HD 6</text>
<rect x="0.5" y="0.5" width="519" height="318" fill="none" stroke="#000" stroke-width="1.2"/>
</svg></div>
</body></html>
